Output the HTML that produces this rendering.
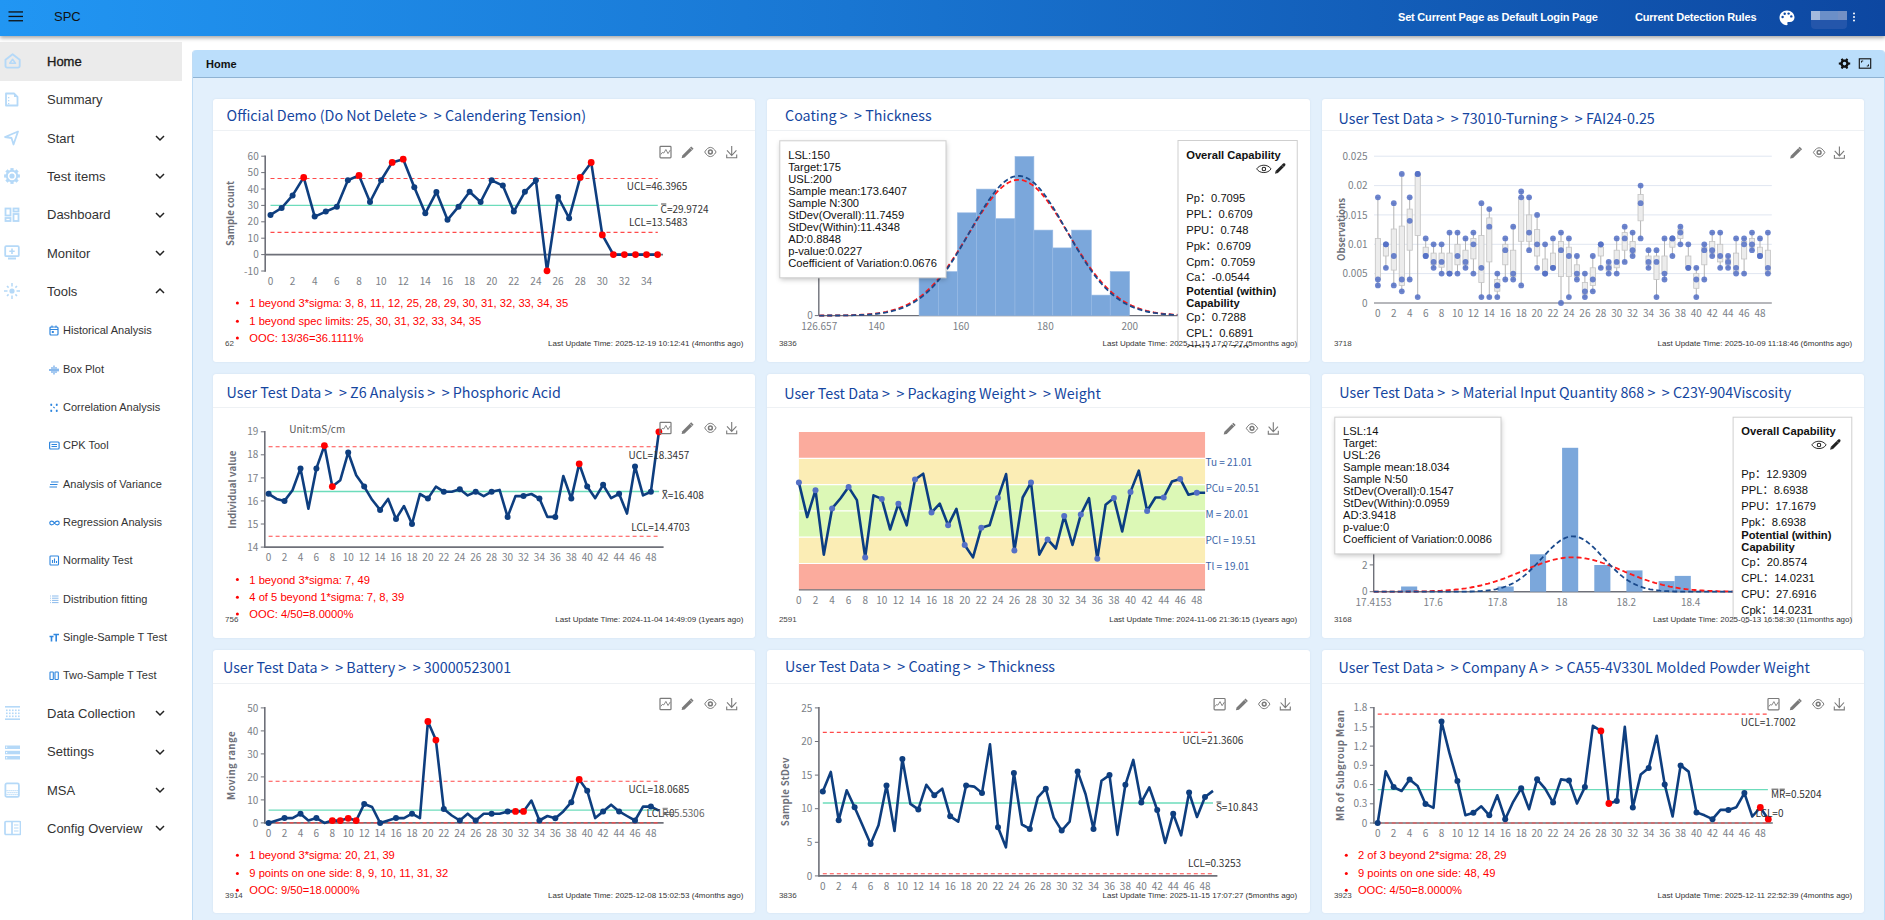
<!DOCTYPE html><html><head><meta charset="utf-8"><title>SPC</title><style>
*{margin:0;padding:0;box-sizing:border-box}
html,body{width:1885px;height:920px;overflow:hidden;background:#fff;font-family:"Liberation Sans",Arial,sans-serif;position:relative}
.abs{position:absolute}
#hdr{position:absolute;left:0;top:0;width:1885px;height:36px;background:linear-gradient(90deg,#2196f3 0%,#1976d2 45%,#0d47a1 100%);box-shadow:0 2px 4px rgba(0,0,0,.35);z-index:5}
#side{position:absolute;left:0;top:36px;width:182px;height:884px;background:#fff}
.mi{position:absolute;left:0;width:182px;height:38px;font-size:13px;color:#333}
.mi .t{position:absolute;left:47px;top:0;line-height:38px}
.si{position:absolute;left:0;width:182px;height:38px;font-size:11px;color:#333}
.si .t{position:absolute;left:63px;line-height:38px}
#panel{position:absolute;left:192px;top:50px;width:1693px;height:870px;background:#e3f0fc;border-left:1px solid #bfdcf5;border-right:1px solid #bbdcf7;border-radius:4px 4px 0 0}
#tab{position:absolute;left:0;top:0;right:0;height:28px;background:#bbdefb;border-bottom:1px solid #8fb3d3;border-radius:4px 4px 0 0}
.card{position:absolute;background:#fff;border-radius:3px;overflow:hidden;box-shadow:0 0 2px rgba(120,150,180,.18)}
.ttl{position:absolute;left:0;top:0;right:0;height:33px;border-bottom:1px solid #eef1f4;font-family:"Noto Sans CJK SC","Liberation Sans",sans-serif;font-size:14.3px;font-weight:400;color:#1546a0;white-space:nowrap}
.ttl span{position:absolute;top:5px;line-height:20px}
svg text{font-family:"Liberation Sans",Arial,sans-serif}
</style></head><body>
<div id="hdr">
<svg class="abs" style="left:8px;top:10px" width="16" height="14"><rect x="0.5" y="1.3" width="14.5" height="1.3" fill="#111"/><rect x="0.5" y="5.8" width="14.5" height="1.3" fill="#111"/><rect x="0.5" y="10.1" width="14.5" height="1.3" fill="#111"/></svg>
<div class="abs" style="left:54px;top:9px;font-size:13px;color:#111;line-height:15px">SPC</div>
<div class="abs" style="left:1398px;top:11px;font-size:11px;font-weight:bold;color:#fff;line-height:13px;letter-spacing:-0.2px">Set Current Page as Default Login Page</div>
<div class="abs" style="left:1635px;top:11px;font-size:11px;font-weight:bold;color:#fff;line-height:13px;letter-spacing:-0.2px">Current Detection Rules</div>
<svg class="abs" style="left:1778px;top:9px" width="18" height="18" viewBox="0 0 18 18"><path d="M9 1.5C4.8 1.5 1.5 4.6 1.5 8.6c0 4 3.3 7.6 7 7.6 1 0 1.3-.7 1-1.4-.4-.9-.3-1.8.8-1.8h1.6c2.6 0 4.6-1.8 4.6-4.5C16.5 4.6 13.2 1.5 9 1.5z" fill="#fff"/><circle cx="4.6" cy="8" r="1.2" fill="#0e4aa8"/><circle cx="6.7" cy="4.8" r="1.2" fill="#0e4aa8"/><circle cx="10.6" cy="4.6" r="1.2" fill="#0e4aa8"/><circle cx="13.3" cy="7.4" r="1.2" fill="#0e4aa8"/></svg>
<div class="abs" style="left:1811px;top:11px;width:36px;height:18px;border-radius:0 0 4px 4px;background:#2456ab"></div>
<div class="abs" style="left:1811px;top:11px;width:9px;height:9px;background:#a3b9dd"></div>
<div class="abs" style="left:1820px;top:11px;width:18px;height:9px;background:#6b8fc8"></div>
<div class="abs" style="left:1838px;top:11px;width:9px;height:9px;background:#7490c4"></div>
<svg class="abs" style="left:1852px;top:12px" width="4" height="10"><circle cx="2" cy="1.5" r="1" fill="#fff"/><circle cx="2" cy="5" r="1" fill="#fff"/><circle cx="2" cy="8.5" r="1" fill="#fff"/></svg>
</div>
<div id="side">
<div class="abs" style="left:0;top:6px;width:182px;height:39px;background:#ebebeb"></div>
</div>
<div id="panel"><div id="tab"><div class="abs" style="left:13px;top:8px;font-size:11px;font-weight:bold;color:#111;line-height:13px">Home</div></div></div>
<svg class="abs" style="left:1838px;top:57px" width="40" height="14" viewBox="1838 57 40 14"><path d="M1848.62 62.38 L1850.21 62.60 L1850.21 64.60 L1848.62 64.82 L1847.62 66.56 L1848.22 68.05 L1846.49 69.05 L1845.50 67.78 L1843.50 67.78 L1842.51 69.05 L1840.78 68.05 L1841.38 66.56 L1840.38 64.82 L1838.79 64.60 L1838.79 62.60 L1840.38 62.38 L1841.38 60.64 L1840.78 59.15 L1842.51 58.15 L1843.50 59.42 L1845.50 59.42 L1846.49 58.15 L1848.22 59.15 L1847.62 60.64 Z M1846.3 63.6 A1.8 1.8 0 1 0 1842.7 63.6 A1.8 1.8 0 1 0 1846.3 63.6 Z" fill="#111" fill-rule="evenodd"/><rect x="1859.3" y="58.8" width="11.4" height="9.4" fill="none" stroke="#111" stroke-width="1.1"/><path d="M1861.5 62.6 V61 H1863.2 M1868.5 64.4 V66 H1866.8" fill="none" stroke="#111" stroke-width="0.9"/></svg>
<div class="abs" style="left:47px;top:54.0px;font-size:13px;line-height:16px;color:#333;color:#1a1a1a;-webkit-text-stroke:0.35px #1a1a1a;white-space:nowrap">Home</div>
<svg class="abs" style="left:4px;top:53.2px" width="17" height="16" viewBox="0 0 17 16"><path d="M8.6 1.3 L15.7 6.8 V12.9 a1.7 1.7 0 0 1 -1.7 1.7 H3.2 a1.7 1.7 0 0 1 -1.7 -1.7 V6.8 Z" fill="none" stroke="#b5d9f8" stroke-width="1.9" stroke-linejoin="round"/><path d="M8.6 6.3 L11.5 10.3 H5.7 Z" fill="none" stroke="#b5d9f8" stroke-width="1.5" stroke-linejoin="round"/></svg>
<div class="abs" style="left:47px;top:92.4px;font-size:13px;line-height:16px;color:#333;white-space:nowrap">Summary</div>
<svg class="abs" style="left:4px;top:91.6px" width="17" height="16" viewBox="0 0 17 16"><path d="M2 1.5 H10 L13.5 5 V13.5 H2 Z" fill="none" stroke="#b5d9f8" stroke-width="1.8" stroke-linejoin="round"/><rect x="4" y="5" width="1.3" height="1.3" fill="#b5d9f8"/><rect x="4" y="8" width="1.3" height="1.3" fill="#b5d9f8"/><rect x="4" y="11" width="1.3" height="1.3" fill="#b5d9f8"/><path d="M10 1.5 V5 H13.5" fill="#b5d9f8"/></svg>
<div class="abs" style="left:47px;top:130.7px;font-size:13px;line-height:16px;color:#333;white-space:nowrap">Start</div>
<svg class="abs" style="left:4px;top:129.9px" width="17" height="16" viewBox="0 0 17 16"><path d="M14 1.5 L1 7 L7.5 8 L9.5 14.5 Z" fill="none" stroke="#b5d9f8" stroke-width="1.8" stroke-linejoin="round"/></svg>
<svg class="abs" style="left:154.5px;top:133.9px" width="10" height="8"><path d="M1 2 L5 6 L9 2" fill="none" stroke="#222" stroke-width="1.5"/></svg>
<div class="abs" style="left:47px;top:169.1px;font-size:13px;line-height:16px;color:#333;white-space:nowrap">Test items</div>
<svg class="abs" style="left:4px;top:168.2px" width="17" height="16" viewBox="0 0 17 16"><rect x="12.70" y="6.40" width="3.2" height="3.2" fill="#b5d9f8" transform="rotate(0 14.30 8.00)"/><rect x="10.85" y="10.85" width="3.2" height="3.2" fill="#b5d9f8" transform="rotate(45 12.45 12.45)"/><rect x="6.40" y="12.70" width="3.2" height="3.2" fill="#b5d9f8" transform="rotate(90 8.00 14.30)"/><rect x="1.95" y="10.85" width="3.2" height="3.2" fill="#b5d9f8" transform="rotate(135 3.55 12.45)"/><rect x="0.10" y="6.40" width="3.2" height="3.2" fill="#b5d9f8" transform="rotate(180 1.70 8.00)"/><rect x="1.95" y="1.95" width="3.2" height="3.2" fill="#b5d9f8" transform="rotate(225 3.55 3.55)"/><rect x="6.40" y="0.10" width="3.2" height="3.2" fill="#b5d9f8" transform="rotate(270 8.00 1.70)"/><rect x="10.85" y="1.95" width="3.2" height="3.2" fill="#b5d9f8" transform="rotate(315 12.45 3.55)"/><circle cx="8" cy="8" r="5.2" fill="none" stroke="#b5d9f8" stroke-width="2"/><circle cx="8" cy="8" r="2.6" fill="#b5d9f8"/></svg>
<svg class="abs" style="left:154.5px;top:172.2px" width="10" height="8"><path d="M1 2 L5 6 L9 2" fill="none" stroke="#222" stroke-width="1.5"/></svg>
<div class="abs" style="left:47px;top:207.4px;font-size:13px;line-height:16px;color:#333;white-space:nowrap">Dashboard</div>
<svg class="abs" style="left:4px;top:206.6px" width="17" height="16" viewBox="0 0 17 16"><rect x="1.5" y="1.5" width="5" height="7" fill="none" stroke="#b5d9f8" stroke-width="1.8"/><rect x="9.5" y="1.5" width="5" height="3" fill="none" stroke="#b5d9f8" stroke-width="1.8"/><rect x="1.5" y="11" width="5" height="3" fill="none" stroke="#b5d9f8" stroke-width="1.8"/><rect x="9.5" y="7" width="5" height="7" fill="none" stroke="#b5d9f8" stroke-width="1.8"/></svg>
<svg class="abs" style="left:154.5px;top:210.6px" width="10" height="8"><path d="M1 2 L5 6 L9 2" fill="none" stroke="#222" stroke-width="1.5"/></svg>
<div class="abs" style="left:47px;top:245.8px;font-size:13px;line-height:16px;color:#333;white-space:nowrap">Monitor</div>
<svg class="abs" style="left:4px;top:244.9px" width="17" height="16" viewBox="0 0 17 16"><rect x="1.2" y="1.2" width="13.6" height="10" rx="1" fill="none" stroke="#b5d9f8" stroke-width="1.8"/><rect x="4" y="12.5" width="8" height="2" fill="#b5d9f8"/><path d="M8 3.6 V9 M5.3 6.3 H10.7" stroke="#b5d9f8" stroke-width="1.6"/></svg>
<svg class="abs" style="left:154.5px;top:248.9px" width="10" height="8"><path d="M1 2 L5 6 L9 2" fill="none" stroke="#222" stroke-width="1.5"/></svg>
<div class="abs" style="left:47px;top:284.1px;font-size:13px;line-height:16px;color:#333;white-space:nowrap">Tools</div>
<svg class="abs" style="left:4px;top:283.3px" width="17" height="16" viewBox="0 0 17 16"><circle cx="8" cy="8" r="2.6" fill="#b5d9f8"/><path d="M8 0 V3.5 M8 12.5 V16 M0 8 H3.5 M12.5 8 H16 M3 3 L4.6 4.6 M13 3 L11.4 4.6 M3 13 L4.6 11.4 M13 13 L11.4 11.4" stroke="#b5d9f8" stroke-width="1.5"/></svg>
<svg class="abs" style="left:154.5px;top:287.3px" width="10" height="8"><path d="M1 6 L5 2 L9 6" fill="none" stroke="#222" stroke-width="1.5"/></svg>
<div class="abs" style="left:63px;top:324.1px;font-size:11px;line-height:13px;color:#333;white-space:nowrap">Historical Analysis</div>
<svg class="abs" style="left:48.5px;top:325.1px" width="11" height="11" viewBox="0 0 11 11"><rect x="1" y="2" width="8" height="8" rx="1" fill="none" stroke="#2f86de" stroke-width="1.2"/><path d="M1 4.5 H9 M3 0.5 V2.5 M7 0.5 V2.5" stroke="#2f86de" stroke-width="1.1"/><rect x="2.8" y="6" width="2" height="2" fill="#2f86de"/></svg>
<div class="abs" style="left:63px;top:362.5px;font-size:11px;line-height:13px;color:#333;white-space:nowrap">Box Plot</div>
<svg class="abs" style="left:48.5px;top:363.5px" width="11" height="11" viewBox="0 0 11 11"><path d="M1 5 V7 M3 3 V9 M5 1.5 V10.5 M7 3 V9 M9 4.5 V7.5" stroke="#5d9ee6" stroke-width="1.1"/><path d="M0 6 H10" stroke="#5d9ee6" stroke-width="0.8"/></svg>
<div class="abs" style="left:63px;top:400.9px;font-size:11px;line-height:13px;color:#333;white-space:nowrap">Correlation Analysis</div>
<svg class="abs" style="left:48.5px;top:401.9px" width="11" height="11" viewBox="0 0 11 11"><path d="M1.5 2 L3 3.5 M7 2 L8.5 3.5 M1.5 8 L3 9.5 M7 8 L8.5 9.5 M4.3 4.8 L5.7 6.2 M8.5 2 L7 3.5 M3 2 L1.5 3.5 M3 8 L1.5 9.5 M8.5 8 L7 9.5" stroke="#2f86de" stroke-width="1.1"/></svg>
<div class="abs" style="left:63px;top:439.2px;font-size:11px;line-height:13px;color:#333;white-space:nowrap">CPK Tool</div>
<svg class="abs" style="left:48.5px;top:440.2px" width="11" height="11" viewBox="0 0 11 11"><rect x="0.6" y="2" width="9.5" height="7" rx="1" fill="none" stroke="#2f86de" stroke-width="1.2"/><path d="M2.5 4.5 H8 M2.5 6.5 H8" stroke="#2f86de" stroke-width="1"/></svg>
<div class="abs" style="left:63px;top:477.6px;font-size:11px;line-height:13px;color:#333;white-space:nowrap">Analysis of Variance</div>
<svg class="abs" style="left:48.5px;top:478.6px" width="11" height="11" viewBox="0 0 11 11"><path d="M2 3 H9.5 M1 5.5 H8.5 M0.5 8 H8" stroke="#2f86de" stroke-width="1.1"/></svg>
<div class="abs" style="left:63px;top:515.9px;font-size:11px;line-height:13px;color:#333;white-space:nowrap">Regression Analysis</div>
<svg class="abs" style="left:48.5px;top:516.9px" width="11" height="11" viewBox="0 0 11 11"><path d="M5.5 6 C4 3.5 0.8 3.5 0.8 6 C0.8 8.5 4 8.5 5.5 6 C7 3.5 10.2 3.5 10.2 6 C10.2 8.5 7 8.5 5.5 6 Z" fill="none" stroke="#2f86de" stroke-width="1.2"/></svg>
<div class="abs" style="left:63px;top:554.2px;font-size:11px;line-height:13px;color:#333;white-space:nowrap">Normality Test</div>
<svg class="abs" style="left:48.5px;top:555.2px" width="11" height="11" viewBox="0 0 11 11"><rect x="1" y="1" width="8.5" height="9" rx="0.8" fill="none" stroke="#2f86de" stroke-width="1.1"/><path d="M3.5 8 V5 M5.5 8 V3.5 M7.5 8 V6" stroke="#2f86de" stroke-width="1.1"/></svg>
<div class="abs" style="left:63px;top:592.6px;font-size:11px;line-height:13px;color:#333;white-space:nowrap">Distribution fitting</div>
<svg class="abs" style="left:48.5px;top:593.6px" width="11" height="11" viewBox="0 0 11 11"><path d="M1 2 H1.8 M3 2 H9.5" stroke="#7fb3ea" stroke-width="0.9"/><path d="M1 4.2 H1.8 M3 4.2 H9.5" stroke="#7fb3ea" stroke-width="0.9"/><path d="M1 6.4 H1.8 M3 6.4 H9.5" stroke="#7fb3ea" stroke-width="0.9"/><path d="M1 8.6 H1.8 M3 8.6 H9.5" stroke="#7fb3ea" stroke-width="0.9"/></svg>
<div class="abs" style="left:63px;top:631.0px;font-size:11px;line-height:13px;color:#333;white-space:nowrap">Single-Sample T Test</div>
<svg class="abs" style="left:48.5px;top:632.0px" width="11" height="11" viewBox="0 0 11 11"><path d="M0.5 4.5 H4.5 M2.5 4.5 V9.5 M4.5 2.5 H10 M7.2 2.5 V9.5" stroke="#2f86de" stroke-width="1.6"/></svg>
<div class="abs" style="left:63px;top:669.3px;font-size:11px;line-height:13px;color:#333;white-space:nowrap">Two-Sample T Test</div>
<svg class="abs" style="left:48.5px;top:670.3px" width="11" height="11" viewBox="0 0 11 11"><rect x="1" y="2" width="3.3" height="7.5" rx="0.6" fill="none" stroke="#2f86de" stroke-width="1.1"/><rect x="6" y="2" width="3.3" height="7.5" rx="0.6" fill="none" stroke="#2f86de" stroke-width="1.1"/></svg>
<div class="abs" style="left:47px;top:706.0px;font-size:13px;line-height:16px;color:#333;white-space:nowrap">Data Collection</div>
<svg class="abs" style="left:4px;top:705.2px" width="17" height="16" viewBox="0 0 17 16"><rect x="1" y="1" width="15" height="1.6" fill="#b5d9f8"/><rect x="1" y="13.4" width="15" height="1.6" fill="#b5d9f8"/><rect x="2" y="4.5" width="1.6" height="1.6" fill="#b5d9f8"/><rect x="5" y="4.5" width="1.6" height="1.6" fill="#b5d9f8"/><rect x="8" y="4.5" width="1.6" height="1.6" fill="#b5d9f8"/><rect x="11" y="4.5" width="1.6" height="1.6" fill="#b5d9f8"/><rect x="14" y="4.5" width="1.6" height="1.6" fill="#b5d9f8"/><rect x="2" y="7.5" width="1.6" height="1.6" fill="#b5d9f8"/><rect x="5" y="7.5" width="1.6" height="1.6" fill="#b5d9f8"/><rect x="8" y="7.5" width="1.6" height="1.6" fill="#b5d9f8"/><rect x="11" y="7.5" width="1.6" height="1.6" fill="#b5d9f8"/><rect x="14" y="7.5" width="1.6" height="1.6" fill="#b5d9f8"/><rect x="2" y="10.5" width="1.6" height="1.6" fill="#b5d9f8"/><rect x="5" y="10.5" width="1.6" height="1.6" fill="#b5d9f8"/><rect x="8" y="10.5" width="1.6" height="1.6" fill="#b5d9f8"/><rect x="11" y="10.5" width="1.6" height="1.6" fill="#b5d9f8"/><rect x="14" y="10.5" width="1.6" height="1.6" fill="#b5d9f8"/></svg>
<svg class="abs" style="left:154.5px;top:709.2px" width="10" height="8"><path d="M1 2 L5 6 L9 2" fill="none" stroke="#222" stroke-width="1.5"/></svg>
<div class="abs" style="left:47px;top:744.3px;font-size:13px;line-height:16px;color:#333;white-space:nowrap">Settings</div>
<svg class="abs" style="left:4px;top:743.5px" width="17" height="16" viewBox="0 0 17 16"><rect x="1" y="1.5" width="15" height="3.5" fill="#b5d9f8"/><rect x="1" y="6.8" width="15" height="3.5" fill="#b5d9f8"/><rect x="1" y="12" width="15" height="3.5" fill="#b5d9f8"/><rect x="2" y="2.6" width="1.2" height="1.2" fill="#fff"/><rect x="2" y="8" width="1.2" height="1.2" fill="#fff"/><rect x="2" y="13.2" width="1.2" height="1.2" fill="#fff"/></svg>
<svg class="abs" style="left:154.5px;top:747.5px" width="10" height="8"><path d="M1 2 L5 6 L9 2" fill="none" stroke="#222" stroke-width="1.5"/></svg>
<div class="abs" style="left:47px;top:782.6px;font-size:13px;line-height:16px;color:#333;white-space:nowrap">MSA</div>
<svg class="abs" style="left:4px;top:781.9px" width="17" height="16" viewBox="0 0 17 16"><rect x="1.4" y="1.4" width="13.5" height="13.5" rx="1.5" fill="none" stroke="#b5d9f8" stroke-width="1.8"/><rect x="2.5" y="8" width="1.2" height="1.2" fill="#b5d9f8"/><rect x="4.5" y="8" width="1.2" height="1.2" fill="#b5d9f8"/><rect x="6.5" y="8" width="1.2" height="1.2" fill="#b5d9f8"/><rect x="8.5" y="8" width="1.2" height="1.2" fill="#b5d9f8"/><rect x="10.5" y="8" width="1.2" height="1.2" fill="#b5d9f8"/><rect x="12.5" y="8" width="1.2" height="1.2" fill="#b5d9f8"/><rect x="3.5" y="10" width="1.2" height="1.2" fill="#b5d9f8"/><rect x="5.5" y="10" width="1.2" height="1.2" fill="#b5d9f8"/><rect x="7.5" y="10" width="1.2" height="1.2" fill="#b5d9f8"/><rect x="9.5" y="10" width="1.2" height="1.2" fill="#b5d9f8"/><rect x="11.5" y="10" width="1.2" height="1.2" fill="#b5d9f8"/><rect x="13.5" y="10" width="1.2" height="1.2" fill="#b5d9f8"/><rect x="2.5" y="12" width="1.2" height="1.2" fill="#b5d9f8"/><rect x="4.5" y="12" width="1.2" height="1.2" fill="#b5d9f8"/><rect x="6.5" y="12" width="1.2" height="1.2" fill="#b5d9f8"/><rect x="8.5" y="12" width="1.2" height="1.2" fill="#b5d9f8"/><rect x="10.5" y="12" width="1.2" height="1.2" fill="#b5d9f8"/><rect x="12.5" y="12" width="1.2" height="1.2" fill="#b5d9f8"/></svg>
<svg class="abs" style="left:154.5px;top:785.9px" width="10" height="8"><path d="M1 2 L5 6 L9 2" fill="none" stroke="#222" stroke-width="1.5"/></svg>
<div class="abs" style="left:47px;top:821.0px;font-size:13px;line-height:16px;color:#333;white-space:nowrap">Config Overview</div>
<svg class="abs" style="left:4px;top:820.2px" width="17" height="16" viewBox="0 0 17 16"><rect x="1" y="1.5" width="15.5" height="13" rx="1" fill="none" stroke="#b5d9f8" stroke-width="1.7"/><path d="M8 1.5 V14.5" stroke="#b5d9f8" stroke-width="1.7"/><path d="M10 5 H14.5 M10 8 H14.5 M10 11 H14.5" stroke="#b5d9f8" stroke-width="1.2"/></svg>
<svg class="abs" style="left:154.5px;top:824.2px" width="10" height="8"><path d="M1 2 L5 6 L9 2" fill="none" stroke="#222" stroke-width="1.5"/></svg>
<div class="card" style="left:212.8px;top:98.9px;width:542.2px;height:263.4px">
<div class="ttl" style="height:32.6px"><span style="left:13.8px;top:6.6px">Official Demo (Do Not Delete &gt;&nbsp; &gt; Calendering Tension)</span></div>
</div>
<svg class="abs" style="left:212px;top:98px;overflow:hidden" width="543" height="265" viewBox="212 98 543 265"><line x1="265.2" y1="155.4" x2="265.2" y2="271.8" stroke="#6e7079" stroke-width="1.6"/><line x1="265.2" y1="254.6" x2="663.0" y2="254.6" stroke="#6e7079" stroke-width="1.6"/><line x1="270.5" y1="178.5" x2="657.8" y2="178.5" stroke="#ff4a4a" stroke-width="1.1" stroke-dasharray="4 3"/><line x1="270.5" y1="205.4" x2="657.8" y2="205.4" stroke="#6cdcbb" stroke-width="1.3"/><line x1="270.5" y1="232.4" x2="657.8" y2="232.4" stroke="#ff4a4a" stroke-width="1.1" stroke-dasharray="4 3"/><line x1="261.2" y1="271.0" x2="265.2" y2="271.0" stroke="#6e7079" stroke-width="1"/><text x="258.7" y="274.6" font-size="10" fill="#7b7f87" text-anchor="end" style="font-family:&quot;Noto Sans CJK SC&quot;,&quot;Liberation Sans&quot;,sans-serif" >-10</text><line x1="261.2" y1="254.6" x2="265.2" y2="254.6" stroke="#6e7079" stroke-width="1"/><text x="258.7" y="258.2" font-size="10" fill="#7b7f87" text-anchor="end" style="font-family:&quot;Noto Sans CJK SC&quot;,&quot;Liberation Sans&quot;,sans-serif" >0</text><line x1="261.2" y1="238.2" x2="265.2" y2="238.2" stroke="#6e7079" stroke-width="1"/><text x="258.7" y="241.8" font-size="10" fill="#7b7f87" text-anchor="end" style="font-family:&quot;Noto Sans CJK SC&quot;,&quot;Liberation Sans&quot;,sans-serif" >10</text><line x1="261.2" y1="221.8" x2="265.2" y2="221.8" stroke="#6e7079" stroke-width="1"/><text x="258.7" y="225.4" font-size="10" fill="#7b7f87" text-anchor="end" style="font-family:&quot;Noto Sans CJK SC&quot;,&quot;Liberation Sans&quot;,sans-serif" >20</text><line x1="261.2" y1="205.4" x2="265.2" y2="205.4" stroke="#6e7079" stroke-width="1"/><text x="258.7" y="209.0" font-size="10" fill="#7b7f87" text-anchor="end" style="font-family:&quot;Noto Sans CJK SC&quot;,&quot;Liberation Sans&quot;,sans-serif" >30</text><line x1="261.2" y1="189.0" x2="265.2" y2="189.0" stroke="#6e7079" stroke-width="1"/><text x="258.7" y="192.6" font-size="10" fill="#7b7f87" text-anchor="end" style="font-family:&quot;Noto Sans CJK SC&quot;,&quot;Liberation Sans&quot;,sans-serif" >40</text><line x1="261.2" y1="172.6" x2="265.2" y2="172.6" stroke="#6e7079" stroke-width="1"/><text x="258.7" y="176.2" font-size="10" fill="#7b7f87" text-anchor="end" style="font-family:&quot;Noto Sans CJK SC&quot;,&quot;Liberation Sans&quot;,sans-serif" >50</text><line x1="261.2" y1="156.2" x2="265.2" y2="156.2" stroke="#6e7079" stroke-width="1"/><text x="258.7" y="159.8" font-size="10" fill="#7b7f87" text-anchor="end" style="font-family:&quot;Noto Sans CJK SC&quot;,&quot;Liberation Sans&quot;,sans-serif" >60</text><text x="270.5" y="284.8" font-size="10" fill="#7b7f87" text-anchor="middle" style="font-family:&quot;Noto Sans CJK SC&quot;,&quot;Liberation Sans&quot;,sans-serif" >0</text><text x="292.6" y="284.8" font-size="10" fill="#7b7f87" text-anchor="middle" style="font-family:&quot;Noto Sans CJK SC&quot;,&quot;Liberation Sans&quot;,sans-serif" >2</text><text x="314.7" y="284.8" font-size="10" fill="#7b7f87" text-anchor="middle" style="font-family:&quot;Noto Sans CJK SC&quot;,&quot;Liberation Sans&quot;,sans-serif" >4</text><text x="336.9" y="284.8" font-size="10" fill="#7b7f87" text-anchor="middle" style="font-family:&quot;Noto Sans CJK SC&quot;,&quot;Liberation Sans&quot;,sans-serif" >6</text><text x="359.0" y="284.8" font-size="10" fill="#7b7f87" text-anchor="middle" style="font-family:&quot;Noto Sans CJK SC&quot;,&quot;Liberation Sans&quot;,sans-serif" >8</text><text x="381.1" y="284.8" font-size="10" fill="#7b7f87" text-anchor="middle" style="font-family:&quot;Noto Sans CJK SC&quot;,&quot;Liberation Sans&quot;,sans-serif" >10</text><text x="403.2" y="284.8" font-size="10" fill="#7b7f87" text-anchor="middle" style="font-family:&quot;Noto Sans CJK SC&quot;,&quot;Liberation Sans&quot;,sans-serif" >12</text><text x="425.3" y="284.8" font-size="10" fill="#7b7f87" text-anchor="middle" style="font-family:&quot;Noto Sans CJK SC&quot;,&quot;Liberation Sans&quot;,sans-serif" >14</text><text x="447.5" y="284.8" font-size="10" fill="#7b7f87" text-anchor="middle" style="font-family:&quot;Noto Sans CJK SC&quot;,&quot;Liberation Sans&quot;,sans-serif" >16</text><text x="469.6" y="284.8" font-size="10" fill="#7b7f87" text-anchor="middle" style="font-family:&quot;Noto Sans CJK SC&quot;,&quot;Liberation Sans&quot;,sans-serif" >18</text><text x="491.7" y="284.8" font-size="10" fill="#7b7f87" text-anchor="middle" style="font-family:&quot;Noto Sans CJK SC&quot;,&quot;Liberation Sans&quot;,sans-serif" >20</text><text x="513.8" y="284.8" font-size="10" fill="#7b7f87" text-anchor="middle" style="font-family:&quot;Noto Sans CJK SC&quot;,&quot;Liberation Sans&quot;,sans-serif" >22</text><text x="535.9" y="284.8" font-size="10" fill="#7b7f87" text-anchor="middle" style="font-family:&quot;Noto Sans CJK SC&quot;,&quot;Liberation Sans&quot;,sans-serif" >24</text><text x="558.1" y="284.8" font-size="10" fill="#7b7f87" text-anchor="middle" style="font-family:&quot;Noto Sans CJK SC&quot;,&quot;Liberation Sans&quot;,sans-serif" >26</text><text x="580.2" y="284.8" font-size="10" fill="#7b7f87" text-anchor="middle" style="font-family:&quot;Noto Sans CJK SC&quot;,&quot;Liberation Sans&quot;,sans-serif" >28</text><text x="602.3" y="284.8" font-size="10" fill="#7b7f87" text-anchor="middle" style="font-family:&quot;Noto Sans CJK SC&quot;,&quot;Liberation Sans&quot;,sans-serif" >30</text><text x="624.4" y="284.8" font-size="10" fill="#7b7f87" text-anchor="middle" style="font-family:&quot;Noto Sans CJK SC&quot;,&quot;Liberation Sans&quot;,sans-serif" >32</text><text x="646.5" y="284.8" font-size="10" fill="#7b7f87" text-anchor="middle" style="font-family:&quot;Noto Sans CJK SC&quot;,&quot;Liberation Sans&quot;,sans-serif" >34</text><text x="234.4" y="213.5" font-size="9.6" fill="#6e7079" text-anchor="middle" style="font-family:&quot;Noto Sans CJK SC&quot;,&quot;Liberation Sans&quot;,sans-serif" font-weight="bold" letter-spacing="0" transform="rotate(-90 234.4 213.5)">Sample count</text><polyline points="270.5,214.9 281.6,208.0 292.6,195.4 303.7,177.4 314.7,216.6 325.8,211.6 336.9,206.7 347.9,180.3 359.0,175.4 370.0,202.0 381.1,180.3 392.2,162.4 403.2,159.2 414.3,187.2 425.3,213.3 436.4,192.1 447.5,219.8 458.5,206.7 469.6,191.8 480.6,202.0 491.7,180.3 502.8,185.6 513.8,211.6 524.9,191.8 535.9,180.3 547.0,270.8 558.1,197.0 569.1,218.2 580.2,177.4 591.2,162.4 602.3,234.9 613.4,254.6 624.4,254.6 635.5,254.6 646.5,254.6 657.6,254.6" fill="none" stroke="#0e3e7f" stroke-width="2.6" stroke-linejoin="round"/><circle cx="270.5" cy="214.9" r="3" fill="#0e3e7f"/><circle cx="281.6" cy="208.0" r="3" fill="#0e3e7f"/><circle cx="292.6" cy="195.4" r="3" fill="#0e3e7f"/><circle cx="314.7" cy="216.6" r="3" fill="#0e3e7f"/><circle cx="325.8" cy="211.6" r="3" fill="#0e3e7f"/><circle cx="336.9" cy="206.7" r="3" fill="#0e3e7f"/><circle cx="347.9" cy="180.3" r="3" fill="#0e3e7f"/><circle cx="370.0" cy="202.0" r="3" fill="#0e3e7f"/><circle cx="381.1" cy="180.3" r="3" fill="#0e3e7f"/><circle cx="414.3" cy="187.2" r="3" fill="#0e3e7f"/><circle cx="425.3" cy="213.3" r="3" fill="#0e3e7f"/><circle cx="436.4" cy="192.1" r="3" fill="#0e3e7f"/><circle cx="447.5" cy="219.8" r="3" fill="#0e3e7f"/><circle cx="458.5" cy="206.7" r="3" fill="#0e3e7f"/><circle cx="469.6" cy="191.8" r="3" fill="#0e3e7f"/><circle cx="480.6" cy="202.0" r="3" fill="#0e3e7f"/><circle cx="491.7" cy="180.3" r="3" fill="#0e3e7f"/><circle cx="502.8" cy="185.6" r="3" fill="#0e3e7f"/><circle cx="513.8" cy="211.6" r="3" fill="#0e3e7f"/><circle cx="524.9" cy="191.8" r="3" fill="#0e3e7f"/><circle cx="535.9" cy="180.3" r="3" fill="#0e3e7f"/><circle cx="558.1" cy="197.0" r="3" fill="#0e3e7f"/><circle cx="569.1" cy="218.2" r="3" fill="#0e3e7f"/><circle cx="303.7" cy="177.4" r="3.4" fill="#ff0000"/><circle cx="359.0" cy="175.4" r="3.4" fill="#ff0000"/><circle cx="392.2" cy="162.4" r="3.4" fill="#ff0000"/><circle cx="403.2" cy="159.2" r="3.4" fill="#ff0000"/><circle cx="547.0" cy="270.8" r="3.4" fill="#ff0000"/><circle cx="580.2" cy="177.4" r="3.4" fill="#ff0000"/><circle cx="591.2" cy="162.4" r="3.4" fill="#ff0000"/><circle cx="602.3" cy="234.9" r="3.4" fill="#ff0000"/><circle cx="613.4" cy="254.6" r="3.4" fill="#ff0000"/><circle cx="624.4" cy="254.6" r="3.4" fill="#ff0000"/><circle cx="635.5" cy="254.6" r="3.4" fill="#ff0000"/><circle cx="646.5" cy="254.6" r="3.4" fill="#ff0000"/><circle cx="657.6" cy="254.6" r="3.4" fill="#ff0000"/><text x="626.7" y="189.8" font-size="10" fill="#333" text-anchor="start" style="font-family:&quot;Noto Sans CJK SC&quot;,&quot;Liberation Sans&quot;,sans-serif" >UCL=46.3965</text><line x1="661.1" y1="204.0" x2="666.3" y2="204.0" stroke="#333" stroke-width="0.9"/><text x="660.5" y="212.6" font-size="10" fill="#333" text-anchor="start" style="font-family:&quot;Noto Sans CJK SC&quot;,&quot;Liberation Sans&quot;,sans-serif" >C=29.9724</text><text x="629.0" y="226.3" font-size="10" fill="#333" text-anchor="start" style="font-family:&quot;Noto Sans CJK SC&quot;,&quot;Liberation Sans&quot;,sans-serif" >LCL=13.5483</text><rect x="660.0" y="146.4" width="11" height="11.4" rx="0.8" fill="none" stroke="#7a7a7a" stroke-width="1.2"/><path d="M660.8 154.5 L662.3 152.5 L663.8 153.0 L665.9 149.5 L668.0 153.6 L670.3 150.0" fill="none" stroke="#7a7a7a" stroke-width="0.9"/><path d="M681.6 158.2 L682.3 155.4 L691.2 146.4 L693.6 148.8 L684.6 157.6 Z" fill="#7a7a7a"/><path d="M689.9 147.7 L692.3 150.1" stroke="#fff" stroke-width="0.7" opacity="0.8"/><path d="M704.7 152.0 C706.7 148.6 708.7 147.4 710.4 147.4 C712.1 147.4 714.1 148.6 716.1 152.0 C714.1 155.4 712.1 156.6 710.4 156.6 C708.7 156.6 706.7 155.4 704.7 152.0 Z" fill="none" stroke="#7a7a7a" stroke-width="1"/><circle cx="710.4" cy="152.0" r="1.9" fill="none" stroke="#7a7a7a" stroke-width="1.5"/><path d="M731.7 146.0 V155.5 M727.0 150.4 L731.7 155.5 L736.4 150.4 M726.7 154.5 V157.8 H736.7 V154.5" fill="none" stroke="#7a7a7a" stroke-width="1.1"/><circle cx="237.4" cy="303.0" r="1.5" fill="#ff0000"/><text x="249.3" y="307.0" font-size="11.2" fill="#ff0000" text-anchor="start" style="font-family:&quot;Liberation Sans&quot;,Arial,sans-serif" >1 beyond 3*sigma: 3, 8, 11, 12, 25, 28, 29, 30, 31, 32, 33, 34, 35</text><circle cx="237.4" cy="321.3" r="1.5" fill="#ff0000"/><text x="249.3" y="325.3" font-size="11.2" fill="#ff0000" text-anchor="start" style="font-family:&quot;Liberation Sans&quot;,Arial,sans-serif" >1 beyond spec limits: 25, 30, 31, 32, 33, 34, 35</text><circle cx="237.4" cy="338.0" r="1.5" fill="#ff0000"/><text x="249.3" y="342.0" font-size="11.2" fill="#ff0000" text-anchor="start" style="font-family:&quot;Liberation Sans&quot;,Arial,sans-serif" >OOC: 13/36=36.1111%</text><text x="225.0" y="346.0" font-size="8" fill="#444" text-anchor="start" style="font-family:&quot;Liberation Sans&quot;,Arial,sans-serif" >62</text><text x="743.3" y="346.0" font-size="8" fill="#333" text-anchor="end" style="font-family:&quot;Liberation Sans&quot;,Arial,sans-serif" >Last Update Time: 2025-12-19 10:12:41 (4months ago)</text></svg>
<div class="card" style="left:767.45px;top:98.9px;width:542.3px;height:263.4px">
<div class="ttl" style="height:32.6px"><span style="left:17.6px;top:6.6px">Coating &gt;&nbsp; &gt; Thickness</span></div>
</div>
<svg class="abs" style="left:767px;top:98px;overflow:hidden" width="543" height="265" viewBox="767 98 543 265"><defs><filter id="blur2" x="-10%" y="-10%" width="120%" height="125%"><feGaussianBlur stdDeviation="2.6"/></filter><clipPath id="cp2"><rect x="1170" y="130" width="140" height="217.5"/></clipPath></defs><line x1="818.8" y1="315.6" x2="1217" y2="315.6" stroke="#6e7079" stroke-width="1.4"/><line x1="818.8" y1="315.6" x2="818.8" y2="200" stroke="#6e7079" stroke-width="1.4"/><line x1="814.8" y1="315.6" x2="818.8" y2="315.6" stroke="#6e7079" stroke-width="1"/><text x="812.8" y="319.2" font-size="10" fill="#7b7f87" text-anchor="end" style="font-family:&quot;Noto Sans CJK SC&quot;,&quot;Liberation Sans&quot;,sans-serif" >0</text><text x="819.2" y="329.6" font-size="10" fill="#7b7f87" text-anchor="middle" style="font-family:&quot;Noto Sans CJK SC&quot;,&quot;Liberation Sans&quot;,sans-serif" >126.657</text><text x="876.6" y="329.6" font-size="10" fill="#7b7f87" text-anchor="middle" style="font-family:&quot;Noto Sans CJK SC&quot;,&quot;Liberation Sans&quot;,sans-serif" >140</text><text x="961.0" y="329.6" font-size="10" fill="#7b7f87" text-anchor="middle" style="font-family:&quot;Noto Sans CJK SC&quot;,&quot;Liberation Sans&quot;,sans-serif" >160</text><text x="1045.4" y="329.6" font-size="10" fill="#7b7f87" text-anchor="middle" style="font-family:&quot;Noto Sans CJK SC&quot;,&quot;Liberation Sans&quot;,sans-serif" >180</text><text x="1129.8" y="329.6" font-size="10" fill="#7b7f87" text-anchor="middle" style="font-family:&quot;Noto Sans CJK SC&quot;,&quot;Liberation Sans&quot;,sans-serif" >200</text><rect x="919.1" y="271.6" width="19.2" height="44.0" fill="#7ba7db" stroke="#97b9e4" stroke-width="0.6"/><rect x="938.3" y="271.6" width="19.1" height="44.0" fill="#7ba7db" stroke="#97b9e4" stroke-width="0.6"/><rect x="957.4" y="212.8" width="19.1" height="102.8" fill="#7ba7db" stroke="#97b9e4" stroke-width="0.6"/><rect x="976.5" y="189.1" width="19.2" height="126.5" fill="#7ba7db" stroke="#97b9e4" stroke-width="0.6"/><rect x="995.7" y="218.6" width="19.3" height="97.0" fill="#7ba7db" stroke="#97b9e4" stroke-width="0.6"/><rect x="1015.0" y="156.5" width="18.9" height="159.1" fill="#7ba7db" stroke="#97b9e4" stroke-width="0.6"/><rect x="1033.9" y="230.1" width="18.9" height="85.5" fill="#7ba7db" stroke="#97b9e4" stroke-width="0.6"/><rect x="1052.8" y="247.9" width="18.9" height="67.7" fill="#7ba7db" stroke="#97b9e4" stroke-width="0.6"/><rect x="1071.7" y="230.1" width="19.6" height="85.5" fill="#7ba7db" stroke="#97b9e4" stroke-width="0.6"/><rect x="1091.3" y="295.1" width="18.9" height="20.5" fill="#7ba7db" stroke="#97b9e4" stroke-width="0.6"/><rect x="1110.2" y="271.6" width="19.4" height="44.0" fill="#7ba7db" stroke="#97b9e4" stroke-width="0.6"/><polyline points="819.2,315.6 821.7,315.5 824.2,315.5 826.6,315.5 829.1,315.5 831.6,315.5 834.1,315.5 836.6,315.4 839.0,315.4 841.5,315.4 844.0,315.3 846.5,315.3 849.0,315.2 851.4,315.1 853.9,315.1 856.4,315.0 858.9,314.8 861.4,314.7 863.8,314.6 866.3,314.4 868.8,314.2 871.3,314.0 873.8,313.7 876.2,313.4 878.7,313.1 881.2,312.7 883.7,312.3 886.2,311.8 888.6,311.2 891.1,310.6 893.6,309.9 896.1,309.2 898.6,308.4 901.0,307.4 903.5,306.4 906.0,305.3 908.5,304.1 911.0,302.7 913.4,301.3 915.9,299.7 918.4,298.0 920.9,296.1 923.4,294.1 925.8,292.0 928.3,289.7 930.8,287.3 933.3,284.7 935.8,282.0 938.2,279.1 940.7,276.0 943.2,272.9 945.7,269.5 948.2,266.1 950.6,262.5 953.1,258.8 955.6,255.0 958.1,251.1 960.6,247.1 963.0,243.1 965.5,239.0 968.0,234.9 970.5,230.8 973.0,226.7 975.4,222.6 977.9,218.6 980.4,214.6 982.9,210.8 985.4,207.1 987.8,203.5 990.3,200.1 992.8,197.0 995.3,194.0 997.8,191.2 1000.2,188.8 1002.7,186.6 1005.2,184.6 1007.7,183.0 1010.2,181.7 1012.6,180.8 1015.1,180.1 1017.6,179.8 1020.1,179.9 1022.6,180.2 1025.0,181.0 1027.5,182.0 1030.0,183.4 1032.5,185.0 1035.0,187.0 1037.4,189.3 1039.9,191.8 1042.4,194.6 1044.9,197.7 1047.4,200.9 1049.8,204.3 1052.3,207.9 1054.8,211.6 1057.3,215.5 1059.8,219.5 1062.2,223.5 1064.7,227.6 1067.2,231.7 1069.7,235.8 1072.2,239.9 1074.6,244.0 1077.1,248.0 1079.6,252.0 1082.1,255.8 1084.6,259.6 1087.0,263.3 1089.5,266.9 1092.0,270.3 1094.5,273.6 1097.0,276.7 1099.4,279.7 1101.9,282.6 1104.4,285.3 1106.9,287.8 1109.4,290.2 1111.8,292.5 1114.3,294.6 1116.8,296.5 1119.3,298.4 1121.8,300.1 1124.2,301.6 1126.7,303.0 1129.2,304.4 1131.7,305.6 1134.2,306.6 1136.6,307.6 1139.1,308.5 1141.6,309.4 1144.1,310.1 1146.6,310.8 1149.0,311.4 1151.5,311.9 1154.0,312.4 1156.5,312.8 1159.0,313.1 1161.4,313.5 1163.9,313.8 1166.4,314.0 1168.9,314.2 1171.4,314.4 1173.8,314.6 1176.3,314.7 1178.8,314.9 1181.3,315.0 1183.8,315.1 1186.2,315.2 1188.7,315.2 1191.2,315.3 1193.7,315.3 1196.2,315.4 1198.6,315.4 1201.1,315.4 1203.6,315.5 1206.1,315.5 1208.6,315.5 1211.0,315.5 1213.5,315.5 1216.0,315.6" fill="none" stroke="#ff1a1a" stroke-width="1.8" stroke-dasharray="5 3"/><polyline points="819.2,315.6 821.7,315.6 824.2,315.6 826.6,315.5 829.1,315.5 831.6,315.5 834.1,315.5 836.6,315.5 839.0,315.5 841.5,315.4 844.0,315.4 846.5,315.4 849.0,315.3 851.4,315.3 853.9,315.2 856.4,315.1 858.9,315.0 861.4,314.9 863.8,314.8 866.3,314.6 868.8,314.5 871.3,314.3 873.8,314.1 876.2,313.8 878.7,313.5 881.2,313.2 883.7,312.8 886.2,312.4 888.6,311.9 891.1,311.3 893.6,310.7 896.1,310.0 898.6,309.3 901.0,308.4 903.5,307.5 906.0,306.4 908.5,305.2 911.0,304.0 913.4,302.6 915.9,301.1 918.4,299.4 920.9,297.6 923.4,295.6 925.8,293.5 928.3,291.3 930.8,288.9 933.3,286.3 935.8,283.6 938.2,280.6 940.7,277.6 943.2,274.3 945.7,270.9 948.2,267.4 950.6,263.7 953.1,259.9 955.6,256.0 958.1,251.9 960.6,247.8 963.0,243.5 965.5,239.2 968.0,234.9 970.5,230.6 973.0,226.2 975.4,221.9 977.9,217.6 980.4,213.4 982.9,209.3 985.4,205.3 987.8,201.5 990.3,197.9 992.8,194.5 995.3,191.3 997.8,188.3 1000.2,185.6 1002.7,183.2 1005.2,181.2 1007.7,179.4 1010.2,178.0 1012.6,176.9 1015.1,176.3 1017.6,175.9 1020.1,176.0 1022.6,176.4 1025.0,177.2 1027.5,178.3 1030.0,179.8 1032.5,181.6 1035.0,183.7 1037.4,186.2 1039.9,188.9 1042.4,191.9 1044.9,195.2 1047.4,198.7 1049.8,202.4 1052.3,206.2 1054.8,210.2 1057.3,214.3 1059.8,218.6 1062.2,222.9 1064.7,227.2 1067.2,231.5 1069.7,235.9 1072.2,240.2 1074.6,244.5 1077.1,248.7 1079.6,252.8 1082.1,256.9 1084.6,260.8 1087.0,264.6 1089.5,268.2 1092.0,271.7 1094.5,275.1 1097.0,278.3 1099.4,281.3 1101.9,284.2 1104.4,286.9 1106.9,289.4 1109.4,291.8 1111.8,294.0 1114.3,296.1 1116.8,298.0 1119.3,299.8 1121.8,301.4 1124.2,302.9 1126.7,304.3 1129.2,305.5 1131.7,306.6 1134.2,307.7 1136.6,308.6 1139.1,309.4 1141.6,310.2 1144.1,310.9 1146.6,311.5 1149.0,312.0 1151.5,312.5 1154.0,312.9 1156.5,313.2 1159.0,313.6 1161.4,313.9 1163.9,314.1 1166.4,314.3 1168.9,314.5 1171.4,314.7 1173.8,314.8 1176.3,314.9 1178.8,315.0 1181.3,315.1 1183.8,315.2 1186.2,315.3 1188.7,315.3 1191.2,315.4 1193.7,315.4 1196.2,315.4 1198.6,315.5 1201.1,315.5 1203.6,315.5 1206.1,315.5 1208.6,315.5 1211.0,315.6 1213.5,315.6 1216.0,315.6" fill="none" stroke="#1b4a8c" stroke-width="1.8" stroke-dasharray="5 3"/><rect x="780.3" y="142.8" width="166.2" height="137" fill="#000" fill-opacity="0.22" filter="url(#blur2)"/><rect x="779.8" y="140.8" width="166.2" height="137" fill="#fff" stroke="#cfcfcf" stroke-width="1"/><text x="788.2" y="158.9" font-size="11.2" fill="#111" text-anchor="start" style="font-family:&quot;Liberation Sans&quot;,Arial,sans-serif" >LSL:150</text><text x="788.2" y="170.9" font-size="11.2" fill="#111" text-anchor="start" style="font-family:&quot;Liberation Sans&quot;,Arial,sans-serif" >Target:175</text><text x="788.2" y="182.9" font-size="11.2" fill="#111" text-anchor="start" style="font-family:&quot;Liberation Sans&quot;,Arial,sans-serif" >USL:200</text><text x="788.2" y="194.9" font-size="11.2" fill="#111" text-anchor="start" style="font-family:&quot;Liberation Sans&quot;,Arial,sans-serif" >Sample mean:173.6407</text><text x="788.2" y="206.9" font-size="11.2" fill="#111" text-anchor="start" style="font-family:&quot;Liberation Sans&quot;,Arial,sans-serif" >Sample N:300</text><text x="788.2" y="218.9" font-size="11.2" fill="#111" text-anchor="start" style="font-family:&quot;Liberation Sans&quot;,Arial,sans-serif" >StDev(Overall):11.7459</text><text x="788.2" y="230.9" font-size="11.2" fill="#111" text-anchor="start" style="font-family:&quot;Liberation Sans&quot;,Arial,sans-serif" >StDev(Within):11.4348</text><text x="788.2" y="242.9" font-size="11.2" fill="#111" text-anchor="start" style="font-family:&quot;Liberation Sans&quot;,Arial,sans-serif" >AD:0.8848</text><text x="788.2" y="254.9" font-size="11.2" fill="#111" text-anchor="start" style="font-family:&quot;Liberation Sans&quot;,Arial,sans-serif" >p-value:0.0227</text><text x="788.2" y="266.9" font-size="11.2" fill="#111" text-anchor="start" style="font-family:&quot;Liberation Sans&quot;,Arial,sans-serif" >Coefficient of Variation:0.0676</text><g clip-path="url(#cp2)"><rect x="1178.0" y="140.5" width="119.25" height="227.5" fill="#fff" stroke="#cfcfcf" stroke-width="1"/><text x="1186.2" y="158.8" font-size="11.2" fill="#111" text-anchor="start" style="font-family:&quot;Liberation Sans&quot;,&quot;Noto Sans CJK SC&quot;,sans-serif" font-weight="bold" >Overall Capability</text><text x="1186.2" y="202.0" font-size="11.2" fill="#111" text-anchor="start" style="font-family:&quot;Liberation Sans&quot;,&quot;Noto Sans CJK SC&quot;,sans-serif" >Pp：0.7095</text><text x="1186.2" y="217.6" font-size="11.2" fill="#111" text-anchor="start" style="font-family:&quot;Liberation Sans&quot;,&quot;Noto Sans CJK SC&quot;,sans-serif" >PPL：0.6709</text><text x="1186.2" y="233.6" font-size="11.2" fill="#111" text-anchor="start" style="font-family:&quot;Liberation Sans&quot;,&quot;Noto Sans CJK SC&quot;,sans-serif" >PPU：0.748</text><text x="1186.2" y="249.5" font-size="11.2" fill="#111" text-anchor="start" style="font-family:&quot;Liberation Sans&quot;,&quot;Noto Sans CJK SC&quot;,sans-serif" >Ppk：0.6709</text><text x="1186.2" y="265.5" font-size="11.2" fill="#111" text-anchor="start" style="font-family:&quot;Liberation Sans&quot;,&quot;Noto Sans CJK SC&quot;,sans-serif" >Cpm：0.7059</text><text x="1186.2" y="281.3" font-size="11.2" fill="#111" text-anchor="start" style="font-family:&quot;Liberation Sans&quot;,&quot;Noto Sans CJK SC&quot;,sans-serif" >Ca：-0.0544</text><text x="1186.2" y="295.0" font-size="11.2" fill="#111" text-anchor="start" style="font-family:&quot;Liberation Sans&quot;,&quot;Noto Sans CJK SC&quot;,sans-serif" font-weight="bold" >Potential (within)</text><text x="1186.2" y="307.0" font-size="11.2" fill="#111" text-anchor="start" style="font-family:&quot;Liberation Sans&quot;,&quot;Noto Sans CJK SC&quot;,sans-serif" font-weight="bold" >Capability</text><text x="1186.2" y="321.3" font-size="11.2" fill="#111" text-anchor="start" style="font-family:&quot;Liberation Sans&quot;,&quot;Noto Sans CJK SC&quot;,sans-serif" >Cp：0.7288</text><text x="1186.2" y="337.0" font-size="11.2" fill="#111" text-anchor="start" style="font-family:&quot;Liberation Sans&quot;,&quot;Noto Sans CJK SC&quot;,sans-serif" >CPL：0.6891</text><text x="1186.2" y="352.8" font-size="11.2" fill="#111" text-anchor="start" style="font-family:&quot;Liberation Sans&quot;,&quot;Noto Sans CJK SC&quot;,sans-serif" >CPU：0.748</text><path d="M1256.7 168.9 C1259.7 164.0 1268.0 164.0 1271.0 168.9 C1268.0 173.8 1259.7 173.8 1256.7 168.9 Z" fill="none" stroke="#222" stroke-width="0.95"/><circle cx="1263.9" cy="168.9" r="1.75" fill="none" stroke="#222" stroke-width="1.05"/><path d="M1275.0 173.7 L1275.7 171.1 L1277.6 173.0 Z" fill="#222"/><line x1="1276.6" y1="172.1" x2="1283.6" y2="165.1" stroke="#222" stroke-width="2.9"/><circle cx="1284.0" cy="164.7" r="1.45" fill="#222"/><line x1="1281.9" y1="165.4" x2="1283.3" y2="166.8" stroke="#fff" stroke-width="0.5"/></g><text x="778.9" y="346.0" font-size="8" fill="#444" text-anchor="start" style="font-family:&quot;Liberation Sans&quot;,Arial,sans-serif" >3836</text><text x="1297.2" y="346.0" font-size="8" fill="#333" text-anchor="end" style="font-family:&quot;Liberation Sans&quot;,Arial,sans-serif" >Last Update Time: 2025-11-15 17:07:27 (5months ago)</text></svg>
<div class="card" style="left:1322.1px;top:98.9px;width:541.8px;height:263.4px">
<div class="ttl" style="height:32.6px"><span style="left:16.4px;top:9.6px">User Test Data &gt;&nbsp; &gt; 73010-Turning &gt;&nbsp; &gt; FAI24-0.25</span></div>
</div>
<svg class="abs" style="left:1322px;top:98px;overflow:hidden" width="542" height="265" viewBox="1322 98 542 265"><line x1="1374" y1="273.6" x2="1771.8" y2="273.6" stroke="#e0e6f1" stroke-width="1"/><line x1="1374" y1="244.3" x2="1771.8" y2="244.3" stroke="#e0e6f1" stroke-width="1"/><line x1="1374" y1="214.9" x2="1771.8" y2="214.9" stroke="#e0e6f1" stroke-width="1"/><line x1="1374" y1="185.6" x2="1771.8" y2="185.6" stroke="#e0e6f1" stroke-width="1"/><line x1="1374" y1="156.2" x2="1771.8" y2="156.2" stroke="#e0e6f1" stroke-width="1"/><line x1="1374" y1="303.0" x2="1771.8" y2="303.0" stroke="#6e7079" stroke-width="1.2"/><text x="1367.5" y="306.6" font-size="10" fill="#7b7f87" text-anchor="end" style="font-family:&quot;Noto Sans CJK SC&quot;,&quot;Liberation Sans&quot;,sans-serif" >0</text><text x="1367.5" y="277.2" font-size="10" fill="#7b7f87" text-anchor="end" style="font-family:&quot;Noto Sans CJK SC&quot;,&quot;Liberation Sans&quot;,sans-serif" >0.005</text><text x="1367.5" y="247.9" font-size="10" fill="#7b7f87" text-anchor="end" style="font-family:&quot;Noto Sans CJK SC&quot;,&quot;Liberation Sans&quot;,sans-serif" >0.01</text><text x="1367.5" y="218.5" font-size="10" fill="#7b7f87" text-anchor="end" style="font-family:&quot;Noto Sans CJK SC&quot;,&quot;Liberation Sans&quot;,sans-serif" >0.015</text><text x="1367.5" y="189.2" font-size="10" fill="#7b7f87" text-anchor="end" style="font-family:&quot;Noto Sans CJK SC&quot;,&quot;Liberation Sans&quot;,sans-serif" >0.02</text><text x="1367.5" y="159.8" font-size="10" fill="#7b7f87" text-anchor="end" style="font-family:&quot;Noto Sans CJK SC&quot;,&quot;Liberation Sans&quot;,sans-serif" >0.025</text><text x="1377.9" y="316.7" font-size="10" fill="#7b7f87" text-anchor="middle" style="font-family:&quot;Noto Sans CJK SC&quot;,&quot;Liberation Sans&quot;,sans-serif" >0</text><text x="1393.8" y="316.7" font-size="10" fill="#7b7f87" text-anchor="middle" style="font-family:&quot;Noto Sans CJK SC&quot;,&quot;Liberation Sans&quot;,sans-serif" >2</text><text x="1409.7" y="316.7" font-size="10" fill="#7b7f87" text-anchor="middle" style="font-family:&quot;Noto Sans CJK SC&quot;,&quot;Liberation Sans&quot;,sans-serif" >4</text><text x="1425.7" y="316.7" font-size="10" fill="#7b7f87" text-anchor="middle" style="font-family:&quot;Noto Sans CJK SC&quot;,&quot;Liberation Sans&quot;,sans-serif" >6</text><text x="1441.6" y="316.7" font-size="10" fill="#7b7f87" text-anchor="middle" style="font-family:&quot;Noto Sans CJK SC&quot;,&quot;Liberation Sans&quot;,sans-serif" >8</text><text x="1457.5" y="316.7" font-size="10" fill="#7b7f87" text-anchor="middle" style="font-family:&quot;Noto Sans CJK SC&quot;,&quot;Liberation Sans&quot;,sans-serif" >10</text><text x="1473.4" y="316.7" font-size="10" fill="#7b7f87" text-anchor="middle" style="font-family:&quot;Noto Sans CJK SC&quot;,&quot;Liberation Sans&quot;,sans-serif" >12</text><text x="1489.3" y="316.7" font-size="10" fill="#7b7f87" text-anchor="middle" style="font-family:&quot;Noto Sans CJK SC&quot;,&quot;Liberation Sans&quot;,sans-serif" >14</text><text x="1505.3" y="316.7" font-size="10" fill="#7b7f87" text-anchor="middle" style="font-family:&quot;Noto Sans CJK SC&quot;,&quot;Liberation Sans&quot;,sans-serif" >16</text><text x="1521.2" y="316.7" font-size="10" fill="#7b7f87" text-anchor="middle" style="font-family:&quot;Noto Sans CJK SC&quot;,&quot;Liberation Sans&quot;,sans-serif" >18</text><text x="1537.1" y="316.7" font-size="10" fill="#7b7f87" text-anchor="middle" style="font-family:&quot;Noto Sans CJK SC&quot;,&quot;Liberation Sans&quot;,sans-serif" >20</text><text x="1553.0" y="316.7" font-size="10" fill="#7b7f87" text-anchor="middle" style="font-family:&quot;Noto Sans CJK SC&quot;,&quot;Liberation Sans&quot;,sans-serif" >22</text><text x="1568.9" y="316.7" font-size="10" fill="#7b7f87" text-anchor="middle" style="font-family:&quot;Noto Sans CJK SC&quot;,&quot;Liberation Sans&quot;,sans-serif" >24</text><text x="1584.9" y="316.7" font-size="10" fill="#7b7f87" text-anchor="middle" style="font-family:&quot;Noto Sans CJK SC&quot;,&quot;Liberation Sans&quot;,sans-serif" >26</text><text x="1600.8" y="316.7" font-size="10" fill="#7b7f87" text-anchor="middle" style="font-family:&quot;Noto Sans CJK SC&quot;,&quot;Liberation Sans&quot;,sans-serif" >28</text><text x="1616.7" y="316.7" font-size="10" fill="#7b7f87" text-anchor="middle" style="font-family:&quot;Noto Sans CJK SC&quot;,&quot;Liberation Sans&quot;,sans-serif" >30</text><text x="1632.6" y="316.7" font-size="10" fill="#7b7f87" text-anchor="middle" style="font-family:&quot;Noto Sans CJK SC&quot;,&quot;Liberation Sans&quot;,sans-serif" >32</text><text x="1648.5" y="316.7" font-size="10" fill="#7b7f87" text-anchor="middle" style="font-family:&quot;Noto Sans CJK SC&quot;,&quot;Liberation Sans&quot;,sans-serif" >34</text><text x="1664.5" y="316.7" font-size="10" fill="#7b7f87" text-anchor="middle" style="font-family:&quot;Noto Sans CJK SC&quot;,&quot;Liberation Sans&quot;,sans-serif" >36</text><text x="1680.4" y="316.7" font-size="10" fill="#7b7f87" text-anchor="middle" style="font-family:&quot;Noto Sans CJK SC&quot;,&quot;Liberation Sans&quot;,sans-serif" >38</text><text x="1696.3" y="316.7" font-size="10" fill="#7b7f87" text-anchor="middle" style="font-family:&quot;Noto Sans CJK SC&quot;,&quot;Liberation Sans&quot;,sans-serif" >40</text><text x="1712.2" y="316.7" font-size="10" fill="#7b7f87" text-anchor="middle" style="font-family:&quot;Noto Sans CJK SC&quot;,&quot;Liberation Sans&quot;,sans-serif" >42</text><text x="1728.1" y="316.7" font-size="10" fill="#7b7f87" text-anchor="middle" style="font-family:&quot;Noto Sans CJK SC&quot;,&quot;Liberation Sans&quot;,sans-serif" >44</text><text x="1744.1" y="316.7" font-size="10" fill="#7b7f87" text-anchor="middle" style="font-family:&quot;Noto Sans CJK SC&quot;,&quot;Liberation Sans&quot;,sans-serif" >46</text><text x="1760.0" y="316.7" font-size="10" fill="#7b7f87" text-anchor="middle" style="font-family:&quot;Noto Sans CJK SC&quot;,&quot;Liberation Sans&quot;,sans-serif" >48</text><line x1="1377.9" y1="197.3" x2="1377.9" y2="286.0" stroke="#b4b4b4" stroke-width="1"/><line x1="1375.9" y1="197.3" x2="1379.9" y2="197.3" stroke="#b4b4b4" stroke-width="1"/><line x1="1375.9" y1="286.0" x2="1379.9" y2="286.0" stroke="#b4b4b4" stroke-width="1"/><rect x="1375.3" y="238.4" width="5.2" height="41.1" fill="#ececec" stroke="#c4c4c4" stroke-width="0.8"/><line x1="1385.9" y1="244.3" x2="1385.9" y2="267.8" stroke="#b4b4b4" stroke-width="1"/><line x1="1383.9" y1="244.3" x2="1387.9" y2="244.3" stroke="#b4b4b4" stroke-width="1"/><line x1="1383.9" y1="267.8" x2="1387.9" y2="267.8" stroke="#b4b4b4" stroke-width="1"/><rect x="1383.3" y="246.6" width="5.2" height="9.4" fill="#ececec" stroke="#c4c4c4" stroke-width="0.8"/><line x1="1393.8" y1="203.2" x2="1393.8" y2="285.4" stroke="#b4b4b4" stroke-width="1"/><line x1="1391.8" y1="203.2" x2="1395.8" y2="203.2" stroke="#b4b4b4" stroke-width="1"/><line x1="1391.8" y1="285.4" x2="1395.8" y2="285.4" stroke="#b4b4b4" stroke-width="1"/><rect x="1391.2" y="229.0" width="5.2" height="41.1" fill="#ececec" stroke="#c4c4c4" stroke-width="0.8"/><line x1="1401.8" y1="173.9" x2="1401.8" y2="291.3" stroke="#b4b4b4" stroke-width="1"/><line x1="1399.8" y1="173.9" x2="1403.8" y2="173.9" stroke="#b4b4b4" stroke-width="1"/><line x1="1399.8" y1="291.3" x2="1403.8" y2="291.3" stroke="#b4b4b4" stroke-width="1"/><rect x="1399.2" y="226.1" width="5.2" height="59.3" fill="#ececec" stroke="#c4c4c4" stroke-width="0.8"/><line x1="1409.7" y1="197.3" x2="1409.7" y2="279.5" stroke="#b4b4b4" stroke-width="1"/><line x1="1407.7" y1="197.3" x2="1411.7" y2="197.3" stroke="#b4b4b4" stroke-width="1"/><line x1="1407.7" y1="279.5" x2="1411.7" y2="279.5" stroke="#b4b4b4" stroke-width="1"/><rect x="1407.1" y="209.1" width="5.2" height="41.1" fill="#ececec" stroke="#c4c4c4" stroke-width="0.8"/><line x1="1417.7" y1="173.9" x2="1417.7" y2="297.1" stroke="#b4b4b4" stroke-width="1"/><line x1="1415.7" y1="173.9" x2="1419.7" y2="173.9" stroke="#b4b4b4" stroke-width="1"/><line x1="1415.7" y1="297.1" x2="1419.7" y2="297.1" stroke="#b4b4b4" stroke-width="1"/><rect x="1415.1" y="173.9" width="5.2" height="61.6" fill="#ececec" stroke="#c4c4c4" stroke-width="0.8"/><line x1="1425.7" y1="238.4" x2="1425.7" y2="256.0" stroke="#b4b4b4" stroke-width="1"/><line x1="1423.7" y1="238.4" x2="1427.7" y2="238.4" stroke="#b4b4b4" stroke-width="1"/><line x1="1423.7" y1="256.0" x2="1427.7" y2="256.0" stroke="#b4b4b4" stroke-width="1"/><rect x="1423.1" y="247.2" width="5.2" height="8.8" fill="#ececec" stroke="#c4c4c4" stroke-width="0.8"/><line x1="1433.6" y1="244.3" x2="1433.6" y2="267.8" stroke="#b4b4b4" stroke-width="1"/><line x1="1431.6" y1="244.3" x2="1435.6" y2="244.3" stroke="#b4b4b4" stroke-width="1"/><line x1="1431.6" y1="267.8" x2="1435.6" y2="267.8" stroke="#b4b4b4" stroke-width="1"/><rect x="1431.0" y="253.1" width="5.2" height="11.7" fill="#ececec" stroke="#c4c4c4" stroke-width="0.8"/><line x1="1441.6" y1="244.3" x2="1441.6" y2="273.6" stroke="#b4b4b4" stroke-width="1"/><line x1="1439.6" y1="244.3" x2="1443.6" y2="244.3" stroke="#b4b4b4" stroke-width="1"/><line x1="1439.6" y1="273.6" x2="1443.6" y2="273.6" stroke="#b4b4b4" stroke-width="1"/><rect x="1439.0" y="253.1" width="5.2" height="14.1" fill="#ececec" stroke="#c4c4c4" stroke-width="0.8"/><line x1="1449.5" y1="232.6" x2="1449.5" y2="273.6" stroke="#b4b4b4" stroke-width="1"/><line x1="1447.5" y1="232.6" x2="1451.5" y2="232.6" stroke="#b4b4b4" stroke-width="1"/><line x1="1447.5" y1="273.6" x2="1451.5" y2="273.6" stroke="#b4b4b4" stroke-width="1"/><rect x="1446.9" y="253.1" width="5.2" height="20.5" fill="#ececec" stroke="#c4c4c4" stroke-width="0.8"/><line x1="1457.5" y1="232.6" x2="1457.5" y2="273.6" stroke="#b4b4b4" stroke-width="1"/><line x1="1455.5" y1="232.6" x2="1459.5" y2="232.6" stroke="#b4b4b4" stroke-width="1"/><line x1="1455.5" y1="273.6" x2="1459.5" y2="273.6" stroke="#b4b4b4" stroke-width="1"/><rect x="1454.9" y="244.3" width="5.2" height="20.5" fill="#ececec" stroke="#c4c4c4" stroke-width="0.8"/><line x1="1465.5" y1="238.4" x2="1465.5" y2="267.8" stroke="#b4b4b4" stroke-width="1"/><line x1="1463.5" y1="238.4" x2="1467.5" y2="238.4" stroke="#b4b4b4" stroke-width="1"/><line x1="1463.5" y1="267.8" x2="1467.5" y2="267.8" stroke="#b4b4b4" stroke-width="1"/><rect x="1462.9" y="250.2" width="5.2" height="14.7" fill="#ececec" stroke="#c4c4c4" stroke-width="0.8"/><line x1="1473.4" y1="232.6" x2="1473.4" y2="273.6" stroke="#b4b4b4" stroke-width="1"/><line x1="1471.4" y1="232.6" x2="1475.4" y2="232.6" stroke="#b4b4b4" stroke-width="1"/><line x1="1471.4" y1="273.6" x2="1475.4" y2="273.6" stroke="#b4b4b4" stroke-width="1"/><rect x="1470.8" y="238.4" width="5.2" height="20.5" fill="#ececec" stroke="#c4c4c4" stroke-width="0.8"/><line x1="1481.4" y1="203.2" x2="1481.4" y2="297.1" stroke="#b4b4b4" stroke-width="1"/><line x1="1479.4" y1="203.2" x2="1483.4" y2="203.2" stroke="#b4b4b4" stroke-width="1"/><line x1="1479.4" y1="297.1" x2="1483.4" y2="297.1" stroke="#b4b4b4" stroke-width="1"/><rect x="1478.8" y="235.5" width="5.2" height="47.0" fill="#ececec" stroke="#c4c4c4" stroke-width="0.8"/><line x1="1489.3" y1="209.1" x2="1489.3" y2="297.1" stroke="#b4b4b4" stroke-width="1"/><line x1="1487.3" y1="209.1" x2="1491.3" y2="209.1" stroke="#b4b4b4" stroke-width="1"/><line x1="1487.3" y1="297.1" x2="1491.3" y2="297.1" stroke="#b4b4b4" stroke-width="1"/><rect x="1486.7" y="217.9" width="5.2" height="44.0" fill="#ececec" stroke="#c4c4c4" stroke-width="0.8"/><line x1="1497.3" y1="273.6" x2="1497.3" y2="297.1" stroke="#b4b4b4" stroke-width="1"/><line x1="1495.3" y1="273.6" x2="1499.3" y2="273.6" stroke="#b4b4b4" stroke-width="1"/><line x1="1495.3" y1="297.1" x2="1499.3" y2="297.1" stroke="#b4b4b4" stroke-width="1"/><rect x="1494.7" y="279.5" width="5.2" height="11.7" fill="#ececec" stroke="#c4c4c4" stroke-width="0.8"/><line x1="1505.3" y1="238.4" x2="1505.3" y2="279.5" stroke="#b4b4b4" stroke-width="1"/><line x1="1503.3" y1="238.4" x2="1507.3" y2="238.4" stroke="#b4b4b4" stroke-width="1"/><line x1="1503.3" y1="279.5" x2="1507.3" y2="279.5" stroke="#b4b4b4" stroke-width="1"/><rect x="1502.7" y="244.3" width="5.2" height="20.5" fill="#ececec" stroke="#c4c4c4" stroke-width="0.8"/><line x1="1513.2" y1="226.7" x2="1513.2" y2="279.5" stroke="#b4b4b4" stroke-width="1"/><line x1="1511.2" y1="226.7" x2="1515.2" y2="226.7" stroke="#b4b4b4" stroke-width="1"/><line x1="1511.2" y1="279.5" x2="1515.2" y2="279.5" stroke="#b4b4b4" stroke-width="1"/><rect x="1510.6" y="250.2" width="5.2" height="26.4" fill="#ececec" stroke="#c4c4c4" stroke-width="0.8"/><line x1="1521.2" y1="191.5" x2="1521.2" y2="285.4" stroke="#b4b4b4" stroke-width="1"/><line x1="1519.2" y1="191.5" x2="1523.2" y2="191.5" stroke="#b4b4b4" stroke-width="1"/><line x1="1519.2" y1="285.4" x2="1523.2" y2="285.4" stroke="#b4b4b4" stroke-width="1"/><rect x="1518.6" y="197.3" width="5.2" height="44.0" fill="#ececec" stroke="#c4c4c4" stroke-width="0.8"/><line x1="1529.1" y1="197.3" x2="1529.1" y2="250.2" stroke="#b4b4b4" stroke-width="1"/><line x1="1527.1" y1="197.3" x2="1531.1" y2="197.3" stroke="#b4b4b4" stroke-width="1"/><line x1="1527.1" y1="250.2" x2="1531.1" y2="250.2" stroke="#b4b4b4" stroke-width="1"/><rect x="1526.5" y="214.9" width="5.2" height="26.4" fill="#ececec" stroke="#c4c4c4" stroke-width="0.8"/><line x1="1537.1" y1="214.9" x2="1537.1" y2="267.8" stroke="#b4b4b4" stroke-width="1"/><line x1="1535.1" y1="214.9" x2="1539.1" y2="214.9" stroke="#b4b4b4" stroke-width="1"/><line x1="1535.1" y1="267.8" x2="1539.1" y2="267.8" stroke="#b4b4b4" stroke-width="1"/><rect x="1534.5" y="229.6" width="5.2" height="26.4" fill="#ececec" stroke="#c4c4c4" stroke-width="0.8"/><line x1="1545.1" y1="244.3" x2="1545.1" y2="273.6" stroke="#b4b4b4" stroke-width="1"/><line x1="1543.1" y1="244.3" x2="1547.1" y2="244.3" stroke="#b4b4b4" stroke-width="1"/><line x1="1543.1" y1="273.6" x2="1547.1" y2="273.6" stroke="#b4b4b4" stroke-width="1"/><rect x="1542.5" y="259.0" width="5.2" height="14.7" fill="#ececec" stroke="#c4c4c4" stroke-width="0.8"/><line x1="1553.0" y1="238.4" x2="1553.0" y2="267.8" stroke="#b4b4b4" stroke-width="1"/><line x1="1551.0" y1="238.4" x2="1555.0" y2="238.4" stroke="#b4b4b4" stroke-width="1"/><line x1="1551.0" y1="267.8" x2="1555.0" y2="267.8" stroke="#b4b4b4" stroke-width="1"/><rect x="1550.4" y="253.1" width="5.2" height="14.7" fill="#ececec" stroke="#c4c4c4" stroke-width="0.8"/><line x1="1561.0" y1="232.6" x2="1561.0" y2="303.0" stroke="#b4b4b4" stroke-width="1"/><line x1="1559.0" y1="232.6" x2="1563.0" y2="232.6" stroke="#b4b4b4" stroke-width="1"/><line x1="1559.0" y1="303.0" x2="1563.0" y2="303.0" stroke="#b4b4b4" stroke-width="1"/><rect x="1558.4" y="241.4" width="5.2" height="35.2" fill="#ececec" stroke="#c4c4c4" stroke-width="0.8"/><line x1="1568.9" y1="238.4" x2="1568.9" y2="297.1" stroke="#b4b4b4" stroke-width="1"/><line x1="1566.9" y1="238.4" x2="1570.9" y2="238.4" stroke="#b4b4b4" stroke-width="1"/><line x1="1566.9" y1="297.1" x2="1570.9" y2="297.1" stroke="#b4b4b4" stroke-width="1"/><rect x="1566.3" y="247.2" width="5.2" height="29.3" fill="#ececec" stroke="#c4c4c4" stroke-width="0.8"/><line x1="1576.9" y1="256.0" x2="1576.9" y2="279.5" stroke="#b4b4b4" stroke-width="1"/><line x1="1574.9" y1="256.0" x2="1578.9" y2="256.0" stroke="#b4b4b4" stroke-width="1"/><line x1="1574.9" y1="279.5" x2="1578.9" y2="279.5" stroke="#b4b4b4" stroke-width="1"/><rect x="1574.3" y="264.8" width="5.2" height="11.7" fill="#ececec" stroke="#c4c4c4" stroke-width="0.8"/><line x1="1584.9" y1="273.6" x2="1584.9" y2="297.1" stroke="#b4b4b4" stroke-width="1"/><line x1="1582.9" y1="273.6" x2="1586.9" y2="273.6" stroke="#b4b4b4" stroke-width="1"/><line x1="1582.9" y1="297.1" x2="1586.9" y2="297.1" stroke="#b4b4b4" stroke-width="1"/><rect x="1582.3" y="282.5" width="5.2" height="11.7" fill="#ececec" stroke="#c4c4c4" stroke-width="0.8"/><line x1="1592.8" y1="256.0" x2="1592.8" y2="291.3" stroke="#b4b4b4" stroke-width="1"/><line x1="1590.8" y1="256.0" x2="1594.8" y2="256.0" stroke="#b4b4b4" stroke-width="1"/><line x1="1590.8" y1="291.3" x2="1594.8" y2="291.3" stroke="#b4b4b4" stroke-width="1"/><rect x="1590.2" y="267.8" width="5.2" height="17.6" fill="#ececec" stroke="#c4c4c4" stroke-width="0.8"/><line x1="1600.8" y1="244.3" x2="1600.8" y2="267.8" stroke="#b4b4b4" stroke-width="1"/><line x1="1598.8" y1="244.3" x2="1602.8" y2="244.3" stroke="#b4b4b4" stroke-width="1"/><line x1="1598.8" y1="267.8" x2="1602.8" y2="267.8" stroke="#b4b4b4" stroke-width="1"/><rect x="1598.2" y="247.2" width="5.2" height="8.8" fill="#ececec" stroke="#c4c4c4" stroke-width="0.8"/><line x1="1608.7" y1="261.9" x2="1608.7" y2="273.6" stroke="#b4b4b4" stroke-width="1"/><line x1="1606.7" y1="261.9" x2="1610.7" y2="261.9" stroke="#b4b4b4" stroke-width="1"/><line x1="1606.7" y1="273.6" x2="1610.7" y2="273.6" stroke="#b4b4b4" stroke-width="1"/><rect x="1606.1" y="264.8" width="5.2" height="5.9" fill="#ececec" stroke="#c4c4c4" stroke-width="0.8"/><line x1="1616.7" y1="238.4" x2="1616.7" y2="273.6" stroke="#b4b4b4" stroke-width="1"/><line x1="1614.7" y1="238.4" x2="1618.7" y2="238.4" stroke="#b4b4b4" stroke-width="1"/><line x1="1614.7" y1="273.6" x2="1618.7" y2="273.6" stroke="#b4b4b4" stroke-width="1"/><rect x="1614.1" y="250.2" width="5.2" height="17.6" fill="#ececec" stroke="#c4c4c4" stroke-width="0.8"/><line x1="1624.7" y1="226.7" x2="1624.7" y2="261.9" stroke="#b4b4b4" stroke-width="1"/><line x1="1622.7" y1="226.7" x2="1626.7" y2="226.7" stroke="#b4b4b4" stroke-width="1"/><line x1="1622.7" y1="261.9" x2="1626.7" y2="261.9" stroke="#b4b4b4" stroke-width="1"/><rect x="1622.1" y="232.6" width="5.2" height="17.6" fill="#ececec" stroke="#c4c4c4" stroke-width="0.8"/><line x1="1632.6" y1="232.6" x2="1632.6" y2="256.0" stroke="#b4b4b4" stroke-width="1"/><line x1="1630.6" y1="232.6" x2="1634.6" y2="232.6" stroke="#b4b4b4" stroke-width="1"/><line x1="1630.6" y1="256.0" x2="1634.6" y2="256.0" stroke="#b4b4b4" stroke-width="1"/><rect x="1630.0" y="241.4" width="5.2" height="11.7" fill="#ececec" stroke="#c4c4c4" stroke-width="0.8"/><line x1="1640.6" y1="185.6" x2="1640.6" y2="238.4" stroke="#b4b4b4" stroke-width="1"/><line x1="1638.6" y1="185.6" x2="1642.6" y2="185.6" stroke="#b4b4b4" stroke-width="1"/><line x1="1638.6" y1="238.4" x2="1642.6" y2="238.4" stroke="#b4b4b4" stroke-width="1"/><rect x="1638.0" y="194.4" width="5.2" height="26.4" fill="#ececec" stroke="#c4c4c4" stroke-width="0.8"/><line x1="1648.5" y1="250.2" x2="1648.5" y2="267.8" stroke="#b4b4b4" stroke-width="1"/><line x1="1646.5" y1="250.2" x2="1650.5" y2="250.2" stroke="#b4b4b4" stroke-width="1"/><line x1="1646.5" y1="267.8" x2="1650.5" y2="267.8" stroke="#b4b4b4" stroke-width="1"/><rect x="1645.9" y="256.0" width="5.2" height="8.8" fill="#ececec" stroke="#c4c4c4" stroke-width="0.8"/><line x1="1656.5" y1="250.2" x2="1656.5" y2="297.1" stroke="#b4b4b4" stroke-width="1"/><line x1="1654.5" y1="250.2" x2="1658.5" y2="250.2" stroke="#b4b4b4" stroke-width="1"/><line x1="1654.5" y1="297.1" x2="1658.5" y2="297.1" stroke="#b4b4b4" stroke-width="1"/><rect x="1653.9" y="256.0" width="5.2" height="23.5" fill="#ececec" stroke="#c4c4c4" stroke-width="0.8"/><line x1="1664.5" y1="238.4" x2="1664.5" y2="279.5" stroke="#b4b4b4" stroke-width="1"/><line x1="1662.5" y1="238.4" x2="1666.5" y2="238.4" stroke="#b4b4b4" stroke-width="1"/><line x1="1662.5" y1="279.5" x2="1666.5" y2="279.5" stroke="#b4b4b4" stroke-width="1"/><rect x="1661.9" y="256.0" width="5.2" height="17.6" fill="#ececec" stroke="#c4c4c4" stroke-width="0.8"/><line x1="1672.4" y1="238.4" x2="1672.4" y2="256.0" stroke="#b4b4b4" stroke-width="1"/><line x1="1670.4" y1="238.4" x2="1674.4" y2="238.4" stroke="#b4b4b4" stroke-width="1"/><line x1="1670.4" y1="256.0" x2="1674.4" y2="256.0" stroke="#b4b4b4" stroke-width="1"/><rect x="1669.8" y="238.4" width="5.2" height="8.8" fill="#ececec" stroke="#c4c4c4" stroke-width="0.8"/><line x1="1680.4" y1="226.7" x2="1680.4" y2="244.3" stroke="#b4b4b4" stroke-width="1"/><line x1="1678.4" y1="226.7" x2="1682.4" y2="226.7" stroke="#b4b4b4" stroke-width="1"/><line x1="1678.4" y1="244.3" x2="1682.4" y2="244.3" stroke="#b4b4b4" stroke-width="1"/><rect x="1677.8" y="229.6" width="5.2" height="8.8" fill="#ececec" stroke="#c4c4c4" stroke-width="0.8"/><line x1="1688.3" y1="244.3" x2="1688.3" y2="267.8" stroke="#b4b4b4" stroke-width="1"/><line x1="1686.3" y1="244.3" x2="1690.3" y2="244.3" stroke="#b4b4b4" stroke-width="1"/><line x1="1686.3" y1="267.8" x2="1690.3" y2="267.8" stroke="#b4b4b4" stroke-width="1"/><rect x="1685.7" y="256.0" width="5.2" height="11.7" fill="#ececec" stroke="#c4c4c4" stroke-width="0.8"/><line x1="1696.3" y1="267.8" x2="1696.3" y2="297.1" stroke="#b4b4b4" stroke-width="1"/><line x1="1694.3" y1="267.8" x2="1698.3" y2="267.8" stroke="#b4b4b4" stroke-width="1"/><line x1="1694.3" y1="297.1" x2="1698.3" y2="297.1" stroke="#b4b4b4" stroke-width="1"/><rect x="1693.7" y="273.6" width="5.2" height="14.7" fill="#ececec" stroke="#c4c4c4" stroke-width="0.8"/><line x1="1704.3" y1="244.3" x2="1704.3" y2="279.5" stroke="#b4b4b4" stroke-width="1"/><line x1="1702.3" y1="244.3" x2="1706.3" y2="244.3" stroke="#b4b4b4" stroke-width="1"/><line x1="1702.3" y1="279.5" x2="1706.3" y2="279.5" stroke="#b4b4b4" stroke-width="1"/><rect x="1701.7" y="247.2" width="5.2" height="17.6" fill="#ececec" stroke="#c4c4c4" stroke-width="0.8"/><line x1="1712.2" y1="232.6" x2="1712.2" y2="256.0" stroke="#b4b4b4" stroke-width="1"/><line x1="1710.2" y1="232.6" x2="1714.2" y2="232.6" stroke="#b4b4b4" stroke-width="1"/><line x1="1710.2" y1="256.0" x2="1714.2" y2="256.0" stroke="#b4b4b4" stroke-width="1"/><rect x="1709.6" y="241.4" width="5.2" height="11.7" fill="#ececec" stroke="#c4c4c4" stroke-width="0.8"/><line x1="1720.2" y1="232.6" x2="1720.2" y2="267.8" stroke="#b4b4b4" stroke-width="1"/><line x1="1718.2" y1="232.6" x2="1722.2" y2="232.6" stroke="#b4b4b4" stroke-width="1"/><line x1="1718.2" y1="267.8" x2="1722.2" y2="267.8" stroke="#b4b4b4" stroke-width="1"/><rect x="1717.6" y="244.3" width="5.2" height="17.6" fill="#ececec" stroke="#c4c4c4" stroke-width="0.8"/><line x1="1728.1" y1="256.0" x2="1728.1" y2="267.8" stroke="#b4b4b4" stroke-width="1"/><line x1="1726.1" y1="256.0" x2="1730.1" y2="256.0" stroke="#b4b4b4" stroke-width="1"/><line x1="1726.1" y1="267.8" x2="1730.1" y2="267.8" stroke="#b4b4b4" stroke-width="1"/><rect x="1725.5" y="259.0" width="5.2" height="5.9" fill="#ececec" stroke="#c4c4c4" stroke-width="0.8"/><line x1="1736.1" y1="238.4" x2="1736.1" y2="273.6" stroke="#b4b4b4" stroke-width="1"/><line x1="1734.1" y1="238.4" x2="1738.1" y2="238.4" stroke="#b4b4b4" stroke-width="1"/><line x1="1734.1" y1="273.6" x2="1738.1" y2="273.6" stroke="#b4b4b4" stroke-width="1"/><rect x="1733.5" y="253.1" width="5.2" height="20.5" fill="#ececec" stroke="#c4c4c4" stroke-width="0.8"/><line x1="1744.1" y1="238.4" x2="1744.1" y2="273.6" stroke="#b4b4b4" stroke-width="1"/><line x1="1742.1" y1="238.4" x2="1746.1" y2="238.4" stroke="#b4b4b4" stroke-width="1"/><line x1="1742.1" y1="273.6" x2="1746.1" y2="273.6" stroke="#b4b4b4" stroke-width="1"/><rect x="1741.5" y="241.4" width="5.2" height="17.6" fill="#ececec" stroke="#c4c4c4" stroke-width="0.8"/><line x1="1752.0" y1="232.6" x2="1752.0" y2="250.2" stroke="#b4b4b4" stroke-width="1"/><line x1="1750.0" y1="232.6" x2="1754.0" y2="232.6" stroke="#b4b4b4" stroke-width="1"/><line x1="1750.0" y1="250.2" x2="1754.0" y2="250.2" stroke="#b4b4b4" stroke-width="1"/><rect x="1749.4" y="238.4" width="5.2" height="8.8" fill="#ececec" stroke="#c4c4c4" stroke-width="0.8"/><line x1="1760.0" y1="238.4" x2="1760.0" y2="256.0" stroke="#b4b4b4" stroke-width="1"/><line x1="1758.0" y1="238.4" x2="1762.0" y2="238.4" stroke="#b4b4b4" stroke-width="1"/><line x1="1758.0" y1="256.0" x2="1762.0" y2="256.0" stroke="#b4b4b4" stroke-width="1"/><rect x="1757.4" y="247.2" width="5.2" height="8.8" fill="#ececec" stroke="#c4c4c4" stroke-width="0.8"/><line x1="1767.9" y1="232.6" x2="1767.9" y2="273.6" stroke="#b4b4b4" stroke-width="1"/><line x1="1765.9" y1="232.6" x2="1769.9" y2="232.6" stroke="#b4b4b4" stroke-width="1"/><line x1="1765.9" y1="273.6" x2="1769.9" y2="273.6" stroke="#b4b4b4" stroke-width="1"/><rect x="1765.3" y="250.2" width="5.2" height="23.5" fill="#ececec" stroke="#c4c4c4" stroke-width="0.8"/><circle cx="1377.9" cy="197.3" r="2.9" fill="#5470c6" fill-opacity="0.85"/><circle cx="1377.9" cy="279.5" r="2.9" fill="#5470c6" fill-opacity="0.85"/><circle cx="1377.9" cy="285.4" r="2.9" fill="#5470c6" fill-opacity="0.85"/><circle cx="1385.9" cy="244.3" r="2.9" fill="#5470c6" fill-opacity="0.85"/><circle cx="1385.9" cy="244.3" r="2.9" fill="#5470c6" fill-opacity="0.85"/><circle cx="1385.9" cy="267.8" r="2.9" fill="#5470c6" fill-opacity="0.85"/><circle cx="1393.8" cy="203.2" r="2.9" fill="#5470c6" fill-opacity="0.85"/><circle cx="1393.8" cy="256.0" r="2.9" fill="#5470c6" fill-opacity="0.85"/><circle cx="1393.8" cy="285.4" r="2.9" fill="#5470c6" fill-opacity="0.85"/><circle cx="1401.8" cy="173.9" r="2.9" fill="#5470c6" fill-opacity="0.85"/><circle cx="1401.8" cy="279.5" r="2.9" fill="#5470c6" fill-opacity="0.85"/><circle cx="1401.8" cy="291.3" r="2.9" fill="#5470c6" fill-opacity="0.85"/><circle cx="1409.7" cy="197.3" r="2.9" fill="#5470c6" fill-opacity="0.85"/><circle cx="1409.7" cy="220.8" r="2.9" fill="#5470c6" fill-opacity="0.85"/><circle cx="1409.7" cy="279.5" r="2.9" fill="#5470c6" fill-opacity="0.85"/><circle cx="1417.7" cy="173.9" r="2.9" fill="#5470c6" fill-opacity="0.85"/><circle cx="1417.7" cy="173.9" r="2.9" fill="#5470c6" fill-opacity="0.85"/><circle cx="1417.7" cy="297.1" r="2.9" fill="#5470c6" fill-opacity="0.85"/><circle cx="1425.7" cy="238.4" r="2.9" fill="#5470c6" fill-opacity="0.85"/><circle cx="1425.7" cy="256.0" r="2.9" fill="#5470c6" fill-opacity="0.85"/><circle cx="1425.7" cy="256.0" r="2.9" fill="#5470c6" fill-opacity="0.85"/><circle cx="1433.6" cy="244.3" r="2.9" fill="#5470c6" fill-opacity="0.85"/><circle cx="1433.6" cy="261.9" r="2.9" fill="#5470c6" fill-opacity="0.85"/><circle cx="1433.6" cy="267.8" r="2.9" fill="#5470c6" fill-opacity="0.85"/><circle cx="1441.6" cy="244.3" r="2.9" fill="#5470c6" fill-opacity="0.85"/><circle cx="1441.6" cy="261.9" r="2.9" fill="#5470c6" fill-opacity="0.85"/><circle cx="1441.6" cy="273.6" r="2.9" fill="#5470c6" fill-opacity="0.85"/><circle cx="1449.5" cy="232.6" r="2.9" fill="#5470c6" fill-opacity="0.85"/><circle cx="1449.5" cy="273.6" r="2.9" fill="#5470c6" fill-opacity="0.85"/><circle cx="1449.5" cy="273.6" r="2.9" fill="#5470c6" fill-opacity="0.85"/><circle cx="1457.5" cy="232.6" r="2.9" fill="#5470c6" fill-opacity="0.85"/><circle cx="1457.5" cy="256.0" r="2.9" fill="#5470c6" fill-opacity="0.85"/><circle cx="1457.5" cy="273.6" r="2.9" fill="#5470c6" fill-opacity="0.85"/><circle cx="1465.5" cy="238.4" r="2.9" fill="#5470c6" fill-opacity="0.85"/><circle cx="1465.5" cy="261.9" r="2.9" fill="#5470c6" fill-opacity="0.85"/><circle cx="1465.5" cy="267.8" r="2.9" fill="#5470c6" fill-opacity="0.85"/><circle cx="1473.4" cy="232.6" r="2.9" fill="#5470c6" fill-opacity="0.85"/><circle cx="1473.4" cy="244.3" r="2.9" fill="#5470c6" fill-opacity="0.85"/><circle cx="1473.4" cy="273.6" r="2.9" fill="#5470c6" fill-opacity="0.85"/><circle cx="1481.4" cy="203.2" r="2.9" fill="#5470c6" fill-opacity="0.85"/><circle cx="1481.4" cy="267.8" r="2.9" fill="#5470c6" fill-opacity="0.85"/><circle cx="1481.4" cy="297.1" r="2.9" fill="#5470c6" fill-opacity="0.85"/><circle cx="1489.3" cy="209.1" r="2.9" fill="#5470c6" fill-opacity="0.85"/><circle cx="1489.3" cy="226.7" r="2.9" fill="#5470c6" fill-opacity="0.85"/><circle cx="1489.3" cy="297.1" r="2.9" fill="#5470c6" fill-opacity="0.85"/><circle cx="1497.3" cy="273.6" r="2.9" fill="#5470c6" fill-opacity="0.85"/><circle cx="1497.3" cy="285.4" r="2.9" fill="#5470c6" fill-opacity="0.85"/><circle cx="1497.3" cy="285.4" r="2.9" fill="#5470c6" fill-opacity="0.85"/><circle cx="1497.3" cy="297.1" r="2.9" fill="#5470c6" fill-opacity="0.85"/><circle cx="1505.3" cy="238.4" r="2.9" fill="#5470c6" fill-opacity="0.85"/><circle cx="1505.3" cy="250.2" r="2.9" fill="#5470c6" fill-opacity="0.85"/><circle cx="1505.3" cy="279.5" r="2.9" fill="#5470c6" fill-opacity="0.85"/><circle cx="1513.2" cy="226.7" r="2.9" fill="#5470c6" fill-opacity="0.85"/><circle cx="1513.2" cy="273.6" r="2.9" fill="#5470c6" fill-opacity="0.85"/><circle cx="1513.2" cy="279.5" r="2.9" fill="#5470c6" fill-opacity="0.85"/><circle cx="1521.2" cy="191.5" r="2.9" fill="#5470c6" fill-opacity="0.85"/><circle cx="1521.2" cy="197.3" r="2.9" fill="#5470c6" fill-opacity="0.85"/><circle cx="1521.2" cy="285.4" r="2.9" fill="#5470c6" fill-opacity="0.85"/><circle cx="1529.1" cy="197.3" r="2.9" fill="#5470c6" fill-opacity="0.85"/><circle cx="1529.1" cy="232.6" r="2.9" fill="#5470c6" fill-opacity="0.85"/><circle cx="1529.1" cy="250.2" r="2.9" fill="#5470c6" fill-opacity="0.85"/><circle cx="1537.1" cy="214.9" r="2.9" fill="#5470c6" fill-opacity="0.85"/><circle cx="1537.1" cy="244.3" r="2.9" fill="#5470c6" fill-opacity="0.85"/><circle cx="1537.1" cy="267.8" r="2.9" fill="#5470c6" fill-opacity="0.85"/><circle cx="1545.1" cy="244.3" r="2.9" fill="#5470c6" fill-opacity="0.85"/><circle cx="1545.1" cy="273.6" r="2.9" fill="#5470c6" fill-opacity="0.85"/><circle cx="1545.1" cy="273.6" r="2.9" fill="#5470c6" fill-opacity="0.85"/><circle cx="1553.0" cy="238.4" r="2.9" fill="#5470c6" fill-opacity="0.85"/><circle cx="1553.0" cy="267.8" r="2.9" fill="#5470c6" fill-opacity="0.85"/><circle cx="1553.0" cy="267.8" r="2.9" fill="#5470c6" fill-opacity="0.85"/><circle cx="1561.0" cy="232.6" r="2.9" fill="#5470c6" fill-opacity="0.85"/><circle cx="1561.0" cy="250.2" r="2.9" fill="#5470c6" fill-opacity="0.85"/><circle cx="1561.0" cy="303.0" r="2.9" fill="#5470c6" fill-opacity="0.85"/><circle cx="1568.9" cy="238.4" r="2.9" fill="#5470c6" fill-opacity="0.85"/><circle cx="1568.9" cy="256.0" r="2.9" fill="#5470c6" fill-opacity="0.85"/><circle cx="1568.9" cy="297.1" r="2.9" fill="#5470c6" fill-opacity="0.85"/><circle cx="1576.9" cy="256.0" r="2.9" fill="#5470c6" fill-opacity="0.85"/><circle cx="1576.9" cy="273.6" r="2.9" fill="#5470c6" fill-opacity="0.85"/><circle cx="1576.9" cy="279.5" r="2.9" fill="#5470c6" fill-opacity="0.85"/><circle cx="1584.9" cy="273.6" r="2.9" fill="#5470c6" fill-opacity="0.85"/><circle cx="1584.9" cy="291.3" r="2.9" fill="#5470c6" fill-opacity="0.85"/><circle cx="1584.9" cy="297.1" r="2.9" fill="#5470c6" fill-opacity="0.85"/><circle cx="1592.8" cy="256.0" r="2.9" fill="#5470c6" fill-opacity="0.85"/><circle cx="1592.8" cy="279.5" r="2.9" fill="#5470c6" fill-opacity="0.85"/><circle cx="1592.8" cy="291.3" r="2.9" fill="#5470c6" fill-opacity="0.85"/><circle cx="1600.8" cy="244.3" r="2.9" fill="#5470c6" fill-opacity="0.85"/><circle cx="1600.8" cy="244.3" r="2.9" fill="#5470c6" fill-opacity="0.85"/><circle cx="1600.8" cy="267.8" r="2.9" fill="#5470c6" fill-opacity="0.85"/><circle cx="1608.7" cy="261.9" r="2.9" fill="#5470c6" fill-opacity="0.85"/><circle cx="1608.7" cy="267.8" r="2.9" fill="#5470c6" fill-opacity="0.85"/><circle cx="1608.7" cy="273.6" r="2.9" fill="#5470c6" fill-opacity="0.85"/><circle cx="1616.7" cy="238.4" r="2.9" fill="#5470c6" fill-opacity="0.85"/><circle cx="1616.7" cy="261.9" r="2.9" fill="#5470c6" fill-opacity="0.85"/><circle cx="1616.7" cy="273.6" r="2.9" fill="#5470c6" fill-opacity="0.85"/><circle cx="1624.7" cy="226.7" r="2.9" fill="#5470c6" fill-opacity="0.85"/><circle cx="1624.7" cy="238.4" r="2.9" fill="#5470c6" fill-opacity="0.85"/><circle cx="1624.7" cy="261.9" r="2.9" fill="#5470c6" fill-opacity="0.85"/><circle cx="1632.6" cy="232.6" r="2.9" fill="#5470c6" fill-opacity="0.85"/><circle cx="1632.6" cy="250.2" r="2.9" fill="#5470c6" fill-opacity="0.85"/><circle cx="1632.6" cy="256.0" r="2.9" fill="#5470c6" fill-opacity="0.85"/><circle cx="1640.6" cy="185.6" r="2.9" fill="#5470c6" fill-opacity="0.85"/><circle cx="1640.6" cy="203.2" r="2.9" fill="#5470c6" fill-opacity="0.85"/><circle cx="1640.6" cy="238.4" r="2.9" fill="#5470c6" fill-opacity="0.85"/><circle cx="1648.5" cy="250.2" r="2.9" fill="#5470c6" fill-opacity="0.85"/><circle cx="1648.5" cy="261.9" r="2.9" fill="#5470c6" fill-opacity="0.85"/><circle cx="1648.5" cy="267.8" r="2.9" fill="#5470c6" fill-opacity="0.85"/><circle cx="1656.5" cy="250.2" r="2.9" fill="#5470c6" fill-opacity="0.85"/><circle cx="1656.5" cy="261.9" r="2.9" fill="#5470c6" fill-opacity="0.85"/><circle cx="1656.5" cy="297.1" r="2.9" fill="#5470c6" fill-opacity="0.85"/><circle cx="1664.5" cy="238.4" r="2.9" fill="#5470c6" fill-opacity="0.85"/><circle cx="1664.5" cy="273.6" r="2.9" fill="#5470c6" fill-opacity="0.85"/><circle cx="1664.5" cy="279.5" r="2.9" fill="#5470c6" fill-opacity="0.85"/><circle cx="1672.4" cy="238.4" r="2.9" fill="#5470c6" fill-opacity="0.85"/><circle cx="1672.4" cy="238.4" r="2.9" fill="#5470c6" fill-opacity="0.85"/><circle cx="1672.4" cy="256.0" r="2.9" fill="#5470c6" fill-opacity="0.85"/><circle cx="1680.4" cy="226.7" r="2.9" fill="#5470c6" fill-opacity="0.85"/><circle cx="1680.4" cy="232.6" r="2.9" fill="#5470c6" fill-opacity="0.85"/><circle cx="1680.4" cy="244.3" r="2.9" fill="#5470c6" fill-opacity="0.85"/><circle cx="1688.3" cy="244.3" r="2.9" fill="#5470c6" fill-opacity="0.85"/><circle cx="1688.3" cy="267.8" r="2.9" fill="#5470c6" fill-opacity="0.85"/><circle cx="1688.3" cy="267.8" r="2.9" fill="#5470c6" fill-opacity="0.85"/><circle cx="1696.3" cy="267.8" r="2.9" fill="#5470c6" fill-opacity="0.85"/><circle cx="1696.3" cy="279.5" r="2.9" fill="#5470c6" fill-opacity="0.85"/><circle cx="1696.3" cy="297.1" r="2.9" fill="#5470c6" fill-opacity="0.85"/><circle cx="1704.3" cy="244.3" r="2.9" fill="#5470c6" fill-opacity="0.85"/><circle cx="1704.3" cy="250.2" r="2.9" fill="#5470c6" fill-opacity="0.85"/><circle cx="1704.3" cy="279.5" r="2.9" fill="#5470c6" fill-opacity="0.85"/><circle cx="1712.2" cy="232.6" r="2.9" fill="#5470c6" fill-opacity="0.85"/><circle cx="1712.2" cy="250.2" r="2.9" fill="#5470c6" fill-opacity="0.85"/><circle cx="1712.2" cy="256.0" r="2.9" fill="#5470c6" fill-opacity="0.85"/><circle cx="1720.2" cy="232.6" r="2.9" fill="#5470c6" fill-opacity="0.85"/><circle cx="1720.2" cy="256.0" r="2.9" fill="#5470c6" fill-opacity="0.85"/><circle cx="1720.2" cy="267.8" r="2.9" fill="#5470c6" fill-opacity="0.85"/><circle cx="1728.1" cy="256.0" r="2.9" fill="#5470c6" fill-opacity="0.85"/><circle cx="1728.1" cy="261.9" r="2.9" fill="#5470c6" fill-opacity="0.85"/><circle cx="1728.1" cy="267.8" r="2.9" fill="#5470c6" fill-opacity="0.85"/><circle cx="1736.1" cy="238.4" r="2.9" fill="#5470c6" fill-opacity="0.85"/><circle cx="1736.1" cy="267.8" r="2.9" fill="#5470c6" fill-opacity="0.85"/><circle cx="1736.1" cy="273.6" r="2.9" fill="#5470c6" fill-opacity="0.85"/><circle cx="1744.1" cy="238.4" r="2.9" fill="#5470c6" fill-opacity="0.85"/><circle cx="1744.1" cy="244.3" r="2.9" fill="#5470c6" fill-opacity="0.85"/><circle cx="1744.1" cy="273.6" r="2.9" fill="#5470c6" fill-opacity="0.85"/><circle cx="1752.0" cy="232.6" r="2.9" fill="#5470c6" fill-opacity="0.85"/><circle cx="1752.0" cy="244.3" r="2.9" fill="#5470c6" fill-opacity="0.85"/><circle cx="1752.0" cy="250.2" r="2.9" fill="#5470c6" fill-opacity="0.85"/><circle cx="1760.0" cy="238.4" r="2.9" fill="#5470c6" fill-opacity="0.85"/><circle cx="1760.0" cy="256.0" r="2.9" fill="#5470c6" fill-opacity="0.85"/><circle cx="1760.0" cy="256.0" r="2.9" fill="#5470c6" fill-opacity="0.85"/><circle cx="1767.9" cy="232.6" r="2.9" fill="#5470c6" fill-opacity="0.85"/><circle cx="1767.9" cy="267.8" r="2.9" fill="#5470c6" fill-opacity="0.85"/><circle cx="1767.9" cy="273.6" r="2.9" fill="#5470c6" fill-opacity="0.85"/><text x="1344.5" y="229.5" font-size="9.6" fill="#6e7079" text-anchor="middle" style="font-family:&quot;Noto Sans CJK SC&quot;,&quot;Liberation Sans&quot;,sans-serif" font-weight="bold" transform="rotate(-90 1344.5 229.5)">Observations</text><path d="M1790.1 158.6 L1790.8 155.8 L1799.7 146.8 L1802.1 149.2 L1793.1 158.0 Z" fill="#7a7a7a"/><path d="M1798.4 148.1 L1800.8 150.5" stroke="#fff" stroke-width="0.7" opacity="0.8"/><path d="M1813.4 152.4 C1815.4 149.0 1817.4 147.8 1819.1 147.8 C1820.8 147.8 1822.8 149.0 1824.8 152.4 C1822.8 155.8 1820.8 157.0 1819.1 157.0 C1817.4 157.0 1815.4 155.8 1813.4 152.4 Z" fill="none" stroke="#7a7a7a" stroke-width="1"/><circle cx="1819.1" cy="152.4" r="1.9" fill="none" stroke="#7a7a7a" stroke-width="1.5"/><path d="M1839.4 146.4 V155.9 M1834.7 150.8 L1839.4 155.9 L1844.1 150.8 M1834.4 154.9 V158.2 H1844.4 V154.9" fill="none" stroke="#7a7a7a" stroke-width="1.1"/><text x="1333.9" y="346.0" font-size="8" fill="#444" text-anchor="start" style="font-family:&quot;Liberation Sans&quot;,Arial,sans-serif" >3718</text><text x="1852.2" y="346.0" font-size="8" fill="#333" text-anchor="end" style="font-family:&quot;Liberation Sans&quot;,Arial,sans-serif" >Last Update Time: 2025-10-09 11:18:46 (6months ago)</text></svg>
<div class="card" style="left:212.8px;top:374.2px;width:542.2px;height:263.4px">
<div class="ttl" style="height:33.4px"><span style="left:13.8px;top:7.6px">User Test Data &gt;&nbsp; &gt; Z6 Analysis &gt;&nbsp; &gt; Phosphoric Acid</span></div>
</div>
<svg class="abs" style="left:212px;top:374px;overflow:hidden" width="543" height="264" viewBox="212 374 543 264"><line x1="264.8" y1="431.0" x2="264.8" y2="547.9" stroke="#6e7079" stroke-width="1.6"/><line x1="264.8" y1="547.1" x2="663.6" y2="547.1" stroke="#6e7079" stroke-width="1.6"/><line x1="268.6" y1="446.8" x2="659.1" y2="446.8" stroke="#ff4a4a" stroke-width="1.1" stroke-dasharray="4 3"/><line x1="268.6" y1="491.5" x2="659.1" y2="491.5" stroke="#6cdcbb" stroke-width="1.3"/><line x1="268.6" y1="536.2" x2="659.1" y2="536.2" stroke="#ff4a4a" stroke-width="1.1" stroke-dasharray="4 3"/><line x1="260.8" y1="547.1" x2="264.8" y2="547.1" stroke="#6e7079" stroke-width="1"/><text x="258.3" y="550.7" font-size="10" fill="#7b7f87" text-anchor="end" style="font-family:&quot;Noto Sans CJK SC&quot;,&quot;Liberation Sans&quot;,sans-serif" >14</text><line x1="260.8" y1="524.0" x2="264.8" y2="524.0" stroke="#6e7079" stroke-width="1"/><text x="258.3" y="527.6" font-size="10" fill="#7b7f87" text-anchor="end" style="font-family:&quot;Noto Sans CJK SC&quot;,&quot;Liberation Sans&quot;,sans-serif" >15</text><line x1="260.8" y1="500.9" x2="264.8" y2="500.9" stroke="#6e7079" stroke-width="1"/><text x="258.3" y="504.5" font-size="10" fill="#7b7f87" text-anchor="end" style="font-family:&quot;Noto Sans CJK SC&quot;,&quot;Liberation Sans&quot;,sans-serif" >16</text><line x1="260.8" y1="477.9" x2="264.8" y2="477.9" stroke="#6e7079" stroke-width="1"/><text x="258.3" y="481.5" font-size="10" fill="#7b7f87" text-anchor="end" style="font-family:&quot;Noto Sans CJK SC&quot;,&quot;Liberation Sans&quot;,sans-serif" >17</text><line x1="260.8" y1="454.8" x2="264.8" y2="454.8" stroke="#6e7079" stroke-width="1"/><text x="258.3" y="458.4" font-size="10" fill="#7b7f87" text-anchor="end" style="font-family:&quot;Noto Sans CJK SC&quot;,&quot;Liberation Sans&quot;,sans-serif" >18</text><line x1="260.8" y1="431.8" x2="264.8" y2="431.8" stroke="#6e7079" stroke-width="1"/><text x="258.3" y="435.4" font-size="10" fill="#7b7f87" text-anchor="end" style="font-family:&quot;Noto Sans CJK SC&quot;,&quot;Liberation Sans&quot;,sans-serif" >19</text><text x="268.6" y="560.8" font-size="10" fill="#7b7f87" text-anchor="middle" style="font-family:&quot;Noto Sans CJK SC&quot;,&quot;Liberation Sans&quot;,sans-serif" >0</text><text x="284.5" y="560.8" font-size="10" fill="#7b7f87" text-anchor="middle" style="font-family:&quot;Noto Sans CJK SC&quot;,&quot;Liberation Sans&quot;,sans-serif" >2</text><text x="300.5" y="560.8" font-size="10" fill="#7b7f87" text-anchor="middle" style="font-family:&quot;Noto Sans CJK SC&quot;,&quot;Liberation Sans&quot;,sans-serif" >4</text><text x="316.4" y="560.8" font-size="10" fill="#7b7f87" text-anchor="middle" style="font-family:&quot;Noto Sans CJK SC&quot;,&quot;Liberation Sans&quot;,sans-serif" >6</text><text x="332.3" y="560.8" font-size="10" fill="#7b7f87" text-anchor="middle" style="font-family:&quot;Noto Sans CJK SC&quot;,&quot;Liberation Sans&quot;,sans-serif" >8</text><text x="348.2" y="560.8" font-size="10" fill="#7b7f87" text-anchor="middle" style="font-family:&quot;Noto Sans CJK SC&quot;,&quot;Liberation Sans&quot;,sans-serif" >10</text><text x="364.2" y="560.8" font-size="10" fill="#7b7f87" text-anchor="middle" style="font-family:&quot;Noto Sans CJK SC&quot;,&quot;Liberation Sans&quot;,sans-serif" >12</text><text x="380.1" y="560.8" font-size="10" fill="#7b7f87" text-anchor="middle" style="font-family:&quot;Noto Sans CJK SC&quot;,&quot;Liberation Sans&quot;,sans-serif" >14</text><text x="396.0" y="560.8" font-size="10" fill="#7b7f87" text-anchor="middle" style="font-family:&quot;Noto Sans CJK SC&quot;,&quot;Liberation Sans&quot;,sans-serif" >16</text><text x="412.0" y="560.8" font-size="10" fill="#7b7f87" text-anchor="middle" style="font-family:&quot;Noto Sans CJK SC&quot;,&quot;Liberation Sans&quot;,sans-serif" >18</text><text x="427.9" y="560.8" font-size="10" fill="#7b7f87" text-anchor="middle" style="font-family:&quot;Noto Sans CJK SC&quot;,&quot;Liberation Sans&quot;,sans-serif" >20</text><text x="443.8" y="560.8" font-size="10" fill="#7b7f87" text-anchor="middle" style="font-family:&quot;Noto Sans CJK SC&quot;,&quot;Liberation Sans&quot;,sans-serif" >22</text><text x="459.8" y="560.8" font-size="10" fill="#7b7f87" text-anchor="middle" style="font-family:&quot;Noto Sans CJK SC&quot;,&quot;Liberation Sans&quot;,sans-serif" >24</text><text x="475.7" y="560.8" font-size="10" fill="#7b7f87" text-anchor="middle" style="font-family:&quot;Noto Sans CJK SC&quot;,&quot;Liberation Sans&quot;,sans-serif" >26</text><text x="491.6" y="560.8" font-size="10" fill="#7b7f87" text-anchor="middle" style="font-family:&quot;Noto Sans CJK SC&quot;,&quot;Liberation Sans&quot;,sans-serif" >28</text><text x="507.6" y="560.8" font-size="10" fill="#7b7f87" text-anchor="middle" style="font-family:&quot;Noto Sans CJK SC&quot;,&quot;Liberation Sans&quot;,sans-serif" >30</text><text x="523.5" y="560.8" font-size="10" fill="#7b7f87" text-anchor="middle" style="font-family:&quot;Noto Sans CJK SC&quot;,&quot;Liberation Sans&quot;,sans-serif" >32</text><text x="539.4" y="560.8" font-size="10" fill="#7b7f87" text-anchor="middle" style="font-family:&quot;Noto Sans CJK SC&quot;,&quot;Liberation Sans&quot;,sans-serif" >34</text><text x="555.3" y="560.8" font-size="10" fill="#7b7f87" text-anchor="middle" style="font-family:&quot;Noto Sans CJK SC&quot;,&quot;Liberation Sans&quot;,sans-serif" >36</text><text x="571.3" y="560.8" font-size="10" fill="#7b7f87" text-anchor="middle" style="font-family:&quot;Noto Sans CJK SC&quot;,&quot;Liberation Sans&quot;,sans-serif" >38</text><text x="587.2" y="560.8" font-size="10" fill="#7b7f87" text-anchor="middle" style="font-family:&quot;Noto Sans CJK SC&quot;,&quot;Liberation Sans&quot;,sans-serif" >40</text><text x="603.1" y="560.8" font-size="10" fill="#7b7f87" text-anchor="middle" style="font-family:&quot;Noto Sans CJK SC&quot;,&quot;Liberation Sans&quot;,sans-serif" >42</text><text x="619.1" y="560.8" font-size="10" fill="#7b7f87" text-anchor="middle" style="font-family:&quot;Noto Sans CJK SC&quot;,&quot;Liberation Sans&quot;,sans-serif" >44</text><text x="635.0" y="560.8" font-size="10" fill="#7b7f87" text-anchor="middle" style="font-family:&quot;Noto Sans CJK SC&quot;,&quot;Liberation Sans&quot;,sans-serif" >46</text><text x="650.9" y="560.8" font-size="10" fill="#7b7f87" text-anchor="middle" style="font-family:&quot;Noto Sans CJK SC&quot;,&quot;Liberation Sans&quot;,sans-serif" >48</text><text x="235.6" y="489.6" font-size="9.6" fill="#6e7079" text-anchor="middle" style="font-family:&quot;Noto Sans CJK SC&quot;,&quot;Liberation Sans&quot;,sans-serif" font-weight="bold" letter-spacing="0.15" transform="rotate(-90 235.6 489.6)">Individual value</text><polyline points="268.6,493.8 276.6,498.9 284.5,500.9 292.5,490.3 300.5,468.4 308.4,508.8 316.4,468.4 324.4,445.6 332.3,486.6 340.3,480.2 348.2,452.5 356.2,475.3 364.2,486.6 372.1,499.8 380.1,509.9 388.1,498.9 396.0,518.9 404.0,506.0 412.0,524.0 419.9,494.0 427.9,498.6 435.9,486.6 443.8,491.7 451.8,491.7 459.8,489.2 467.7,495.4 475.7,491.7 483.7,496.1 491.6,491.7 499.6,489.9 507.6,516.9 515.5,496.1 523.5,496.1 531.4,494.0 539.4,498.6 547.4,516.9 555.3,516.9 563.3,476.0 571.3,498.6 579.2,463.8 587.2,486.6 595.2,498.2 603.1,484.8 611.1,498.2 619.1,493.8 627.0,513.6 635.0,466.4 643.0,495.4 650.9,491.7 658.9,431.8" fill="none" stroke="#0e3e7f" stroke-width="2.6" stroke-linejoin="round"/><circle cx="268.6" cy="493.8" r="3" fill="#0e3e7f"/><circle cx="284.5" cy="500.9" r="3" fill="#0e3e7f"/><circle cx="300.5" cy="468.4" r="3" fill="#0e3e7f"/><circle cx="316.4" cy="468.4" r="3" fill="#0e3e7f"/><circle cx="348.2" cy="452.5" r="3" fill="#0e3e7f"/><circle cx="364.2" cy="486.6" r="3" fill="#0e3e7f"/><circle cx="380.1" cy="509.9" r="3" fill="#0e3e7f"/><circle cx="396.0" cy="518.9" r="3" fill="#0e3e7f"/><circle cx="412.0" cy="524.0" r="3" fill="#0e3e7f"/><circle cx="427.9" cy="498.6" r="3" fill="#0e3e7f"/><circle cx="443.8" cy="491.7" r="3" fill="#0e3e7f"/><circle cx="459.8" cy="489.2" r="3" fill="#0e3e7f"/><circle cx="475.7" cy="491.7" r="3" fill="#0e3e7f"/><circle cx="491.6" cy="491.7" r="3" fill="#0e3e7f"/><circle cx="507.6" cy="516.9" r="3" fill="#0e3e7f"/><circle cx="523.5" cy="496.1" r="3" fill="#0e3e7f"/><circle cx="539.4" cy="498.6" r="3" fill="#0e3e7f"/><circle cx="555.3" cy="516.9" r="3" fill="#0e3e7f"/><circle cx="571.3" cy="498.6" r="3" fill="#0e3e7f"/><circle cx="587.2" cy="486.6" r="3" fill="#0e3e7f"/><circle cx="603.1" cy="484.8" r="3" fill="#0e3e7f"/><circle cx="619.1" cy="493.8" r="3" fill="#0e3e7f"/><circle cx="635.0" cy="466.4" r="3" fill="#0e3e7f"/><circle cx="650.9" cy="491.7" r="3" fill="#0e3e7f"/><circle cx="324.4" cy="445.6" r="3.4" fill="#ff0000"/><circle cx="332.3" cy="486.6" r="3.4" fill="#ff0000"/><circle cx="579.2" cy="463.8" r="3.4" fill="#ff0000"/><circle cx="658.9" cy="431.8" r="3.4" fill="#ff0000"/><text x="628.6" y="458.6" font-size="10" fill="#333" text-anchor="start" style="font-family:&quot;Noto Sans CJK SC&quot;,&quot;Liberation Sans&quot;,sans-serif" >UCL=18.3457</text><line x1="662.6" y1="490.4" x2="667.0" y2="490.4" stroke="#333" stroke-width="0.9"/><text x="662.0" y="499.0" font-size="10" fill="#333" text-anchor="start" style="font-family:&quot;Noto Sans CJK SC&quot;,&quot;Liberation Sans&quot;,sans-serif" >X=16.408</text><text x="631.3" y="530.5" font-size="10" fill="#333" text-anchor="start" style="font-family:&quot;Noto Sans CJK SC&quot;,&quot;Liberation Sans&quot;,sans-serif" >LCL=14.4703</text><text x="289.3" y="433.3" font-size="10" fill="#555" text-anchor="start" style="font-family:&quot;Noto Sans CJK SC&quot;,&quot;Liberation Sans&quot;,sans-serif" >Unit:mS/cm</text><rect x="660.0" y="422.3" width="11" height="11.4" rx="0.8" fill="none" stroke="#7a7a7a" stroke-width="1.2"/><path d="M660.8 430.4 L662.3 428.4 L663.8 428.9 L665.9 425.4 L668.0 429.5 L670.3 425.9" fill="none" stroke="#7a7a7a" stroke-width="0.9"/><path d="M681.6 434.1 L682.3 431.3 L691.2 422.3 L693.6 424.7 L684.6 433.5 Z" fill="#7a7a7a"/><path d="M689.9 423.6 L692.3 426.0" stroke="#fff" stroke-width="0.7" opacity="0.8"/><path d="M704.7 427.9 C706.7 424.5 708.7 423.3 710.4 423.3 C712.1 423.3 714.1 424.5 716.1 427.9 C714.1 431.3 712.1 432.5 710.4 432.5 C708.7 432.5 706.7 431.3 704.7 427.9 Z" fill="none" stroke="#7a7a7a" stroke-width="1"/><circle cx="710.4" cy="427.9" r="1.9" fill="none" stroke="#7a7a7a" stroke-width="1.5"/><path d="M731.7 421.9 V431.4 M727.0 426.3 L731.7 431.4 L736.4 426.3 M726.7 430.4 V433.7 H736.7 V430.4" fill="none" stroke="#7a7a7a" stroke-width="1.1"/><circle cx="237.4" cy="579.6" r="1.5" fill="#ff0000"/><text x="249.3" y="583.6" font-size="11.2" fill="#ff0000" text-anchor="start" style="font-family:&quot;Liberation Sans&quot;,Arial,sans-serif" >1 beyond 3*sigma: 7, 49</text><circle cx="237.4" cy="597.2" r="1.5" fill="#ff0000"/><text x="249.3" y="601.2" font-size="11.2" fill="#ff0000" text-anchor="start" style="font-family:&quot;Liberation Sans&quot;,Arial,sans-serif" >4 of 5 beyond 1*sigma: 7, 8, 39</text><circle cx="237.4" cy="614.0" r="1.5" fill="#ff0000"/><text x="249.3" y="618.0" font-size="11.2" fill="#ff0000" text-anchor="start" style="font-family:&quot;Liberation Sans&quot;,Arial,sans-serif" >OOC: 4/50=8.0000%</text><text x="225.0" y="622.0" font-size="8" fill="#444" text-anchor="start" style="font-family:&quot;Liberation Sans&quot;,Arial,sans-serif" >756</text><text x="743.3" y="622.0" font-size="8" fill="#333" text-anchor="end" style="font-family:&quot;Liberation Sans&quot;,Arial,sans-serif" >Last Update Time: 2024-11-04 14:49:09 (1years ago)</text></svg>
<div class="card" style="left:767.45px;top:374.2px;width:542.3px;height:263.4px">
<div class="ttl" style="height:33.4px"><span style="left:16.7px;top:8.6px">User Test Data &gt;&nbsp; &gt; Packaging Weight &gt;&nbsp; &gt; Weight</span></div>
</div>
<svg class="abs" style="left:767px;top:374px;overflow:hidden" width="543" height="264" viewBox="767 374 543 264"><rect x="798.9" y="432.0" width="406.15" height="26.30" fill="#fbab9d"/><rect x="798.9" y="458.3" width="406.15" height="26.30" fill="#fbedb5"/><rect x="798.9" y="484.6" width="406.15" height="26.30" fill="#dcf8b6"/><rect x="798.9" y="510.9" width="406.15" height="26.30" fill="#dcf8b6"/><rect x="798.9" y="537.2" width="406.15" height="26.30" fill="#fbedb5"/><rect x="798.9" y="563.5" width="406.15" height="26.30" fill="#fbab9d"/><line x1="798.9" y1="458.3" x2="1205.05" y2="458.3" stroke="#fff" stroke-width="1.2"/><line x1="798.9" y1="484.6" x2="1205.05" y2="484.6" stroke="#fff" stroke-width="1.2"/><line x1="798.9" y1="510.9" x2="1205.05" y2="510.9" stroke="#fff" stroke-width="1.2"/><line x1="798.9" y1="537.2" x2="1205.05" y2="537.2" stroke="#fff" stroke-width="1.2"/><line x1="798.9" y1="563.5" x2="1205.05" y2="563.5" stroke="#fff" stroke-width="1.2"/><line x1="798.9" y1="589.8" x2="1205.05" y2="589.8" stroke="#6e7079" stroke-width="1.2"/><text x="798.9" y="603.6" font-size="10" fill="#7b7f87" text-anchor="middle" style="font-family:&quot;Noto Sans CJK SC&quot;,&quot;Liberation Sans&quot;,sans-serif" >0</text><text x="815.5" y="603.6" font-size="10" fill="#7b7f87" text-anchor="middle" style="font-family:&quot;Noto Sans CJK SC&quot;,&quot;Liberation Sans&quot;,sans-serif" >2</text><text x="832.1" y="603.6" font-size="10" fill="#7b7f87" text-anchor="middle" style="font-family:&quot;Noto Sans CJK SC&quot;,&quot;Liberation Sans&quot;,sans-serif" >4</text><text x="848.6" y="603.6" font-size="10" fill="#7b7f87" text-anchor="middle" style="font-family:&quot;Noto Sans CJK SC&quot;,&quot;Liberation Sans&quot;,sans-serif" >6</text><text x="865.2" y="603.6" font-size="10" fill="#7b7f87" text-anchor="middle" style="font-family:&quot;Noto Sans CJK SC&quot;,&quot;Liberation Sans&quot;,sans-serif" >8</text><text x="881.8" y="603.6" font-size="10" fill="#7b7f87" text-anchor="middle" style="font-family:&quot;Noto Sans CJK SC&quot;,&quot;Liberation Sans&quot;,sans-serif" >10</text><text x="898.4" y="603.6" font-size="10" fill="#7b7f87" text-anchor="middle" style="font-family:&quot;Noto Sans CJK SC&quot;,&quot;Liberation Sans&quot;,sans-serif" >12</text><text x="915.0" y="603.6" font-size="10" fill="#7b7f87" text-anchor="middle" style="font-family:&quot;Noto Sans CJK SC&quot;,&quot;Liberation Sans&quot;,sans-serif" >14</text><text x="931.5" y="603.6" font-size="10" fill="#7b7f87" text-anchor="middle" style="font-family:&quot;Noto Sans CJK SC&quot;,&quot;Liberation Sans&quot;,sans-serif" >16</text><text x="948.1" y="603.6" font-size="10" fill="#7b7f87" text-anchor="middle" style="font-family:&quot;Noto Sans CJK SC&quot;,&quot;Liberation Sans&quot;,sans-serif" >18</text><text x="964.7" y="603.6" font-size="10" fill="#7b7f87" text-anchor="middle" style="font-family:&quot;Noto Sans CJK SC&quot;,&quot;Liberation Sans&quot;,sans-serif" >20</text><text x="981.3" y="603.6" font-size="10" fill="#7b7f87" text-anchor="middle" style="font-family:&quot;Noto Sans CJK SC&quot;,&quot;Liberation Sans&quot;,sans-serif" >22</text><text x="997.9" y="603.6" font-size="10" fill="#7b7f87" text-anchor="middle" style="font-family:&quot;Noto Sans CJK SC&quot;,&quot;Liberation Sans&quot;,sans-serif" >24</text><text x="1014.4" y="603.6" font-size="10" fill="#7b7f87" text-anchor="middle" style="font-family:&quot;Noto Sans CJK SC&quot;,&quot;Liberation Sans&quot;,sans-serif" >26</text><text x="1031.0" y="603.6" font-size="10" fill="#7b7f87" text-anchor="middle" style="font-family:&quot;Noto Sans CJK SC&quot;,&quot;Liberation Sans&quot;,sans-serif" >28</text><text x="1047.6" y="603.6" font-size="10" fill="#7b7f87" text-anchor="middle" style="font-family:&quot;Noto Sans CJK SC&quot;,&quot;Liberation Sans&quot;,sans-serif" >30</text><text x="1064.2" y="603.6" font-size="10" fill="#7b7f87" text-anchor="middle" style="font-family:&quot;Noto Sans CJK SC&quot;,&quot;Liberation Sans&quot;,sans-serif" >32</text><text x="1080.8" y="603.6" font-size="10" fill="#7b7f87" text-anchor="middle" style="font-family:&quot;Noto Sans CJK SC&quot;,&quot;Liberation Sans&quot;,sans-serif" >34</text><text x="1097.3" y="603.6" font-size="10" fill="#7b7f87" text-anchor="middle" style="font-family:&quot;Noto Sans CJK SC&quot;,&quot;Liberation Sans&quot;,sans-serif" >36</text><text x="1113.9" y="603.6" font-size="10" fill="#7b7f87" text-anchor="middle" style="font-family:&quot;Noto Sans CJK SC&quot;,&quot;Liberation Sans&quot;,sans-serif" >38</text><text x="1130.5" y="603.6" font-size="10" fill="#7b7f87" text-anchor="middle" style="font-family:&quot;Noto Sans CJK SC&quot;,&quot;Liberation Sans&quot;,sans-serif" >40</text><text x="1147.1" y="603.6" font-size="10" fill="#7b7f87" text-anchor="middle" style="font-family:&quot;Noto Sans CJK SC&quot;,&quot;Liberation Sans&quot;,sans-serif" >42</text><text x="1163.7" y="603.6" font-size="10" fill="#7b7f87" text-anchor="middle" style="font-family:&quot;Noto Sans CJK SC&quot;,&quot;Liberation Sans&quot;,sans-serif" >44</text><text x="1180.2" y="603.6" font-size="10" fill="#7b7f87" text-anchor="middle" style="font-family:&quot;Noto Sans CJK SC&quot;,&quot;Liberation Sans&quot;,sans-serif" >46</text><text x="1196.8" y="603.6" font-size="10" fill="#7b7f87" text-anchor="middle" style="font-family:&quot;Noto Sans CJK SC&quot;,&quot;Liberation Sans&quot;,sans-serif" >48</text><polyline points="798.9,482.6 807.2,517.1 815.5,490.2 823.8,554.7 832.1,508.4 840.4,498.5 848.6,487.1 856.9,500.1 865.2,557.4 873.5,495.4 881.8,498.9 890.1,529.5 898.4,503.7 906.7,525.3 915.0,479.5 923.2,473.7 931.5,512.5 939.8,503.7 948.1,525.3 956.4,508.8 964.7,545.0 973.0,557.4 981.3,527.8 989.6,525.3 997.9,498.1 1006.1,474.1 1014.4,550.6 1022.7,497.5 1031.0,482.6 1039.3,554.7 1047.6,539.4 1055.9,548.5 1064.2,516.1 1072.5,545.0 1080.8,514.6 1089.0,498.1 1097.3,558.8 1105.6,504.7 1113.9,498.1 1122.2,531.5 1130.5,491.9 1138.8,470.6 1147.1,510.9 1155.4,497.5 1163.7,497.5 1171.9,481.6 1180.2,478.9 1188.5,494.8 1196.8,492.7 1205.1,492.7" fill="none" stroke="#0b3d82" stroke-width="2.6" stroke-linejoin="round"/><circle cx="798.9" cy="482.6" r="3" fill="#5470c6"/><circle cx="815.5" cy="490.2" r="3" fill="#5470c6"/><circle cx="832.1" cy="508.4" r="3" fill="#5470c6"/><circle cx="848.6" cy="487.1" r="3" fill="#5470c6"/><circle cx="865.2" cy="557.4" r="3" fill="#5470c6"/><circle cx="881.8" cy="498.9" r="3" fill="#5470c6"/><circle cx="898.4" cy="503.7" r="3" fill="#5470c6"/><circle cx="915.0" cy="479.5" r="3" fill="#5470c6"/><circle cx="931.5" cy="512.5" r="3" fill="#5470c6"/><circle cx="948.1" cy="525.3" r="3" fill="#5470c6"/><circle cx="964.7" cy="545.0" r="3" fill="#5470c6"/><circle cx="981.3" cy="527.8" r="3" fill="#5470c6"/><circle cx="997.9" cy="498.1" r="3" fill="#5470c6"/><circle cx="1014.4" cy="550.6" r="3" fill="#5470c6"/><circle cx="1031.0" cy="482.6" r="3" fill="#5470c6"/><circle cx="1047.6" cy="539.4" r="3" fill="#5470c6"/><circle cx="1064.2" cy="516.1" r="3" fill="#5470c6"/><circle cx="1080.8" cy="514.6" r="3" fill="#5470c6"/><circle cx="1097.3" cy="558.8" r="3" fill="#5470c6"/><circle cx="1113.9" cy="498.1" r="3" fill="#5470c6"/><circle cx="1130.5" cy="491.9" r="3" fill="#5470c6"/><circle cx="1147.1" cy="510.9" r="3" fill="#5470c6"/><circle cx="1163.7" cy="497.5" r="3" fill="#5470c6"/><circle cx="1180.2" cy="478.9" r="3" fill="#5470c6"/><circle cx="1196.8" cy="492.7" r="3" fill="#5470c6"/><text x="1205.5" y="465.9" font-size="10" fill="#3b65a9" text-anchor="start" style="font-family:&quot;Noto Sans CJK SC&quot;,&quot;Liberation Sans&quot;,sans-serif" >Tu = 21.01</text><text x="1205.5" y="491.8" font-size="10" fill="#3b65a9" text-anchor="start" style="font-family:&quot;Noto Sans CJK SC&quot;,&quot;Liberation Sans&quot;,sans-serif" >PCu = 20.51</text><text x="1205.5" y="517.9" font-size="10" fill="#3b65a9" text-anchor="start" style="font-family:&quot;Noto Sans CJK SC&quot;,&quot;Liberation Sans&quot;,sans-serif" >M = 20.01</text><text x="1205.5" y="543.8" font-size="10" fill="#3b65a9" text-anchor="start" style="font-family:&quot;Noto Sans CJK SC&quot;,&quot;Liberation Sans&quot;,sans-serif" >PCl = 19.51</text><text x="1205.5" y="569.9" font-size="10" fill="#3b65a9" text-anchor="start" style="font-family:&quot;Noto Sans CJK SC&quot;,&quot;Liberation Sans&quot;,sans-serif" >Tl = 19.01</text><path d="M1223.7 434.5 L1224.4 431.7 L1233.3 422.7 L1235.7 425.1 L1226.7 433.9 Z" fill="#7a7a7a"/><path d="M1232.0 424.0 L1234.4 426.4" stroke="#fff" stroke-width="0.7" opacity="0.8"/><path d="M1246.3 428.3 C1248.3 424.9 1250.3 423.7 1252.0 423.7 C1253.7 423.7 1255.7 424.9 1257.7 428.3 C1255.7 431.7 1253.7 432.9 1252.0 432.9 C1250.3 432.9 1248.3 431.7 1246.3 428.3 Z" fill="none" stroke="#7a7a7a" stroke-width="1"/><circle cx="1252.0" cy="428.3" r="1.9" fill="none" stroke="#7a7a7a" stroke-width="1.5"/><path d="M1273.3 422.3 V431.8 M1268.6 426.7 L1273.3 431.8 L1278.0 426.7 M1268.3 430.8 V434.1 H1278.3 V430.8" fill="none" stroke="#7a7a7a" stroke-width="1.1"/><text x="778.9" y="622.0" font-size="8" fill="#444" text-anchor="start" style="font-family:&quot;Liberation Sans&quot;,Arial,sans-serif" >2591</text><text x="1297.2" y="622.0" font-size="8" fill="#333" text-anchor="end" style="font-family:&quot;Liberation Sans&quot;,Arial,sans-serif" >Last Update Time: 2024-11-06 21:36:15 (1years ago)</text></svg>
<div class="card" style="left:1322.1px;top:374.2px;width:541.8px;height:263.4px">
<div class="ttl" style="height:33.4px"><span style="left:17.1px;top:7.4px">User Test Data &gt;&nbsp; &gt; Material Input Quantity 868 &gt;&nbsp; &gt; C23Y-904Viscosity</span></div>
</div>
<svg class="abs" style="left:1322px;top:374px;overflow:hidden" width="542" height="264" viewBox="1322 374 542 264"><defs><filter id="blur6" x="-10%" y="-10%" width="120%" height="125%"><feGaussianBlur stdDeviation="2.6"/></filter><clipPath id="cp6"><rect x="1725" y="405" width="140" height="217.5"/></clipPath></defs><line x1="1373.7" y1="591.7" x2="1772" y2="591.7" stroke="#6e7079" stroke-width="1.4"/><line x1="1373.7" y1="591.7" x2="1373.7" y2="480" stroke="#6e7079" stroke-width="1.4"/><line x1="1369.7" y1="591.7" x2="1373.7" y2="591.7" stroke="#6e7079" stroke-width="1"/><text x="1367.5" y="595.3" font-size="10" fill="#7b7f87" text-anchor="end" style="font-family:&quot;Noto Sans CJK SC&quot;,&quot;Liberation Sans&quot;,sans-serif" >0</text><line x1="1369.7" y1="564.9000000000001" x2="1373.7" y2="564.9000000000001" stroke="#6e7079" stroke-width="1"/><text x="1367.5" y="568.5" font-size="10" fill="#7b7f87" text-anchor="end" style="font-family:&quot;Noto Sans CJK SC&quot;,&quot;Liberation Sans&quot;,sans-serif" >2</text><text x="1373.6" y="606.0" font-size="10" fill="#7b7f87" text-anchor="middle" style="font-family:&quot;Noto Sans CJK SC&quot;,&quot;Liberation Sans&quot;,sans-serif" >17.4153</text><text x="1433.1" y="606.0" font-size="10" fill="#7b7f87" text-anchor="middle" style="font-family:&quot;Noto Sans CJK SC&quot;,&quot;Liberation Sans&quot;,sans-serif" >17.6</text><text x="1497.5" y="606.0" font-size="10" fill="#7b7f87" text-anchor="middle" style="font-family:&quot;Noto Sans CJK SC&quot;,&quot;Liberation Sans&quot;,sans-serif" >17.8</text><text x="1561.9" y="606.0" font-size="10" fill="#7b7f87" text-anchor="middle" style="font-family:&quot;Noto Sans CJK SC&quot;,&quot;Liberation Sans&quot;,sans-serif" >18</text><text x="1626.3" y="606.0" font-size="10" fill="#7b7f87" text-anchor="middle" style="font-family:&quot;Noto Sans CJK SC&quot;,&quot;Liberation Sans&quot;,sans-serif" >18.2</text><text x="1690.7" y="606.0" font-size="10" fill="#7b7f87" text-anchor="middle" style="font-family:&quot;Noto Sans CJK SC&quot;,&quot;Liberation Sans&quot;,sans-serif" >18.4</text><rect x="1401.1" y="586.5" width="16.1" height="5.2" fill="#7ba7db"/><rect x="1497.6" y="586.5" width="16.1" height="5.2" fill="#7ba7db"/><rect x="1530.0" y="554.3" width="16.1" height="37.4" fill="#7ba7db"/><rect x="1562.1" y="447.8" width="16.1" height="143.9" fill="#7ba7db"/><rect x="1594.3" y="565.0" width="16.1" height="26.7" fill="#7ba7db"/><rect x="1626.4" y="570.4" width="16.1" height="21.3" fill="#7ba7db"/><rect x="1658.6" y="581.1" width="16.1" height="10.6" fill="#7ba7db"/><rect x="1674.7" y="575.9" width="16.1" height="15.8" fill="#7ba7db"/><polyline points="1373.7,591.7 1376.2,591.7 1378.7,591.7 1381.2,591.7 1383.7,591.7 1386.1,591.7 1388.6,591.7 1391.1,591.7 1393.6,591.6 1396.1,591.6 1398.6,591.6 1401.1,591.6 1403.6,591.6 1406.1,591.6 1408.6,591.6 1411.0,591.5 1413.5,591.5 1416.0,591.5 1418.5,591.4 1421.0,591.4 1423.5,591.3 1426.0,591.3 1428.5,591.2 1431.0,591.1 1433.4,591.0 1435.9,590.9 1438.4,590.8 1440.9,590.7 1443.4,590.5 1445.9,590.4 1448.4,590.2 1450.9,590.0 1453.4,589.8 1455.8,589.5 1458.3,589.3 1460.8,589.0 1463.3,588.6 1465.8,588.3 1468.3,587.9 1470.8,587.5 1473.3,587.0 1475.8,586.6 1478.3,586.0 1480.7,585.5 1483.2,584.9 1485.7,584.2 1488.2,583.6 1490.7,582.9 1493.2,582.1 1495.7,581.3 1498.2,580.5 1500.7,579.7 1503.1,578.8 1505.6,577.9 1508.1,576.9 1510.6,575.9 1513.1,574.9 1515.6,573.9 1518.1,572.9 1520.6,571.9 1523.1,570.8 1525.6,569.8 1528.0,568.7 1530.5,567.7 1533.0,566.7 1535.5,565.7 1538.0,564.8 1540.5,563.8 1543.0,563.0 1545.5,562.1 1548.0,561.3 1550.4,560.6 1552.9,559.9 1555.4,559.3 1557.9,558.8 1560.4,558.4 1562.9,558.0 1565.4,557.7 1567.9,557.5 1570.4,557.3 1572.8,557.3 1575.3,557.3 1577.8,557.5 1580.3,557.7 1582.8,558.0 1585.3,558.4 1587.8,558.8 1590.3,559.3 1592.8,559.9 1595.3,560.6 1597.7,561.3 1600.2,562.1 1602.7,563.0 1605.2,563.8 1607.7,564.8 1610.2,565.7 1612.7,566.7 1615.2,567.7 1617.7,568.7 1620.1,569.8 1622.6,570.8 1625.1,571.9 1627.6,572.9 1630.1,573.9 1632.6,574.9 1635.1,575.9 1637.6,576.9 1640.1,577.9 1642.6,578.8 1645.0,579.7 1647.5,580.5 1650.0,581.3 1652.5,582.1 1655.0,582.9 1657.5,583.6 1660.0,584.2 1662.5,584.9 1665.0,585.5 1667.4,586.0 1669.9,586.6 1672.4,587.0 1674.9,587.5 1677.4,587.9 1679.9,588.3 1682.4,588.6 1684.9,589.0 1687.4,589.3 1689.9,589.5 1692.3,589.8 1694.8,590.0 1697.3,590.2 1699.8,590.4 1702.3,590.5 1704.8,590.7 1707.3,590.8 1709.8,590.9 1712.3,591.0 1714.7,591.1 1717.2,591.2 1719.7,591.3 1722.2,591.3 1724.7,591.4 1727.2,591.4 1729.7,591.5 1732.2,591.5 1734.7,591.5 1737.1,591.6 1739.6,591.6 1742.1,591.6 1744.6,591.6 1747.1,591.6 1749.6,591.6 1752.1,591.6 1754.6,591.7 1757.1,591.7 1759.6,591.7 1762.0,591.7 1764.5,591.7 1767.0,591.7 1769.5,591.7 1772.0,591.7" fill="none" stroke="#ff1a1a" stroke-width="1.8" stroke-dasharray="5 3"/><polyline points="1373.7,591.7 1376.2,591.7 1378.7,591.7 1381.2,591.7 1383.7,591.7 1386.1,591.7 1388.6,591.7 1391.1,591.7 1393.6,591.7 1396.1,591.7 1398.6,591.7 1401.1,591.7 1403.6,591.7 1406.1,591.7 1408.6,591.7 1411.0,591.7 1413.5,591.7 1416.0,591.7 1418.5,591.7 1421.0,591.7 1423.5,591.7 1426.0,591.7 1428.5,591.7 1431.0,591.7 1433.4,591.7 1435.9,591.7 1438.4,591.7 1440.9,591.7 1443.4,591.7 1445.9,591.7 1448.4,591.7 1450.9,591.7 1453.4,591.7 1455.8,591.7 1458.3,591.6 1460.8,591.6 1463.3,591.6 1465.8,591.6 1468.3,591.5 1470.8,591.5 1473.3,591.4 1475.8,591.3 1478.3,591.2 1480.7,591.1 1483.2,590.9 1485.7,590.7 1488.2,590.4 1490.7,590.1 1493.2,589.7 1495.7,589.3 1498.2,588.7 1500.7,588.1 1503.1,587.4 1505.6,586.5 1508.1,585.5 1510.6,584.4 1513.1,583.2 1515.6,581.8 1518.1,580.2 1520.6,578.5 1523.1,576.6 1525.6,574.6 1528.0,572.4 1530.5,570.0 1533.0,567.6 1535.5,565.0 1538.0,562.4 1540.5,559.7 1543.0,557.0 1545.5,554.3 1548.0,551.7 1550.4,549.1 1552.9,546.7 1555.4,544.5 1557.9,542.4 1560.4,540.6 1562.9,539.1 1565.4,537.9 1567.9,537.0 1570.4,536.5 1572.8,536.3 1575.3,536.5 1577.8,537.0 1580.3,537.9 1582.8,539.1 1585.3,540.6 1587.8,542.4 1590.3,544.5 1592.8,546.7 1595.3,549.1 1597.7,551.7 1600.2,554.3 1602.7,557.0 1605.2,559.7 1607.7,562.4 1610.2,565.0 1612.7,567.6 1615.2,570.0 1617.7,572.4 1620.1,574.6 1622.6,576.6 1625.1,578.5 1627.6,580.2 1630.1,581.8 1632.6,583.2 1635.1,584.4 1637.6,585.5 1640.1,586.5 1642.6,587.4 1645.0,588.1 1647.5,588.7 1650.0,589.3 1652.5,589.7 1655.0,590.1 1657.5,590.4 1660.0,590.7 1662.5,590.9 1665.0,591.1 1667.4,591.2 1669.9,591.3 1672.4,591.4 1674.9,591.5 1677.4,591.5 1679.9,591.6 1682.4,591.6 1684.9,591.6 1687.4,591.6 1689.9,591.7 1692.3,591.7 1694.8,591.7 1697.3,591.7 1699.8,591.7 1702.3,591.7 1704.8,591.7 1707.3,591.7 1709.8,591.7 1712.3,591.7 1714.7,591.7 1717.2,591.7 1719.7,591.7 1722.2,591.7 1724.7,591.7 1727.2,591.7 1729.7,591.7 1732.2,591.7 1734.7,591.7 1737.1,591.7 1739.6,591.7 1742.1,591.7 1744.6,591.7 1747.1,591.7 1749.6,591.7 1752.1,591.7 1754.6,591.7 1757.1,591.7 1759.6,591.7 1762.0,591.7 1764.5,591.7 1767.0,591.7 1769.5,591.7 1772.0,591.7" fill="none" stroke="#1b4a8c" stroke-width="1.8" stroke-dasharray="5 3"/><rect x="1335.3" y="419.2" width="166.2" height="136.7" fill="#000" fill-opacity="0.22" filter="url(#blur6)"/><rect x="1334.8" y="417.2" width="166.2" height="136.7" fill="#fff" stroke="#cfcfcf" stroke-width="1"/><text x="1343.1" y="435.1" font-size="11.2" fill="#111" text-anchor="start" style="font-family:&quot;Liberation Sans&quot;,Arial,sans-serif" >LSL:14</text><text x="1343.1" y="447.1" font-size="11.2" fill="#111" text-anchor="start" style="font-family:&quot;Liberation Sans&quot;,Arial,sans-serif" >Target:</text><text x="1343.1" y="459.1" font-size="11.2" fill="#111" text-anchor="start" style="font-family:&quot;Liberation Sans&quot;,Arial,sans-serif" >USL:26</text><text x="1343.1" y="471.1" font-size="11.2" fill="#111" text-anchor="start" style="font-family:&quot;Liberation Sans&quot;,Arial,sans-serif" >Sample mean:18.034</text><text x="1343.1" y="483.1" font-size="11.2" fill="#111" text-anchor="start" style="font-family:&quot;Liberation Sans&quot;,Arial,sans-serif" >Sample N:50</text><text x="1343.1" y="495.1" font-size="11.2" fill="#111" text-anchor="start" style="font-family:&quot;Liberation Sans&quot;,Arial,sans-serif" >StDev(Overall):0.1547</text><text x="1343.1" y="507.1" font-size="11.2" fill="#111" text-anchor="start" style="font-family:&quot;Liberation Sans&quot;,Arial,sans-serif" >StDev(Within):0.0959</text><text x="1343.1" y="519.1" font-size="11.2" fill="#111" text-anchor="start" style="font-family:&quot;Liberation Sans&quot;,Arial,sans-serif" >AD:3.9418</text><text x="1343.1" y="531.1" font-size="11.2" fill="#111" text-anchor="start" style="font-family:&quot;Liberation Sans&quot;,Arial,sans-serif" >p-value:0</text><text x="1343.1" y="543.1" font-size="11.2" fill="#111" text-anchor="start" style="font-family:&quot;Liberation Sans&quot;,Arial,sans-serif" >Coefficient of Variation:0.0086</text><g clip-path="url(#cp6)"><rect x="1733.1" y="417.2" width="118.7" height="225.50000000000006" fill="#fff" stroke="#cfcfcf" stroke-width="1"/><text x="1741.3" y="434.6" font-size="11.2" fill="#111" text-anchor="start" style="font-family:&quot;Liberation Sans&quot;,&quot;Noto Sans CJK SC&quot;,sans-serif" font-weight="bold" >Overall Capability</text><text x="1741.3" y="478.0" font-size="11.2" fill="#111" text-anchor="start" style="font-family:&quot;Liberation Sans&quot;,&quot;Noto Sans CJK SC&quot;,sans-serif" >Pp：12.9309</text><text x="1741.3" y="493.8" font-size="11.2" fill="#111" text-anchor="start" style="font-family:&quot;Liberation Sans&quot;,&quot;Noto Sans CJK SC&quot;,sans-serif" >PPL：8.6938</text><text x="1741.3" y="509.9" font-size="11.2" fill="#111" text-anchor="start" style="font-family:&quot;Liberation Sans&quot;,&quot;Noto Sans CJK SC&quot;,sans-serif" >PPU：17.1679</text><text x="1741.3" y="526.0" font-size="11.2" fill="#111" text-anchor="start" style="font-family:&quot;Liberation Sans&quot;,&quot;Noto Sans CJK SC&quot;,sans-serif" >Ppk：8.6938</text><text x="1741.3" y="538.8" font-size="11.2" fill="#111" text-anchor="start" style="font-family:&quot;Liberation Sans&quot;,&quot;Noto Sans CJK SC&quot;,sans-serif" font-weight="bold" >Potential (within)</text><text x="1741.3" y="551.0" font-size="11.2" fill="#111" text-anchor="start" style="font-family:&quot;Liberation Sans&quot;,&quot;Noto Sans CJK SC&quot;,sans-serif" font-weight="bold" >Capability</text><text x="1741.3" y="566.2" font-size="11.2" fill="#111" text-anchor="start" style="font-family:&quot;Liberation Sans&quot;,&quot;Noto Sans CJK SC&quot;,sans-serif" >Cp：20.8574</text><text x="1741.3" y="582.0" font-size="11.2" fill="#111" text-anchor="start" style="font-family:&quot;Liberation Sans&quot;,&quot;Noto Sans CJK SC&quot;,sans-serif" >CPL：14.0231</text><text x="1741.3" y="597.9" font-size="11.2" fill="#111" text-anchor="start" style="font-family:&quot;Liberation Sans&quot;,&quot;Noto Sans CJK SC&quot;,sans-serif" >CPU：27.6916</text><text x="1741.3" y="614.0" font-size="11.2" fill="#111" text-anchor="start" style="font-family:&quot;Liberation Sans&quot;,&quot;Noto Sans CJK SC&quot;,sans-serif" >Cpk：14.0231</text><text x="1741.3" y="630.0" font-size="11.2" fill="#111" text-anchor="start" style="font-family:&quot;Liberation Sans&quot;,&quot;Noto Sans CJK SC&quot;,sans-serif" >Cpm：</text><path d="M1811.8 444.9 C1814.8 440.0 1823.1 440.0 1826.1 444.9 C1823.1 449.8 1814.8 449.8 1811.8 444.9 Z" fill="none" stroke="#222" stroke-width="0.95"/><circle cx="1819.0" cy="444.9" r="1.75" fill="none" stroke="#222" stroke-width="1.05"/><path d="M1830.1 449.7 L1830.8 447.1 L1832.7 449.0 Z" fill="#222"/><line x1="1831.7" y1="448.1" x2="1838.7" y2="441.1" stroke="#222" stroke-width="2.9"/><circle cx="1839.1" cy="440.7" r="1.45" fill="#222"/><line x1="1837.0" y1="441.4" x2="1838.4" y2="442.8" stroke="#fff" stroke-width="0.5"/></g><text x="1333.9" y="622.0" font-size="8" fill="#444" text-anchor="start" style="font-family:&quot;Liberation Sans&quot;,Arial,sans-serif" >3168</text><text x="1852.2" y="622.0" font-size="8" fill="#333" text-anchor="end" style="font-family:&quot;Liberation Sans&quot;,Arial,sans-serif" >Last Update Time: 2025-05-13 16:58:30 (11months ago)</text></svg>
<div class="card" style="left:212.8px;top:650.0px;width:542.2px;height:263.4px">
<div class="ttl" style="height:33.7px"><span style="left:10.1px;top:7.0px">User Test Data &gt;&nbsp; &gt; Battery &gt;&nbsp; &gt; 30000523001</span></div>
</div>
<svg class="abs" style="left:212px;top:650px;overflow:hidden" width="543" height="264" viewBox="212 650 543 264"><line x1="264.8" y1="707.1" x2="264.8" y2="823.7" stroke="#6e7079" stroke-width="1.6"/><line x1="264.8" y1="822.9" x2="663.6" y2="822.9" stroke="#6e7079" stroke-width="1.6"/><line x1="268.6" y1="781.3" x2="659.1" y2="781.3" stroke="#ff4a4a" stroke-width="1.1" stroke-dasharray="4 3"/><line x1="268.6" y1="810.2" x2="659.1" y2="810.2" stroke="#6cdcbb" stroke-width="1.3"/><line x1="268.6" y1="822.9" x2="659.1" y2="822.9" stroke="#ff4a4a" stroke-width="1.1" stroke-dasharray="4 3"/><line x1="260.8" y1="822.9" x2="264.8" y2="822.9" stroke="#6e7079" stroke-width="1"/><text x="258.3" y="826.5" font-size="10" fill="#7b7f87" text-anchor="end" style="font-family:&quot;Noto Sans CJK SC&quot;,&quot;Liberation Sans&quot;,sans-serif" >0</text><line x1="260.8" y1="799.9" x2="264.8" y2="799.9" stroke="#6e7079" stroke-width="1"/><text x="258.3" y="803.5" font-size="10" fill="#7b7f87" text-anchor="end" style="font-family:&quot;Noto Sans CJK SC&quot;,&quot;Liberation Sans&quot;,sans-serif" >10</text><line x1="260.8" y1="776.9" x2="264.8" y2="776.9" stroke="#6e7079" stroke-width="1"/><text x="258.3" y="780.5" font-size="10" fill="#7b7f87" text-anchor="end" style="font-family:&quot;Noto Sans CJK SC&quot;,&quot;Liberation Sans&quot;,sans-serif" >20</text><line x1="260.8" y1="753.9" x2="264.8" y2="753.9" stroke="#6e7079" stroke-width="1"/><text x="258.3" y="757.5" font-size="10" fill="#7b7f87" text-anchor="end" style="font-family:&quot;Noto Sans CJK SC&quot;,&quot;Liberation Sans&quot;,sans-serif" >30</text><line x1="260.8" y1="730.9" x2="264.8" y2="730.9" stroke="#6e7079" stroke-width="1"/><text x="258.3" y="734.5" font-size="10" fill="#7b7f87" text-anchor="end" style="font-family:&quot;Noto Sans CJK SC&quot;,&quot;Liberation Sans&quot;,sans-serif" >40</text><line x1="260.8" y1="707.9" x2="264.8" y2="707.9" stroke="#6e7079" stroke-width="1"/><text x="258.3" y="711.5" font-size="10" fill="#7b7f87" text-anchor="end" style="font-family:&quot;Noto Sans CJK SC&quot;,&quot;Liberation Sans&quot;,sans-serif" >50</text><text x="268.6" y="836.8" font-size="10" fill="#7b7f87" text-anchor="middle" style="font-family:&quot;Noto Sans CJK SC&quot;,&quot;Liberation Sans&quot;,sans-serif" >0</text><text x="284.5" y="836.8" font-size="10" fill="#7b7f87" text-anchor="middle" style="font-family:&quot;Noto Sans CJK SC&quot;,&quot;Liberation Sans&quot;,sans-serif" >2</text><text x="300.5" y="836.8" font-size="10" fill="#7b7f87" text-anchor="middle" style="font-family:&quot;Noto Sans CJK SC&quot;,&quot;Liberation Sans&quot;,sans-serif" >4</text><text x="316.4" y="836.8" font-size="10" fill="#7b7f87" text-anchor="middle" style="font-family:&quot;Noto Sans CJK SC&quot;,&quot;Liberation Sans&quot;,sans-serif" >6</text><text x="332.3" y="836.8" font-size="10" fill="#7b7f87" text-anchor="middle" style="font-family:&quot;Noto Sans CJK SC&quot;,&quot;Liberation Sans&quot;,sans-serif" >8</text><text x="348.2" y="836.8" font-size="10" fill="#7b7f87" text-anchor="middle" style="font-family:&quot;Noto Sans CJK SC&quot;,&quot;Liberation Sans&quot;,sans-serif" >10</text><text x="364.2" y="836.8" font-size="10" fill="#7b7f87" text-anchor="middle" style="font-family:&quot;Noto Sans CJK SC&quot;,&quot;Liberation Sans&quot;,sans-serif" >12</text><text x="380.1" y="836.8" font-size="10" fill="#7b7f87" text-anchor="middle" style="font-family:&quot;Noto Sans CJK SC&quot;,&quot;Liberation Sans&quot;,sans-serif" >14</text><text x="396.0" y="836.8" font-size="10" fill="#7b7f87" text-anchor="middle" style="font-family:&quot;Noto Sans CJK SC&quot;,&quot;Liberation Sans&quot;,sans-serif" >16</text><text x="412.0" y="836.8" font-size="10" fill="#7b7f87" text-anchor="middle" style="font-family:&quot;Noto Sans CJK SC&quot;,&quot;Liberation Sans&quot;,sans-serif" >18</text><text x="427.9" y="836.8" font-size="10" fill="#7b7f87" text-anchor="middle" style="font-family:&quot;Noto Sans CJK SC&quot;,&quot;Liberation Sans&quot;,sans-serif" >20</text><text x="443.8" y="836.8" font-size="10" fill="#7b7f87" text-anchor="middle" style="font-family:&quot;Noto Sans CJK SC&quot;,&quot;Liberation Sans&quot;,sans-serif" >22</text><text x="459.8" y="836.8" font-size="10" fill="#7b7f87" text-anchor="middle" style="font-family:&quot;Noto Sans CJK SC&quot;,&quot;Liberation Sans&quot;,sans-serif" >24</text><text x="475.7" y="836.8" font-size="10" fill="#7b7f87" text-anchor="middle" style="font-family:&quot;Noto Sans CJK SC&quot;,&quot;Liberation Sans&quot;,sans-serif" >26</text><text x="491.6" y="836.8" font-size="10" fill="#7b7f87" text-anchor="middle" style="font-family:&quot;Noto Sans CJK SC&quot;,&quot;Liberation Sans&quot;,sans-serif" >28</text><text x="507.6" y="836.8" font-size="10" fill="#7b7f87" text-anchor="middle" style="font-family:&quot;Noto Sans CJK SC&quot;,&quot;Liberation Sans&quot;,sans-serif" >30</text><text x="523.5" y="836.8" font-size="10" fill="#7b7f87" text-anchor="middle" style="font-family:&quot;Noto Sans CJK SC&quot;,&quot;Liberation Sans&quot;,sans-serif" >32</text><text x="539.4" y="836.8" font-size="10" fill="#7b7f87" text-anchor="middle" style="font-family:&quot;Noto Sans CJK SC&quot;,&quot;Liberation Sans&quot;,sans-serif" >34</text><text x="555.3" y="836.8" font-size="10" fill="#7b7f87" text-anchor="middle" style="font-family:&quot;Noto Sans CJK SC&quot;,&quot;Liberation Sans&quot;,sans-serif" >36</text><text x="571.3" y="836.8" font-size="10" fill="#7b7f87" text-anchor="middle" style="font-family:&quot;Noto Sans CJK SC&quot;,&quot;Liberation Sans&quot;,sans-serif" >38</text><text x="587.2" y="836.8" font-size="10" fill="#7b7f87" text-anchor="middle" style="font-family:&quot;Noto Sans CJK SC&quot;,&quot;Liberation Sans&quot;,sans-serif" >40</text><text x="603.1" y="836.8" font-size="10" fill="#7b7f87" text-anchor="middle" style="font-family:&quot;Noto Sans CJK SC&quot;,&quot;Liberation Sans&quot;,sans-serif" >42</text><text x="619.1" y="836.8" font-size="10" fill="#7b7f87" text-anchor="middle" style="font-family:&quot;Noto Sans CJK SC&quot;,&quot;Liberation Sans&quot;,sans-serif" >44</text><text x="635.0" y="836.8" font-size="10" fill="#7b7f87" text-anchor="middle" style="font-family:&quot;Noto Sans CJK SC&quot;,&quot;Liberation Sans&quot;,sans-serif" >46</text><text x="650.9" y="836.8" font-size="10" fill="#7b7f87" text-anchor="middle" style="font-family:&quot;Noto Sans CJK SC&quot;,&quot;Liberation Sans&quot;,sans-serif" >48</text><text x="235.3" y="765.5" font-size="9.6" fill="#6e7079" text-anchor="middle" style="font-family:&quot;Noto Sans CJK SC&quot;,&quot;Liberation Sans&quot;,sans-serif" font-weight="bold" letter-spacing="0.45" transform="rotate(-90 235.3 765.5)">Moving range</text><polyline points="268.6,822.9 276.6,820.5 284.5,818.1 292.5,818.1 300.5,813.7 308.4,820.5 316.4,818.1 324.4,822.9 332.3,820.6 340.3,820.6 348.2,818.3 356.2,820.6 364.2,804.0 372.1,807.0 380.1,822.9 388.1,820.5 396.0,818.1 404.0,818.1 412.0,813.7 419.9,818.1 427.9,721.5 435.9,740.1 443.8,809.1 451.8,815.5 459.8,820.5 467.7,813.7 475.7,820.5 483.7,813.7 491.6,813.7 499.6,813.7 507.6,811.4 515.5,811.4 523.5,811.4 531.4,800.6 539.4,820.5 547.4,816.0 555.3,818.3 563.3,811.4 571.3,802.2 579.2,779.4 587.2,790.7 595.2,818.1 603.1,811.4 611.1,804.7 619.1,811.4 627.0,816.0 635.0,820.5 643.0,806.6 650.9,806.6 658.9,810.7" fill="none" stroke="#0e3e7f" stroke-width="2.6" stroke-linejoin="round"/><circle cx="268.6" cy="822.9" r="3" fill="#0e3e7f"/><circle cx="284.5" cy="818.1" r="3" fill="#0e3e7f"/><circle cx="300.5" cy="813.7" r="3" fill="#0e3e7f"/><circle cx="316.4" cy="818.1" r="3" fill="#0e3e7f"/><circle cx="364.2" cy="804.0" r="3" fill="#0e3e7f"/><circle cx="380.1" cy="822.9" r="3" fill="#0e3e7f"/><circle cx="396.0" cy="818.1" r="3" fill="#0e3e7f"/><circle cx="412.0" cy="813.7" r="3" fill="#0e3e7f"/><circle cx="443.8" cy="809.1" r="3" fill="#0e3e7f"/><circle cx="459.8" cy="820.5" r="3" fill="#0e3e7f"/><circle cx="475.7" cy="820.5" r="3" fill="#0e3e7f"/><circle cx="491.6" cy="813.7" r="3" fill="#0e3e7f"/><circle cx="507.6" cy="811.4" r="3" fill="#0e3e7f"/><circle cx="539.4" cy="820.5" r="3" fill="#0e3e7f"/><circle cx="555.3" cy="818.3" r="3" fill="#0e3e7f"/><circle cx="571.3" cy="802.2" r="3" fill="#0e3e7f"/><circle cx="587.2" cy="790.7" r="3" fill="#0e3e7f"/><circle cx="603.1" cy="811.4" r="3" fill="#0e3e7f"/><circle cx="619.1" cy="811.4" r="3" fill="#0e3e7f"/><circle cx="635.0" cy="820.5" r="3" fill="#0e3e7f"/><circle cx="650.9" cy="806.6" r="3" fill="#0e3e7f"/><circle cx="332.3" cy="820.6" r="3.4" fill="#ff0000"/><circle cx="340.3" cy="820.6" r="3.4" fill="#ff0000"/><circle cx="348.2" cy="818.3" r="3.4" fill="#ff0000"/><circle cx="356.2" cy="820.6" r="3.4" fill="#ff0000"/><circle cx="427.9" cy="721.5" r="3.4" fill="#ff0000"/><circle cx="435.9" cy="740.1" r="3.4" fill="#ff0000"/><circle cx="515.5" cy="811.4" r="3.4" fill="#ff0000"/><circle cx="523.5" cy="811.4" r="3.4" fill="#ff0000"/><circle cx="579.2" cy="779.4" r="3.4" fill="#ff0000"/><text x="628.6" y="793.1" font-size="10" fill="#333" text-anchor="start" style="font-family:&quot;Noto Sans CJK SC&quot;,&quot;Liberation Sans&quot;,sans-serif" >UCL=18.0685</text><text x="646.6" y="816.9" font-size="10" fill="#333" text-anchor="start" style="font-family:&quot;Noto Sans CJK SC&quot;,&quot;Liberation Sans&quot;,sans-serif" >LCL=0</text><line x1="662.6" y1="808.3" x2="667.8" y2="808.3" stroke="#666" stroke-width="0.9"/><text x="662.0" y="816.9" font-size="10" fill="#666" text-anchor="start" style="font-family:&quot;Noto Sans CJK SC&quot;,&quot;Liberation Sans&quot;,sans-serif" >R=5.5306</text><rect x="660.0" y="698.3" width="11" height="11.4" rx="0.8" fill="none" stroke="#7a7a7a" stroke-width="1.2"/><path d="M660.8 706.4 L662.3 704.4 L663.8 704.9 L665.9 701.4 L668.0 705.5 L670.3 701.9" fill="none" stroke="#7a7a7a" stroke-width="0.9"/><path d="M681.6 710.1 L682.3 707.3 L691.2 698.3 L693.6 700.7 L684.6 709.5 Z" fill="#7a7a7a"/><path d="M689.9 699.6 L692.3 702.0" stroke="#fff" stroke-width="0.7" opacity="0.8"/><path d="M704.7 703.9 C706.7 700.5 708.7 699.3 710.4 699.3 C712.1 699.3 714.1 700.5 716.1 703.9 C714.1 707.3 712.1 708.5 710.4 708.5 C708.7 708.5 706.7 707.3 704.7 703.9 Z" fill="none" stroke="#7a7a7a" stroke-width="1"/><circle cx="710.4" cy="703.9" r="1.9" fill="none" stroke="#7a7a7a" stroke-width="1.5"/><path d="M731.7 697.9 V707.4 M727.0 702.3 L731.7 707.4 L736.4 702.3 M726.7 706.4 V709.7 H736.7 V706.4" fill="none" stroke="#7a7a7a" stroke-width="1.1"/><circle cx="237.4" cy="855.2" r="1.5" fill="#ff0000"/><text x="249.3" y="859.2" font-size="11.2" fill="#ff0000" text-anchor="start" style="font-family:&quot;Liberation Sans&quot;,Arial,sans-serif" >1 beyond 3*sigma: 20, 21, 39</text><circle cx="237.4" cy="873.4" r="1.5" fill="#ff0000"/><text x="249.3" y="877.4" font-size="11.2" fill="#ff0000" text-anchor="start" style="font-family:&quot;Liberation Sans&quot;,Arial,sans-serif" >9 points on one side: 8, 9, 10, 11, 31, 32</text><circle cx="237.4" cy="890.2" r="1.5" fill="#ff0000"/><text x="249.3" y="894.2" font-size="11.2" fill="#ff0000" text-anchor="start" style="font-family:&quot;Liberation Sans&quot;,Arial,sans-serif" >OOC: 9/50=18.0000%</text><text x="225.0" y="898.0" font-size="8" fill="#444" text-anchor="start" style="font-family:&quot;Liberation Sans&quot;,Arial,sans-serif" >3914</text><text x="743.3" y="898.0" font-size="8" fill="#333" text-anchor="end" style="font-family:&quot;Liberation Sans&quot;,Arial,sans-serif" >Last Update Time: 2025-12-08 15:02:53 (4months ago)</text></svg>
<div class="card" style="left:767.45px;top:650.0px;width:542.3px;height:263.4px">
<div class="ttl" style="height:33.7px"><span style="left:17.6px;top:6.0px">User Test Data &gt;&nbsp; &gt; Coating &gt;&nbsp; &gt; Thickness</span></div>
</div>
<svg class="abs" style="left:767px;top:650px;overflow:hidden" width="543" height="264" viewBox="767 650 543 264"><line x1="818.9" y1="707.1" x2="818.9" y2="876.7" stroke="#6e7079" stroke-width="1.6"/><line x1="818.9" y1="875.9" x2="1217.4" y2="875.9" stroke="#6e7079" stroke-width="1.6"/><line x1="822.8" y1="732.4" x2="1213.0" y2="732.4" stroke="#ff4a4a" stroke-width="1.1" stroke-dasharray="4 3"/><line x1="822.8" y1="803.0" x2="1213.0" y2="803.0" stroke="#6cdcbb" stroke-width="1.3"/><line x1="822.8" y1="873.7" x2="1213.0" y2="873.7" stroke="#ff4a4a" stroke-width="1.1" stroke-dasharray="4 3"/><line x1="814.9" y1="875.9" x2="818.9" y2="875.9" stroke="#6e7079" stroke-width="1"/><text x="812.4" y="879.5" font-size="10" fill="#7b7f87" text-anchor="end" style="font-family:&quot;Noto Sans CJK SC&quot;,&quot;Liberation Sans&quot;,sans-serif" >0</text><line x1="814.9" y1="842.3" x2="818.9" y2="842.3" stroke="#6e7079" stroke-width="1"/><text x="812.4" y="845.9" font-size="10" fill="#7b7f87" text-anchor="end" style="font-family:&quot;Noto Sans CJK SC&quot;,&quot;Liberation Sans&quot;,sans-serif" >5</text><line x1="814.9" y1="808.7" x2="818.9" y2="808.7" stroke="#6e7079" stroke-width="1"/><text x="812.4" y="812.3" font-size="10" fill="#7b7f87" text-anchor="end" style="font-family:&quot;Noto Sans CJK SC&quot;,&quot;Liberation Sans&quot;,sans-serif" >10</text><line x1="814.9" y1="775.1" x2="818.9" y2="775.1" stroke="#6e7079" stroke-width="1"/><text x="812.4" y="778.7" font-size="10" fill="#7b7f87" text-anchor="end" style="font-family:&quot;Noto Sans CJK SC&quot;,&quot;Liberation Sans&quot;,sans-serif" >15</text><line x1="814.9" y1="741.5" x2="818.9" y2="741.5" stroke="#6e7079" stroke-width="1"/><text x="812.4" y="745.1" font-size="10" fill="#7b7f87" text-anchor="end" style="font-family:&quot;Noto Sans CJK SC&quot;,&quot;Liberation Sans&quot;,sans-serif" >20</text><line x1="814.9" y1="707.9" x2="818.9" y2="707.9" stroke="#6e7079" stroke-width="1"/><text x="812.4" y="711.5" font-size="10" fill="#7b7f87" text-anchor="end" style="font-family:&quot;Noto Sans CJK SC&quot;,&quot;Liberation Sans&quot;,sans-serif" >25</text><text x="822.8" y="889.9" font-size="10" fill="#7b7f87" text-anchor="middle" style="font-family:&quot;Noto Sans CJK SC&quot;,&quot;Liberation Sans&quot;,sans-serif" >0</text><text x="838.7" y="889.9" font-size="10" fill="#7b7f87" text-anchor="middle" style="font-family:&quot;Noto Sans CJK SC&quot;,&quot;Liberation Sans&quot;,sans-serif" >2</text><text x="854.6" y="889.9" font-size="10" fill="#7b7f87" text-anchor="middle" style="font-family:&quot;Noto Sans CJK SC&quot;,&quot;Liberation Sans&quot;,sans-serif" >4</text><text x="870.6" y="889.9" font-size="10" fill="#7b7f87" text-anchor="middle" style="font-family:&quot;Noto Sans CJK SC&quot;,&quot;Liberation Sans&quot;,sans-serif" >6</text><text x="886.5" y="889.9" font-size="10" fill="#7b7f87" text-anchor="middle" style="font-family:&quot;Noto Sans CJK SC&quot;,&quot;Liberation Sans&quot;,sans-serif" >8</text><text x="902.4" y="889.9" font-size="10" fill="#7b7f87" text-anchor="middle" style="font-family:&quot;Noto Sans CJK SC&quot;,&quot;Liberation Sans&quot;,sans-serif" >10</text><text x="918.3" y="889.9" font-size="10" fill="#7b7f87" text-anchor="middle" style="font-family:&quot;Noto Sans CJK SC&quot;,&quot;Liberation Sans&quot;,sans-serif" >12</text><text x="934.3" y="889.9" font-size="10" fill="#7b7f87" text-anchor="middle" style="font-family:&quot;Noto Sans CJK SC&quot;,&quot;Liberation Sans&quot;,sans-serif" >14</text><text x="950.2" y="889.9" font-size="10" fill="#7b7f87" text-anchor="middle" style="font-family:&quot;Noto Sans CJK SC&quot;,&quot;Liberation Sans&quot;,sans-serif" >16</text><text x="966.1" y="889.9" font-size="10" fill="#7b7f87" text-anchor="middle" style="font-family:&quot;Noto Sans CJK SC&quot;,&quot;Liberation Sans&quot;,sans-serif" >18</text><text x="982.0" y="889.9" font-size="10" fill="#7b7f87" text-anchor="middle" style="font-family:&quot;Noto Sans CJK SC&quot;,&quot;Liberation Sans&quot;,sans-serif" >20</text><text x="998.0" y="889.9" font-size="10" fill="#7b7f87" text-anchor="middle" style="font-family:&quot;Noto Sans CJK SC&quot;,&quot;Liberation Sans&quot;,sans-serif" >22</text><text x="1013.9" y="889.9" font-size="10" fill="#7b7f87" text-anchor="middle" style="font-family:&quot;Noto Sans CJK SC&quot;,&quot;Liberation Sans&quot;,sans-serif" >24</text><text x="1029.8" y="889.9" font-size="10" fill="#7b7f87" text-anchor="middle" style="font-family:&quot;Noto Sans CJK SC&quot;,&quot;Liberation Sans&quot;,sans-serif" >26</text><text x="1045.8" y="889.9" font-size="10" fill="#7b7f87" text-anchor="middle" style="font-family:&quot;Noto Sans CJK SC&quot;,&quot;Liberation Sans&quot;,sans-serif" >28</text><text x="1061.7" y="889.9" font-size="10" fill="#7b7f87" text-anchor="middle" style="font-family:&quot;Noto Sans CJK SC&quot;,&quot;Liberation Sans&quot;,sans-serif" >30</text><text x="1077.6" y="889.9" font-size="10" fill="#7b7f87" text-anchor="middle" style="font-family:&quot;Noto Sans CJK SC&quot;,&quot;Liberation Sans&quot;,sans-serif" >32</text><text x="1093.5" y="889.9" font-size="10" fill="#7b7f87" text-anchor="middle" style="font-family:&quot;Noto Sans CJK SC&quot;,&quot;Liberation Sans&quot;,sans-serif" >34</text><text x="1109.5" y="889.9" font-size="10" fill="#7b7f87" text-anchor="middle" style="font-family:&quot;Noto Sans CJK SC&quot;,&quot;Liberation Sans&quot;,sans-serif" >36</text><text x="1125.4" y="889.9" font-size="10" fill="#7b7f87" text-anchor="middle" style="font-family:&quot;Noto Sans CJK SC&quot;,&quot;Liberation Sans&quot;,sans-serif" >38</text><text x="1141.3" y="889.9" font-size="10" fill="#7b7f87" text-anchor="middle" style="font-family:&quot;Noto Sans CJK SC&quot;,&quot;Liberation Sans&quot;,sans-serif" >40</text><text x="1157.2" y="889.9" font-size="10" fill="#7b7f87" text-anchor="middle" style="font-family:&quot;Noto Sans CJK SC&quot;,&quot;Liberation Sans&quot;,sans-serif" >42</text><text x="1173.2" y="889.9" font-size="10" fill="#7b7f87" text-anchor="middle" style="font-family:&quot;Noto Sans CJK SC&quot;,&quot;Liberation Sans&quot;,sans-serif" >44</text><text x="1189.1" y="889.9" font-size="10" fill="#7b7f87" text-anchor="middle" style="font-family:&quot;Noto Sans CJK SC&quot;,&quot;Liberation Sans&quot;,sans-serif" >46</text><text x="1205.0" y="889.9" font-size="10" fill="#7b7f87" text-anchor="middle" style="font-family:&quot;Noto Sans CJK SC&quot;,&quot;Liberation Sans&quot;,sans-serif" >48</text><text x="789.2" y="791.7" font-size="9.6" fill="#6e7079" text-anchor="middle" style="font-family:&quot;Noto Sans CJK SC&quot;,&quot;Liberation Sans&quot;,sans-serif" font-weight="bold" letter-spacing="0.28" transform="rotate(-90 789.2 791.7)">Sample StDev</text><polyline points="822.8,791.4 830.8,771.9 838.7,820.2 846.7,790.3 854.6,807.2 862.6,825.6 870.6,844.0 878.5,825.2 886.5,785.5 894.5,831.0 902.4,759.0 910.4,803.9 918.3,809.4 926.3,784.8 934.3,795.3 942.2,788.7 950.2,816.3 958.2,821.7 966.1,785.5 974.1,786.6 982.0,793.1 990.0,744.3 998.0,827.3 1005.9,847.3 1013.9,772.9 1021.9,824.5 1029.8,828.9 1037.8,797.4 1045.8,788.7 1053.7,817.6 1061.7,830.6 1069.6,821.7 1077.6,771.4 1085.6,794.2 1093.5,828.9 1101.5,780.7 1109.5,775.1 1117.4,834.9 1125.4,784.8 1133.3,759.9 1141.3,802.4 1149.3,787.3 1157.2,810.0 1165.2,843.0 1173.2,813.7 1181.1,835.4 1189.1,792.6 1197.0,817.0 1205.0,797.0 1213.0,790.9" fill="none" stroke="#0e3e7f" stroke-width="2.6" stroke-linejoin="round"/><circle cx="822.8" cy="791.4" r="3" fill="#0e3e7f"/><circle cx="838.7" cy="820.2" r="3" fill="#0e3e7f"/><circle cx="854.6" cy="807.2" r="3" fill="#0e3e7f"/><circle cx="870.6" cy="844.0" r="3" fill="#0e3e7f"/><circle cx="886.5" cy="785.5" r="3" fill="#0e3e7f"/><circle cx="902.4" cy="759.0" r="3" fill="#0e3e7f"/><circle cx="918.3" cy="809.4" r="3" fill="#0e3e7f"/><circle cx="934.3" cy="795.3" r="3" fill="#0e3e7f"/><circle cx="950.2" cy="816.3" r="3" fill="#0e3e7f"/><circle cx="966.1" cy="785.5" r="3" fill="#0e3e7f"/><circle cx="982.0" cy="793.1" r="3" fill="#0e3e7f"/><circle cx="998.0" cy="827.3" r="3" fill="#0e3e7f"/><circle cx="1013.9" cy="772.9" r="3" fill="#0e3e7f"/><circle cx="1029.8" cy="828.9" r="3" fill="#0e3e7f"/><circle cx="1045.8" cy="788.7" r="3" fill="#0e3e7f"/><circle cx="1061.7" cy="830.6" r="3" fill="#0e3e7f"/><circle cx="1077.6" cy="771.4" r="3" fill="#0e3e7f"/><circle cx="1093.5" cy="828.9" r="3" fill="#0e3e7f"/><circle cx="1109.5" cy="775.1" r="3" fill="#0e3e7f"/><circle cx="1125.4" cy="784.8" r="3" fill="#0e3e7f"/><circle cx="1141.3" cy="802.4" r="3" fill="#0e3e7f"/><circle cx="1157.2" cy="810.0" r="3" fill="#0e3e7f"/><circle cx="1173.2" cy="813.7" r="3" fill="#0e3e7f"/><circle cx="1189.1" cy="792.6" r="3" fill="#0e3e7f"/><circle cx="1205.0" cy="797.0" r="3" fill="#0e3e7f"/><text x="1182.6" y="744.3" font-size="10" fill="#333" text-anchor="start" style="font-family:&quot;Noto Sans CJK SC&quot;,&quot;Liberation Sans&quot;,sans-serif" >UCL=21.3606</text><line x1="1216.5" y1="802.0" x2="1221.3" y2="802.0" stroke="#333" stroke-width="0.9"/><text x="1215.9" y="810.6" font-size="10" fill="#333" text-anchor="start" style="font-family:&quot;Noto Sans CJK SC&quot;,&quot;Liberation Sans&quot;,sans-serif" >S=10.843</text><text x="1188.0" y="867.0" font-size="10" fill="#333" text-anchor="start" style="font-family:&quot;Noto Sans CJK SC&quot;,&quot;Liberation Sans&quot;,sans-serif" >LCL=0.3253</text><rect x="1214.1" y="698.5" width="11" height="11.4" rx="0.8" fill="none" stroke="#7a7a7a" stroke-width="1.2"/><path d="M1214.9 706.6 L1216.4 704.6 L1217.9 705.1 L1220.0 701.6 L1222.1 705.7 L1224.4 702.1" fill="none" stroke="#7a7a7a" stroke-width="0.9"/><path d="M1235.9 710.3 L1236.6 707.5 L1245.5 698.5 L1247.9 700.9 L1238.9 709.7 Z" fill="#7a7a7a"/><path d="M1244.2 699.8 L1246.6 702.2" stroke="#fff" stroke-width="0.7" opacity="0.8"/><path d="M1258.5 704.1 C1260.5 700.7 1262.5 699.5 1264.2 699.5 C1265.9 699.5 1267.9 700.7 1269.9 704.1 C1267.9 707.5 1265.9 708.7 1264.2 708.7 C1262.5 708.7 1260.5 707.5 1258.5 704.1 Z" fill="none" stroke="#7a7a7a" stroke-width="1"/><circle cx="1264.2" cy="704.1" r="1.9" fill="none" stroke="#7a7a7a" stroke-width="1.5"/><path d="M1285.3 698.1 V707.6 M1280.6 702.5 L1285.3 707.6 L1290.0 702.5 M1280.3 706.6 V709.9 H1290.3 V706.6" fill="none" stroke="#7a7a7a" stroke-width="1.1"/><text x="778.9" y="898.0" font-size="8" fill="#444" text-anchor="start" style="font-family:&quot;Liberation Sans&quot;,Arial,sans-serif" >3836</text><text x="1297.2" y="898.0" font-size="8" fill="#333" text-anchor="end" style="font-family:&quot;Liberation Sans&quot;,Arial,sans-serif" >Last Update Time: 2025-11-15 17:07:27 (5months ago)</text></svg>
<div class="card" style="left:1322.1px;top:650.0px;width:541.8px;height:263.4px">
<div class="ttl" style="height:33.7px"><span style="left:16.4px;top:7.0px">User Test Data &gt;&nbsp; &gt; Company A &gt;&nbsp; &gt; CA55-4V330L Molded Powder Weight</span></div>
</div>
<svg class="abs" style="left:1322px;top:650px;overflow:hidden" width="542" height="264" viewBox="1322 650 542 264"><line x1="1373.9" y1="706.9" x2="1373.9" y2="823.8" stroke="#6e7079" stroke-width="1.6"/><line x1="1373.9" y1="823.0" x2="1772.8" y2="823.0" stroke="#6e7079" stroke-width="1.6"/><line x1="1377.7" y1="714.1" x2="1767.9" y2="714.1" stroke="#ff4a4a" stroke-width="1.1" stroke-dasharray="4 3"/><line x1="1377.7" y1="789.7" x2="1767.9" y2="789.7" stroke="#6cdcbb" stroke-width="1.3"/><line x1="1377.7" y1="823.0" x2="1767.9" y2="823.0" stroke="#ff4a4a" stroke-width="1.1" stroke-dasharray="4 3"/><line x1="1369.9" y1="823.0" x2="1373.9" y2="823.0" stroke="#6e7079" stroke-width="1"/><text x="1367.4" y="826.6" font-size="10" fill="#7b7f87" text-anchor="end" style="font-family:&quot;Noto Sans CJK SC&quot;,&quot;Liberation Sans&quot;,sans-serif" >0</text><line x1="1369.9" y1="803.8" x2="1373.9" y2="803.8" stroke="#6e7079" stroke-width="1"/><text x="1367.4" y="807.4" font-size="10" fill="#7b7f87" text-anchor="end" style="font-family:&quot;Noto Sans CJK SC&quot;,&quot;Liberation Sans&quot;,sans-serif" >0.3</text><line x1="1369.9" y1="784.6" x2="1373.9" y2="784.6" stroke="#6e7079" stroke-width="1"/><text x="1367.4" y="788.2" font-size="10" fill="#7b7f87" text-anchor="end" style="font-family:&quot;Noto Sans CJK SC&quot;,&quot;Liberation Sans&quot;,sans-serif" >0.6</text><line x1="1369.9" y1="765.3" x2="1373.9" y2="765.3" stroke="#6e7079" stroke-width="1"/><text x="1367.4" y="768.9" font-size="10" fill="#7b7f87" text-anchor="end" style="font-family:&quot;Noto Sans CJK SC&quot;,&quot;Liberation Sans&quot;,sans-serif" >0.9</text><line x1="1369.9" y1="746.1" x2="1373.9" y2="746.1" stroke="#6e7079" stroke-width="1"/><text x="1367.4" y="749.7" font-size="10" fill="#7b7f87" text-anchor="end" style="font-family:&quot;Noto Sans CJK SC&quot;,&quot;Liberation Sans&quot;,sans-serif" >1.2</text><line x1="1369.9" y1="726.9" x2="1373.9" y2="726.9" stroke="#6e7079" stroke-width="1"/><text x="1367.4" y="730.5" font-size="10" fill="#7b7f87" text-anchor="end" style="font-family:&quot;Noto Sans CJK SC&quot;,&quot;Liberation Sans&quot;,sans-serif" >1.5</text><line x1="1369.9" y1="707.7" x2="1373.9" y2="707.7" stroke="#6e7079" stroke-width="1"/><text x="1367.4" y="711.3" font-size="10" fill="#7b7f87" text-anchor="end" style="font-family:&quot;Noto Sans CJK SC&quot;,&quot;Liberation Sans&quot;,sans-serif" >1.8</text><text x="1377.7" y="836.9" font-size="10" fill="#7b7f87" text-anchor="middle" style="font-family:&quot;Noto Sans CJK SC&quot;,&quot;Liberation Sans&quot;,sans-serif" >0</text><text x="1393.6" y="836.9" font-size="10" fill="#7b7f87" text-anchor="middle" style="font-family:&quot;Noto Sans CJK SC&quot;,&quot;Liberation Sans&quot;,sans-serif" >2</text><text x="1409.6" y="836.9" font-size="10" fill="#7b7f87" text-anchor="middle" style="font-family:&quot;Noto Sans CJK SC&quot;,&quot;Liberation Sans&quot;,sans-serif" >4</text><text x="1425.5" y="836.9" font-size="10" fill="#7b7f87" text-anchor="middle" style="font-family:&quot;Noto Sans CJK SC&quot;,&quot;Liberation Sans&quot;,sans-serif" >6</text><text x="1441.5" y="836.9" font-size="10" fill="#7b7f87" text-anchor="middle" style="font-family:&quot;Noto Sans CJK SC&quot;,&quot;Liberation Sans&quot;,sans-serif" >8</text><text x="1457.4" y="836.9" font-size="10" fill="#7b7f87" text-anchor="middle" style="font-family:&quot;Noto Sans CJK SC&quot;,&quot;Liberation Sans&quot;,sans-serif" >10</text><text x="1473.4" y="836.9" font-size="10" fill="#7b7f87" text-anchor="middle" style="font-family:&quot;Noto Sans CJK SC&quot;,&quot;Liberation Sans&quot;,sans-serif" >12</text><text x="1489.3" y="836.9" font-size="10" fill="#7b7f87" text-anchor="middle" style="font-family:&quot;Noto Sans CJK SC&quot;,&quot;Liberation Sans&quot;,sans-serif" >14</text><text x="1505.2" y="836.9" font-size="10" fill="#7b7f87" text-anchor="middle" style="font-family:&quot;Noto Sans CJK SC&quot;,&quot;Liberation Sans&quot;,sans-serif" >16</text><text x="1521.2" y="836.9" font-size="10" fill="#7b7f87" text-anchor="middle" style="font-family:&quot;Noto Sans CJK SC&quot;,&quot;Liberation Sans&quot;,sans-serif" >18</text><text x="1537.1" y="836.9" font-size="10" fill="#7b7f87" text-anchor="middle" style="font-family:&quot;Noto Sans CJK SC&quot;,&quot;Liberation Sans&quot;,sans-serif" >20</text><text x="1553.1" y="836.9" font-size="10" fill="#7b7f87" text-anchor="middle" style="font-family:&quot;Noto Sans CJK SC&quot;,&quot;Liberation Sans&quot;,sans-serif" >22</text><text x="1569.0" y="836.9" font-size="10" fill="#7b7f87" text-anchor="middle" style="font-family:&quot;Noto Sans CJK SC&quot;,&quot;Liberation Sans&quot;,sans-serif" >24</text><text x="1584.9" y="836.9" font-size="10" fill="#7b7f87" text-anchor="middle" style="font-family:&quot;Noto Sans CJK SC&quot;,&quot;Liberation Sans&quot;,sans-serif" >26</text><text x="1600.9" y="836.9" font-size="10" fill="#7b7f87" text-anchor="middle" style="font-family:&quot;Noto Sans CJK SC&quot;,&quot;Liberation Sans&quot;,sans-serif" >28</text><text x="1616.8" y="836.9" font-size="10" fill="#7b7f87" text-anchor="middle" style="font-family:&quot;Noto Sans CJK SC&quot;,&quot;Liberation Sans&quot;,sans-serif" >30</text><text x="1632.8" y="836.9" font-size="10" fill="#7b7f87" text-anchor="middle" style="font-family:&quot;Noto Sans CJK SC&quot;,&quot;Liberation Sans&quot;,sans-serif" >32</text><text x="1648.7" y="836.9" font-size="10" fill="#7b7f87" text-anchor="middle" style="font-family:&quot;Noto Sans CJK SC&quot;,&quot;Liberation Sans&quot;,sans-serif" >34</text><text x="1664.7" y="836.9" font-size="10" fill="#7b7f87" text-anchor="middle" style="font-family:&quot;Noto Sans CJK SC&quot;,&quot;Liberation Sans&quot;,sans-serif" >36</text><text x="1680.6" y="836.9" font-size="10" fill="#7b7f87" text-anchor="middle" style="font-family:&quot;Noto Sans CJK SC&quot;,&quot;Liberation Sans&quot;,sans-serif" >38</text><text x="1696.5" y="836.9" font-size="10" fill="#7b7f87" text-anchor="middle" style="font-family:&quot;Noto Sans CJK SC&quot;,&quot;Liberation Sans&quot;,sans-serif" >40</text><text x="1712.5" y="836.9" font-size="10" fill="#7b7f87" text-anchor="middle" style="font-family:&quot;Noto Sans CJK SC&quot;,&quot;Liberation Sans&quot;,sans-serif" >42</text><text x="1728.4" y="836.9" font-size="10" fill="#7b7f87" text-anchor="middle" style="font-family:&quot;Noto Sans CJK SC&quot;,&quot;Liberation Sans&quot;,sans-serif" >44</text><text x="1744.4" y="836.9" font-size="10" fill="#7b7f87" text-anchor="middle" style="font-family:&quot;Noto Sans CJK SC&quot;,&quot;Liberation Sans&quot;,sans-serif" >46</text><text x="1760.3" y="836.9" font-size="10" fill="#7b7f87" text-anchor="middle" style="font-family:&quot;Noto Sans CJK SC&quot;,&quot;Liberation Sans&quot;,sans-serif" >48</text><text x="1344.0" y="765.3" font-size="9.6" fill="#6e7079" text-anchor="middle" style="font-family:&quot;Noto Sans CJK SC&quot;,&quot;Liberation Sans&quot;,sans-serif" font-weight="bold" letter-spacing="0.46" transform="rotate(-90 1344.0 765.3)">MR of Subgroup Mean</text><polyline points="1377.7,823.0 1385.7,771.3 1393.6,787.1 1401.6,791.0 1409.6,779.4 1417.6,786.0 1425.5,803.9 1433.5,807.8 1441.5,721.5 1449.4,752.9 1457.4,780.9 1465.4,815.3 1473.4,812.8 1481.3,806.3 1489.3,815.3 1497.3,795.3 1505.2,819.2 1513.2,801.8 1521.2,788.3 1529.1,809.2 1537.1,779.3 1545.1,788.7 1553.1,802.6 1561.0,779.4 1569.0,780.6 1577.0,803.5 1584.9,787.1 1592.9,725.9 1600.9,730.9 1608.9,803.5 1616.8,801.0 1624.8,726.8 1632.8,807.5 1640.7,774.6 1648.7,768.0 1656.7,735.8 1664.7,784.4 1672.6,816.5 1680.6,765.4 1688.6,771.6 1696.5,812.4 1704.5,815.3 1712.5,819.2 1720.5,809.9 1728.4,809.9 1736.4,807.2 1744.4,793.1 1752.3,816.5 1760.3,807.5 1768.3,819.2" fill="none" stroke="#0e3e7f" stroke-width="2.6" stroke-linejoin="round"/><circle cx="1377.7" cy="823.0" r="3" fill="#0e3e7f"/><circle cx="1393.6" cy="787.1" r="3" fill="#0e3e7f"/><circle cx="1409.6" cy="779.4" r="3" fill="#0e3e7f"/><circle cx="1425.5" cy="803.9" r="3" fill="#0e3e7f"/><circle cx="1441.5" cy="721.5" r="3" fill="#0e3e7f"/><circle cx="1457.4" cy="780.9" r="3" fill="#0e3e7f"/><circle cx="1473.4" cy="812.8" r="3" fill="#0e3e7f"/><circle cx="1489.3" cy="815.3" r="3" fill="#0e3e7f"/><circle cx="1505.2" cy="819.2" r="3" fill="#0e3e7f"/><circle cx="1521.2" cy="788.3" r="3" fill="#0e3e7f"/><circle cx="1537.1" cy="779.3" r="3" fill="#0e3e7f"/><circle cx="1553.1" cy="802.6" r="3" fill="#0e3e7f"/><circle cx="1569.0" cy="780.6" r="3" fill="#0e3e7f"/><circle cx="1584.9" cy="787.1" r="3" fill="#0e3e7f"/><circle cx="1616.8" cy="801.0" r="3" fill="#0e3e7f"/><circle cx="1632.8" cy="807.5" r="3" fill="#0e3e7f"/><circle cx="1648.7" cy="768.0" r="3" fill="#0e3e7f"/><circle cx="1664.7" cy="784.4" r="3" fill="#0e3e7f"/><circle cx="1680.6" cy="765.4" r="3" fill="#0e3e7f"/><circle cx="1696.5" cy="812.4" r="3" fill="#0e3e7f"/><circle cx="1712.5" cy="819.2" r="3" fill="#0e3e7f"/><circle cx="1728.4" cy="809.9" r="3" fill="#0e3e7f"/><circle cx="1744.4" cy="793.1" r="3" fill="#0e3e7f"/><circle cx="1600.9" cy="730.9" r="3.4" fill="#ff0000"/><circle cx="1608.9" cy="803.5" r="3.4" fill="#ff0000"/><circle cx="1760.3" cy="807.5" r="3.4" fill="#ff0000"/><circle cx="1768.3" cy="819.2" r="3.4" fill="#ff0000"/><text x="1740.7" y="725.5" font-size="10" fill="#333" text-anchor="start" style="font-family:&quot;Noto Sans CJK SC&quot;,&quot;Liberation Sans&quot;,sans-serif" >UCL=1.7002</text><line x1="1771.5" y1="789.2" x2="1778.4" y2="789.2" stroke="#333" stroke-width="0.9"/><line x1="1779.6" y1="789.2" x2="1784.8" y2="789.2" stroke="#333" stroke-width="0.9"/><text x="1770.9" y="797.8" font-size="10" fill="#333" text-anchor="start" style="font-family:&quot;Noto Sans CJK SC&quot;,&quot;Liberation Sans&quot;,sans-serif" >MR=0.5204</text><text x="1755.4" y="816.8" font-size="10" fill="#333" text-anchor="start" style="font-family:&quot;Noto Sans CJK SC&quot;,&quot;Liberation Sans&quot;,sans-serif" >LCL=0</text><rect x="1768.0" y="698.5" width="11" height="11.4" rx="0.8" fill="none" stroke="#7a7a7a" stroke-width="1.2"/><path d="M1768.8 706.6 L1770.3 704.6 L1771.8 705.1 L1773.9 701.6 L1776.0 705.7 L1778.3 702.1" fill="none" stroke="#7a7a7a" stroke-width="0.9"/><path d="M1789.8 710.3 L1790.5 707.5 L1799.4 698.5 L1801.8 700.9 L1792.8 709.7 Z" fill="#7a7a7a"/><path d="M1798.1 699.8 L1800.5 702.2" stroke="#fff" stroke-width="0.7" opacity="0.8"/><path d="M1812.5 704.1 C1814.5 700.7 1816.5 699.5 1818.2 699.5 C1819.9 699.5 1821.9 700.7 1823.9 704.1 C1821.9 707.5 1819.9 708.7 1818.2 708.7 C1816.5 708.7 1814.5 707.5 1812.5 704.1 Z" fill="none" stroke="#7a7a7a" stroke-width="1"/><circle cx="1818.2" cy="704.1" r="1.9" fill="none" stroke="#7a7a7a" stroke-width="1.5"/><path d="M1839.3 698.1 V707.6 M1834.6 702.5 L1839.3 707.6 L1844.0 702.5 M1834.3 706.6 V709.9 H1844.3 V706.6" fill="none" stroke="#7a7a7a" stroke-width="1.1"/><circle cx="1346.3" cy="855.2" r="1.5" fill="#ff0000"/><text x="1357.9" y="859.2" font-size="11.2" fill="#ff0000" text-anchor="start" style="font-family:&quot;Liberation Sans&quot;,Arial,sans-serif" >2 of 3 beyond 2*sigma: 28, 29</text><circle cx="1346.3" cy="873.4" r="1.5" fill="#ff0000"/><text x="1357.9" y="877.4" font-size="11.2" fill="#ff0000" text-anchor="start" style="font-family:&quot;Liberation Sans&quot;,Arial,sans-serif" >9 points on one side: 48, 49</text><circle cx="1346.3" cy="890.2" r="1.5" fill="#ff0000"/><text x="1357.9" y="894.2" font-size="11.2" fill="#ff0000" text-anchor="start" style="font-family:&quot;Liberation Sans&quot;,Arial,sans-serif" >OOC: 4/50=8.0000%</text><text x="1333.9" y="898.0" font-size="8" fill="#444" text-anchor="start" style="font-family:&quot;Liberation Sans&quot;,Arial,sans-serif" >3923</text><text x="1852.2" y="898.0" font-size="8" fill="#333" text-anchor="end" style="font-family:&quot;Liberation Sans&quot;,Arial,sans-serif" >Last Update Time: 2025-12-11 22:52:39 (4months ago)</text></svg>
</body></html>
